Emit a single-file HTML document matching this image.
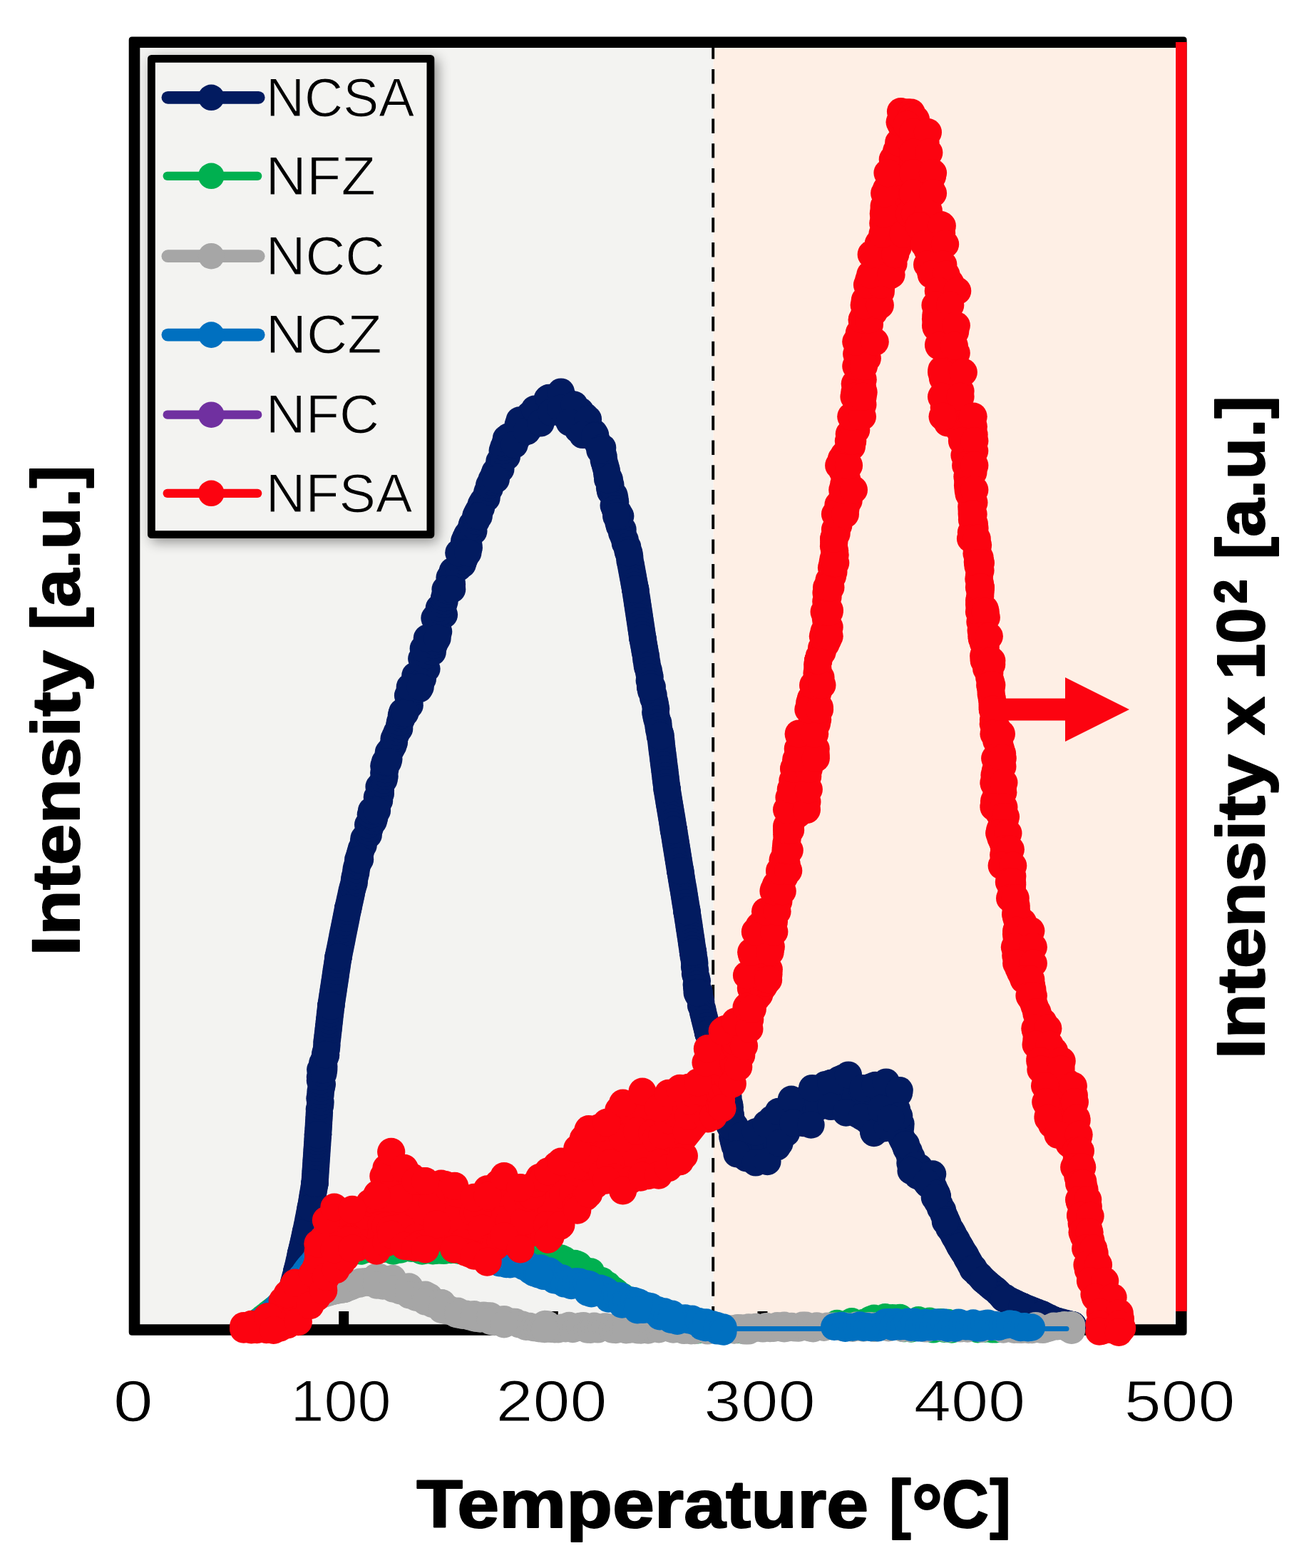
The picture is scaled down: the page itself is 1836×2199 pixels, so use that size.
<!DOCTYPE html>
<html lang="en"><head><meta charset="utf-8"><title>TPD profile</title>
<style>
html,body{margin:0;padding:0;background:#fff;}
body{width:1836px;height:2199px;overflow:hidden;}
svg{display:block;}
text{font-family:"Liberation Sans",sans-serif;fill:#000;}
.r{font-weight:400;stroke-width:1.2px;}
.rl{stroke:#F3F3F1;}
.rt{stroke:#fff;}
.b{font-weight:700;stroke:#000;stroke-width:2px;stroke-linejoin:round;}
</style></head><body>
<svg width="1836" height="2199" viewBox="0 0 1836 2199">
<defs><filter id="sh" x="-20%" y="-20%" width="150%" height="150%"><feGaussianBlur in="SourceAlpha" stdDeviation="9"/><feOffset dx="5" dy="5"/><feComponentTransfer><feFuncA type="linear" slope="0.42"/></feComponentTransfer><feMerge><feMergeNode/><feMergeNode in="SourceGraphic"/></feMerge></filter></defs>
<rect x="0" y="0" width="1836" height="2199" fill="#fff"/>
<rect x="188.5" y="59.2" width="812.0" height="1805.8" fill="#F3F3F1"/>
<rect x="1000.5" y="59.2" width="646.1" height="1805.8" fill="#FEEFE5"/>
<line x1="1000.2" y1="59.2" x2="1000.2" y2="1865" stroke="#000" stroke-width="3.9" stroke-dasharray="20.4 14.3" stroke-dashoffset="-3.2"/>
<path fill="#000" fill-rule="evenodd" d="M185.2 51.4 H1660.1 Q1664.6 51.4 1664.6 55.9 V1868.3 Q1664.6 1872.8 1660.1 1872.8 H185.2 Q180.7 1872.8 180.7 1868.3 V55.9 Q180.7 51.4 185.2 51.4 Z M196.3 67 V1857.2 H1649 V67 Z"/>
<line x1="482.2" y1="1839" x2="482.2" y2="1865" stroke="#000" stroke-width="14"/>
<line x1="775.8" y1="1839" x2="775.8" y2="1865" stroke="#000" stroke-width="14"/>
<line x1="1069.5" y1="1839" x2="1069.5" y2="1865" stroke="#000" stroke-width="14"/>
<line x1="1363.1" y1="1839" x2="1363.1" y2="1865" stroke="#000" stroke-width="14"/>
<line x1="1656.8" y1="1839" x2="1656.8" y2="1865" stroke="#000" stroke-width="14"/>
<line x1="1656.8" y1="59" x2="1656.8" y2="1839" stroke="#FC0310" stroke-width="15.6"/>
<path d="M395.8 1856 L406.7 1819.5 L416.2 1782.9 L421.9 1757.8 L428.7 1728.2 L435.6 1694 L441.5 1659.7 L446 1591.3 L449.3 1500 L456.1 1479.2 L464.3 1410.7 L474.6 1342.3 L488.2 1273.8 L502.3 1205.4 L521.1 1136.9 L540 1068.5 L563.9 1000 L574.9 963.4 L598.9 895 L624.6 826.5 L643.4 775.2 L667.3 723.8 L689.6 672.5 L709.9 615.2 L728.7 589.4 L750 573.7 L769.6 557.9 L786.8 549.6 L805.6 567.8 L824.9 587.9 L835.1 610.2 L845.1 627.9 L854.8 672.5 L870.2 723.8 L882.2 775.2 L891.2 826.5 L901.4 895 L914.7 963.4 L926.7 1031.9 L935.7 1107 L945 1164.1 L954.2 1221.1 L963.5 1278.2 L972.1 1335.2 L980.6 1392.3 L993.4 1449.3 L1015.4 1489.3 L1027.6 1574.5 L1040.5 1592.5 L1059.9 1587.5 L1074.7 1576.1 L1091.9 1558.9 L1109.9 1541.8 L1139.1 1526.1 L1165.4 1519 L1189.9 1507.6 L1210.3 1526.1 L1227.6 1521.9 L1242.9 1517.6 L1261.6 1529.1 L1261.1 1565.1 L1270.9 1604.9 L1284.2 1634.3 L1308.1 1646.5 L1313.7 1673.9 L1327.2 1711.5 L1346.5 1748 L1365.7 1778.7 L1379.3 1795 L1410.1 1820 L1433.5 1832.1 L1462 1843.5 L1480 1852.1 L1504.8 1858.5 L1504.8 1858.5 L1480 1852.1 L1462 1843.5 L1433.5 1832.1 L1408.4 1821.4 L1379.3 1795 L1364.4 1780 L1346.5 1748 L1325.9 1713.1 L1310.9 1679.5 L1299.4 1658.3 L1277.6 1642 L1269.6 1605.8 L1249.4 1568.6 L1236 1554.7 L1244.7 1580.5 L1225.8 1589 L1208.9 1566.2 L1186.6 1560.5 L1165.4 1551.9 L1137.5 1577.6 L1112.5 1574.8 L1093.4 1603.3 L1076.4 1629 L1059.9 1630.4 L1033.5 1618.2 L1023.7 1579.2 L1010.2 1490.4 L993.4 1449.3 L977.7 1392.3 L972 1335.2 L963.4 1278.2 L954.2 1221.1 L944.9 1164.1 L935.7 1107 L925.8 1031.9 L912.1 963.4 L901.4 895 L891.2 826.5 L881.3 775.2 L864.2 723.8 L852.2 672.5 L841.4 631.5 L834.3 611.5 L817.1 609.9 L798.7 592.4 L786.8 572.8 L773.2 578.3 L758.5 593.3 L738.7 605 L721.6 623.6 L695.7 672.5 L671.7 723.8 L656.3 775.2 L634.1 826.5 L613.5 895 L589.6 963.4 L568.3 1000 L544.3 1068.5 L528.9 1136.9 L505 1205.4 L488.2 1273.8 L474.6 1342.3 L464.3 1410.7 L457.1 1479.2 L454.2 1500 L446 1591.3 L441.5 1659.7 L436 1694 L429.1 1728.2 L422.3 1757.8 L416.6 1782.9 L406.7 1819.5 L395.8 1856Z" fill="#021B60" stroke="#021B60" stroke-width="6" stroke-linejoin="round"/>
<g fill="#021B60" stroke="none">
<path d="M395.8 1856 L397.3 1851.2 L398.7 1846.3 L400.1 1841.5 L401.5 1836.7 L403 1831.9 L404.4 1827.1 L405.8 1822.3 L407.2 1817.5 L408.5 1812.6 L409.8 1807.8 L411.1 1802.9 L412.3 1798.1 L413.6 1793.2 L414.9 1788.4 L416.2 1783.5 L417.3 1778.7 L418.5 1773.8 L419.6 1768.9 L420.7 1764 L421.8 1759.1 L422.9 1754.2 L424 1749.3 L425.2 1744.4 L426.3 1739.5 L427.4 1734.7 L428.6 1729.8 L429.6 1724.9 L430.6 1719.9 L431.6 1715 L432.5 1710.1 L433.5 1705.2 L434.5 1700.3 L435.5 1695.4 L436.4 1690.4 L437.2 1685.5 L438 1680.5 L438.8 1675.6 L439.7 1670.6 L440.5 1665.7 L441.3 1660.7 L441.7 1655.7 L442.1 1650.7 L442.4 1645.7 L442.7 1640.7 L443.1 1635.7 L443.4 1630.7 L443.7 1625.7 L444.1 1620.7 L444.4 1615.7 L444.7 1610.7 L445.1 1605.7 L445.4 1600.7 L445.7 1595.7 L446.1 1590.7 L446.4 1585.7 L446.7 1580.7 L447 1575.7 L447.3 1570.7 L447.6 1565.7 L447.9 1560.6 L447.9 1555.6 L449.1 1550.6 L449.5 1545.6 L448.5 1540.6 L449.5 1535.6 L449.6 1530.6 L450.8 1525.6 L451.8 1520.6 L449 1515.6 L449 1510.6 L453.4 1505.6 L451.2 1500.6 L454.3 1495.7 L452.3 1490.8 L454.8 1485.9 L456.6 1481 L456.6 1476.1 L457.9 1471.1 L458.4 1466.1 L458.4 1461.1 L459.2 1456.1 L459.7 1451.2 L460.3 1446.2 L460.9 1441.2 L461.4 1436.2 L462 1431.2 L462.5 1426.2 L463.1 1421.3 L463.7 1416.3 L464.2 1411.3 L464.9 1406.3 L465.7 1401.4 L466.4 1396.4 L467.2 1391.4 L467.9 1386.5 L468.7 1381.5 L469.4 1376.6 L470.2 1371.6 L470.9 1366.6 L471.6 1361.7 L472.4 1356.7 L473.1 1351.8 L473.9 1346.8 L474.6 1341.8 L475.6 1336.9 L476.6 1332 L477.6 1327.1 L478.6 1322.2 L479.6 1317.3 L480.5 1312.3 L481.5 1307.4 L482.5 1302.5 L483.5 1297.6 L484.5 1292.7 L485.5 1287.7 L486.4 1282.8 L487.4 1277.9 L488.4 1273 L489.5 1268.1 L490.6 1263.2 L491.7 1258.3 L492.8 1253.4 L493.7 1248.5 L495.1 1243.6 L496.6 1238.7 L497 1233.9 L497.8 1229 L499.2 1224.1 L499.6 1219.2 L500.8 1214.3 L502.5 1209.4 L503.9 1204.5 L504.3 1199.7 L505.6 1194.9 L506.9 1190.1 L509.6 1185.4 L510 1180.6 L510.5 1175.8 L516.7 1171 L516.4 1166.2 L518.7 1161.4 L516.2 1156.6 L523.7 1151.9 L525.1 1147.1 L519.9 1142.3 L522.9 1137.5 L528.5 1132.6 L529.6 1127.8 L532 1122.9 L528.9 1118 L533.8 1113.2 L533.8 1108.3 L531.6 1103.4 L535.4 1098.6 L538.5 1093.7 L539.5 1088.8 L538.3 1084 L540.2 1079.1 L538.4 1074.2 L540.3 1069.4 L545.3 1064.6 L544.6 1059.9 L544.9 1055.2 L548.8 1050.4 L551.4 1045.7 L552.9 1040.9 L552.6 1036.2 L554.7 1031.5 L556.8 1026.7 L560.1 1022 L560.2 1017.3 L561 1012.5 L563.3 1007.8 L562.9 1003.1 L564.4 998.4 L570.7 993.8 L574.6 989.2 L574.2 984.6 L573.3 980 L572.1 975.4 L579 970.9 L587.9 966.3 L588.4 961.6 L585.4 956.9 L592.8 952.2 L582.4 947.4 L589.8 942.7 L598.4 938 L594.6 933.2 L593.5 928.5 L591.3 923.8 L598.9 919 L606.7 914.3 L593.8 909.6 L608.5 904.8 L610.6 900.1 L612.9 895.4 L612.6 890.6 L615.1 885.8 L611.3 881.1 L613.8 876.3 L612.6 871.6 L609.5 866.8 L622.9 862.1 L620.2 857.3 L615.9 852.6 L622.2 847.8 L623.5 843.1 L623.1 838.3 L624.6 833.6 L629.1 828.8 L632.1 824.1 L633.9 819.5 L633.3 814.8 L630.6 810.1 L633.6 805.5 L634.8 800.8 L643 796.2 L648.7 791.5 L650.1 786.9 L652 782.2 L654.3 777.6 L646.4 772.9 L657.7 768.2 L657.2 763.5 L651.2 758.8 L653.2 754.1 L655.4 749.5 L664.3 744.8 L660.8 740.1 L662.1 735.4 L667.9 730.7 L667.6 726 L668.4 721.4 L670.6 716.8 L674.9 712.3 L674.7 707.7 L677.2 703.1 L682.5 698.6 L682.6 694 L683.6 689.4 L686.8 684.8 L686.2 680.3 L690.2 675.7 L692.5 671.1 L692.7 666.3 L694.4 661.5 L702.3 657.9 L701.4 652.7 L700.4 647.2 L706.5 644 L710.8 640.5 L704.7 632 L706.4 626.9 L708.5 622.1 L718.9 623.1 L713.2 612.5 L724.6 615.6 L727.3 611.6 L728.3 605.6 L726.8 595.4 L739 604.8 L742 600.8 L742.6 591.9 L743 581.8 L752.6 590.1 L753.4 579.8 L759.3 582 L760.6 571.1 L767 576.9 L767.7 559.7 L773 560.8 L779.5 575.6 L783.5 573.3 L787.4 555.3 L789.8 576.4 L794.5 563.1 L794.8 585.3 L798 585.9 L804.3 578.1 L809.4 576.4 L814.1 576.6 L810.6 602.5 L821.3 584.3 L817.9 608.2 L821.8 610.1 L828.2 606.7 L833.4 607 L835.1 613.4 L836.9 618.3 L839 622.6 L841.7 626.4 L844.2 630.4 L845.3 635.5 L846.6 640.3 L846.8 645.8 L848.3 650.5 L849.6 655.4 L850.9 660.2 L851.4 665.2 L853.6 670 L854.2 674.9 L856.3 679.8 L855.1 684.6 L856.2 689.5 L861.4 694.3 L862.4 699.2 L863.1 704 L860.7 708.9 L862.4 713.7 L867.2 718.6 L869.5 723.4 L867 728.2 L867.6 733.1 L868.9 737.9 L873.5 742.7 L872.2 747.5 L874.4 752.4 L876.7 757.2 L876.9 762 L880.1 766.8 L880.3 771.7 L882.4 776.5 L883.2 781.4 L883.5 786.4 L884.7 791.3 L885.6 796.2 L886.5 801.2 L887.4 806.1 L888.3 811 L889.2 816 L890.1 820.9 L891 825.8 L891.8 830.8 L892.5 835.8 L893.3 840.7 L894 845.7 L894.8 850.6 L895.5 855.6 L896.3 860.6 L897 865.5 L897.8 870.5 L898.5 875.4 L899.2 880.4 L900 885.4 L900.7 890.3 L901.5 895.3 L902.3 900.2 L903.2 905.2 L904.1 910.1 L904.9 915 L906 920 L906.4 924.9 L907.4 929.9 L907.9 934.8 L909.6 939.7 L910.5 944.7 L911.6 949.6 L910.8 954.6 L912.3 959.5 L912.3 964.4 L913.3 969.4 L916.5 974.3 L916.2 979.2 L918.3 984.2 L919.2 989.1 L920.1 994 L919.3 999 L920.3 1003.9 L921.3 1008.8 L923.2 1013.7 L923.5 1018.7 L924.2 1023.6 L925.8 1028.5 L926.3 1033.5 L927.3 1038.5 L927.7 1043.4 L928.3 1048.4 L928.9 1053.4 L929.6 1058.4 L930.2 1063.3 L930.8 1068.3 L931.4 1073.3 L932.1 1078.3 L932.7 1083.2 L933.3 1088.2 L933.9 1093.2 L934.5 1098.2 L935.2 1103.1 L935.8 1108.1 L936.6 1113.1 L937.4 1118 L938.2 1123 L939 1127.9 L939.9 1132.9 L940.7 1137.8 L941.5 1142.8 L942.3 1147.7 L943.1 1152.7 L943.9 1157.6 L944.7 1162.6 L945.5 1167.5 L946.3 1172.5 L947.1 1177.4 L947.9 1182.4 L948.7 1187.3 L949.5 1192.3 L950.3 1197.2 L951.1 1202.2 L951.9 1207.1 L952.7 1212.1 L953.5 1217 L954.3 1222 L955.1 1226.9 L955.9 1231.9 L956.7 1236.8 L957.5 1241.8 L958.4 1246.7 L959.2 1251.7 L960 1256.6 L960.8 1261.6 L961.6 1266.5 L962.4 1271.5 L963.2 1276.4 L963.9 1281.4 L964.7 1286.4 L965.4 1291.3 L966.2 1296.3 L966.9 1301.2 L967.7 1306.2 L968.4 1311.2 L969.2 1316.1 L969.9 1321.1 L970.6 1326 L971.4 1331 L972.1 1336 L972.7 1340.9 L973.7 1345.9 L974.3 1350.9 L974.1 1355.9 L975.1 1360.8 L975 1365.8 L976.6 1370.8 L977.8 1375.8 L976.8 1380.8 L977.2 1385.7 L980.4 1390.7 L979.3 1395.6 L982.2 1400.5 L983.2 1405.3 L983.1 1410.2 L985.2 1415.1 L986.1 1419.9 L987.3 1424.8 L988.5 1429.7 L989.7 1434.5 L990.9 1439.4 L992.1 1444.3 L993.4 1449.1 L995.5 1453.7 L997.7 1458.2 L999.8 1462.7 L1002.2 1467.2 L1003.4 1471.9 L1006.6 1476.2 L1010 1480.6 L1012.5 1485 L1014.7 1489.5 L1011.9 1495.2 L1016.2 1499.2 L1013.2 1505.3 L1016.4 1509.5 L1014.9 1515.3 L1015.8 1520.3 L1018.8 1524.2 L1019.6 1529 L1019.5 1534.5 L1021.4 1538.6 L1020.2 1544.9 L1023 1548.3 L1023.8 1553.1 L1021.4 1560.8 L1024.8 1563.3 L1024 1569.8 L1025.5 1573.9 L1027.7 1577.4 L1031 1579.5 L1027.3 1594 L1028.8 1600.6 L1030.5 1607.1 L1039.1 1591.5 L1041.3 1595.2 L1042.7 1611.9 L1046.7 1624.2 L1053.5 1610.5 L1058.4 1620.4 L1063.4 1618.5 L1067.7 1589.1 L1072.7 1607 L1076.2 1586.2 L1079.2 1579 L1082.2 1569.5 L1085.6 1574.2 L1090 1608.4 L1092.2 1577.9 L1095.9 1587.4 L1099.1 1582.6 L1102.9 1588.9 L1104.6 1559.7 L1107.5 1552.1 L1110.7 1549.7 L1115.7 1547.2 L1121.7 1573.6 L1126.3 1575.1 L1131 1540.2 L1136.1 1540.1 L1140.3 1554.1 L1144.5 1553.8 L1148.8 1552 L1153.5 1528 L1157.8 1521.1 L1161.9 1524.9 L1166.3 1519 L1171.2 1538.2 L1177 1514.1 L1182.3 1511.7 L1185.7 1544.7 L1191.8 1519.9 L1194.2 1557.4 L1199.6 1540 L1203.1 1562.7 L1209 1527.4 L1212.7 1548 L1216.5 1571.1 L1222.4 1524 L1225.1 1587.6 L1231 1525.7 L1235.3 1577 L1240.5 1582.3 L1243.6 1572.7 L1252 1535 L1260.9 1533.2 L1250.1 1549.3 L1242.7 1560 L1258 1556 L1248.1 1566 L1260.8 1566.8 L1253 1574.6 L1263.5 1576.1 L1263.1 1581.6 L1260.5 1588.2 L1263.2 1592.6 L1265.2 1597.2 L1267.6 1601.6 L1269.9 1606.1 L1271.3 1611 L1274.7 1614.2 L1275.4 1619.7 L1278.5 1622.9 L1276.5 1631.3 L1278.2 1636 L1284.1 1635.9 L1289.5 1637.1 L1286.6 1648.7 L1291.3 1650.8 L1298.1 1650.2 L1302.5 1652.7 L1301.7 1661.2 L1307.2 1660.4 L1309.3 1664.5 L1311.1 1668.8 L1312.9 1673.2 L1314.9 1677.4 L1314.9 1685.6 L1317.6 1688.8 L1319 1694.3 L1322 1697.2 L1323.3 1702.7 L1325.5 1707 L1327.3 1711.8 L1329.5 1716.4 L1331.1 1721.8 L1334.2 1725.5 L1336.6 1729.9 L1338.8 1734.5 L1341.5 1738.7 L1343.8 1743.2 L1346.3 1747.6 L1348.8 1751.9 L1351.4 1756.2 L1354.2 1760.2 L1356.4 1764.9 L1359 1769.1 L1361.3 1773.7 L1364.3 1777.7 L1366.9 1782 L1370.3 1785.7 L1374.1 1789 L1377.3 1792.8 L1380.9 1796.4 L1384.7 1799.6 L1388.5 1802.9 L1392.3 1806.1 L1396.4 1809.1 L1400.1 1812.6 L1403.6 1816.1 L1406.8 1819.8 L1411.2 1822.3 L1416.3 1824 L1420.8 1826.1 L1425.4 1828.3 L1429.9 1830.4 L1434.5 1832.5 L1439.1 1834.4 L1443.8 1836.2 L1448.4 1838.1 L1453.1 1839.9 L1457.7 1841.8 L1462.4 1843.7 L1466.9 1845.9 L1471.4 1848 L1476 1850.2 L1480.5 1852.2 L1485.4 1853.5 L1490.2 1854.7 L1495.1 1856 L1500 1857.2 L1504.8 1858.5" fill="none" stroke="#021B60" stroke-width="19" stroke-linecap="round" stroke-linejoin="round"/>
<circle cx="395.8" cy="1856" r="19.2"/>
<circle cx="397.3" cy="1851.2" r="19.2"/>
<circle cx="398.7" cy="1846.3" r="19.2"/>
<circle cx="400.1" cy="1841.5" r="19.2"/>
<circle cx="401.5" cy="1836.7" r="19.2"/>
<circle cx="403" cy="1831.9" r="19.2"/>
<circle cx="404.4" cy="1827.1" r="19.2"/>
<circle cx="405.8" cy="1822.3" r="19.2"/>
<circle cx="407.2" cy="1817.5" r="19.2"/>
<circle cx="408.5" cy="1812.6" r="19.2"/>
<circle cx="409.8" cy="1807.8" r="19.2"/>
<circle cx="411.1" cy="1802.9" r="19.2"/>
<circle cx="412.3" cy="1798.1" r="19.2"/>
<circle cx="413.6" cy="1793.2" r="19.2"/>
<circle cx="414.9" cy="1788.4" r="19.2"/>
<circle cx="416.2" cy="1783.5" r="19.2"/>
<circle cx="417.3" cy="1778.7" r="19.2"/>
<circle cx="418.5" cy="1773.8" r="19.2"/>
<circle cx="419.6" cy="1768.9" r="19.2"/>
<circle cx="420.7" cy="1764" r="19.2"/>
<circle cx="421.8" cy="1759.1" r="19.2"/>
<circle cx="422.9" cy="1754.2" r="19.2"/>
<circle cx="424" cy="1749.3" r="19.2"/>
<circle cx="425.2" cy="1744.4" r="19.2"/>
<circle cx="426.3" cy="1739.5" r="19.2"/>
<circle cx="427.4" cy="1734.7" r="19.2"/>
<circle cx="428.6" cy="1729.8" r="19.2"/>
<circle cx="429.6" cy="1724.9" r="19.2"/>
<circle cx="430.6" cy="1719.9" r="19.2"/>
<circle cx="431.6" cy="1715" r="19.2"/>
<circle cx="432.5" cy="1710.1" r="19.2"/>
<circle cx="433.5" cy="1705.2" r="19.2"/>
<circle cx="434.5" cy="1700.3" r="19.2"/>
<circle cx="435.5" cy="1695.4" r="19.2"/>
<circle cx="436.4" cy="1690.4" r="19.2"/>
<circle cx="437.2" cy="1685.5" r="19.2"/>
<circle cx="438" cy="1680.5" r="19.2"/>
<circle cx="438.8" cy="1675.6" r="19.2"/>
<circle cx="439.7" cy="1670.6" r="19.2"/>
<circle cx="440.5" cy="1665.7" r="19.2"/>
<circle cx="441.3" cy="1660.7" r="19.2"/>
<circle cx="441.7" cy="1655.7" r="19.2"/>
<circle cx="442.1" cy="1650.7" r="19.2"/>
<circle cx="442.4" cy="1645.7" r="19.2"/>
<circle cx="442.7" cy="1640.7" r="19.2"/>
<circle cx="443.1" cy="1635.7" r="19.2"/>
<circle cx="443.4" cy="1630.7" r="19.2"/>
<circle cx="443.7" cy="1625.7" r="19.2"/>
<circle cx="444.1" cy="1620.7" r="19.2"/>
<circle cx="444.4" cy="1615.7" r="19.2"/>
<circle cx="444.7" cy="1610.7" r="19.2"/>
<circle cx="445.1" cy="1605.7" r="19.2"/>
<circle cx="445.4" cy="1600.7" r="19.2"/>
<circle cx="445.7" cy="1595.7" r="19.2"/>
<circle cx="446.1" cy="1590.7" r="19.2"/>
<circle cx="446.4" cy="1585.7" r="19.2"/>
<circle cx="446.7" cy="1580.7" r="19.2"/>
<circle cx="447" cy="1575.7" r="19.2"/>
<circle cx="447.3" cy="1570.7" r="19.2"/>
<circle cx="447.6" cy="1565.7" r="19.2"/>
<circle cx="447.9" cy="1560.6" r="19.2"/>
<circle cx="447.9" cy="1555.6" r="19.2"/>
<circle cx="449.1" cy="1550.6" r="19.2"/>
<circle cx="449.5" cy="1545.6" r="19.2"/>
<circle cx="448.5" cy="1540.6" r="19.2"/>
<circle cx="449.5" cy="1535.6" r="19.2"/>
<circle cx="449.6" cy="1530.6" r="19.2"/>
<circle cx="450.8" cy="1525.6" r="19.2"/>
<circle cx="451.8" cy="1520.6" r="19.2"/>
<circle cx="449" cy="1515.6" r="19.2"/>
<circle cx="449" cy="1510.6" r="19.2"/>
<circle cx="453.4" cy="1505.6" r="19.2"/>
<circle cx="451.2" cy="1500.6" r="19.2"/>
<circle cx="454.3" cy="1495.7" r="19.2"/>
<circle cx="452.3" cy="1490.8" r="19.2"/>
<circle cx="454.8" cy="1485.9" r="19.2"/>
<circle cx="456.6" cy="1481" r="19.2"/>
<circle cx="456.6" cy="1476.1" r="19.2"/>
<circle cx="457.9" cy="1471.1" r="19.2"/>
<circle cx="458.4" cy="1466.1" r="19.2"/>
<circle cx="458.4" cy="1461.1" r="19.2"/>
<circle cx="459.2" cy="1456.1" r="19.2"/>
<circle cx="459.7" cy="1451.2" r="19.2"/>
<circle cx="460.3" cy="1446.2" r="19.2"/>
<circle cx="460.9" cy="1441.2" r="19.2"/>
<circle cx="461.4" cy="1436.2" r="19.2"/>
<circle cx="462" cy="1431.2" r="19.2"/>
<circle cx="462.5" cy="1426.2" r="19.2"/>
<circle cx="463.1" cy="1421.3" r="19.2"/>
<circle cx="463.7" cy="1416.3" r="19.2"/>
<circle cx="464.2" cy="1411.3" r="19.2"/>
<circle cx="464.9" cy="1406.3" r="19.2"/>
<circle cx="465.7" cy="1401.4" r="19.2"/>
<circle cx="466.4" cy="1396.4" r="19.2"/>
<circle cx="467.2" cy="1391.4" r="19.2"/>
<circle cx="467.9" cy="1386.5" r="19.2"/>
<circle cx="468.7" cy="1381.5" r="19.2"/>
<circle cx="469.4" cy="1376.6" r="19.2"/>
<circle cx="470.2" cy="1371.6" r="19.2"/>
<circle cx="470.9" cy="1366.6" r="19.2"/>
<circle cx="471.6" cy="1361.7" r="19.2"/>
<circle cx="472.4" cy="1356.7" r="19.2"/>
<circle cx="473.1" cy="1351.8" r="19.2"/>
<circle cx="473.9" cy="1346.8" r="19.2"/>
<circle cx="474.6" cy="1341.8" r="19.2"/>
<circle cx="475.6" cy="1336.9" r="19.2"/>
<circle cx="476.6" cy="1332" r="19.2"/>
<circle cx="477.6" cy="1327.1" r="19.2"/>
<circle cx="478.6" cy="1322.2" r="19.2"/>
<circle cx="479.6" cy="1317.3" r="19.2"/>
<circle cx="480.5" cy="1312.3" r="19.2"/>
<circle cx="481.5" cy="1307.4" r="19.2"/>
<circle cx="482.5" cy="1302.5" r="19.2"/>
<circle cx="483.5" cy="1297.6" r="19.2"/>
<circle cx="484.5" cy="1292.7" r="19.2"/>
<circle cx="485.5" cy="1287.7" r="19.2"/>
<circle cx="486.4" cy="1282.8" r="19.2"/>
<circle cx="487.4" cy="1277.9" r="19.2"/>
<circle cx="488.4" cy="1273" r="19.2"/>
<circle cx="489.5" cy="1268.1" r="19.2"/>
<circle cx="490.6" cy="1263.2" r="19.2"/>
<circle cx="491.7" cy="1258.3" r="19.2"/>
<circle cx="492.8" cy="1253.4" r="19.2"/>
<circle cx="493.7" cy="1248.5" r="19.2"/>
<circle cx="495.1" cy="1243.6" r="19.2"/>
<circle cx="496.6" cy="1238.7" r="19.2"/>
<circle cx="497" cy="1233.9" r="19.2"/>
<circle cx="497.8" cy="1229" r="19.2"/>
<circle cx="499.2" cy="1224.1" r="19.2"/>
<circle cx="499.6" cy="1219.2" r="19.2"/>
<circle cx="500.8" cy="1214.3" r="19.2"/>
<circle cx="502.5" cy="1209.4" r="19.2"/>
<circle cx="503.9" cy="1204.5" r="19.2"/>
<circle cx="504.3" cy="1199.7" r="19.2"/>
<circle cx="505.6" cy="1194.9" r="19.2"/>
<circle cx="506.9" cy="1190.1" r="19.2"/>
<circle cx="509.6" cy="1185.4" r="19.2"/>
<circle cx="510" cy="1180.6" r="19.2"/>
<circle cx="510.5" cy="1175.8" r="19.2"/>
<circle cx="516.7" cy="1171" r="19.2"/>
<circle cx="516.4" cy="1166.2" r="19.2"/>
<circle cx="518.7" cy="1161.4" r="19.2"/>
<circle cx="516.2" cy="1156.6" r="19.2"/>
<circle cx="523.7" cy="1151.9" r="19.2"/>
<circle cx="525.1" cy="1147.1" r="19.2"/>
<circle cx="519.9" cy="1142.3" r="19.2"/>
<circle cx="522.9" cy="1137.5" r="19.2"/>
<circle cx="528.5" cy="1132.6" r="19.2"/>
<circle cx="529.6" cy="1127.8" r="19.2"/>
<circle cx="532" cy="1122.9" r="19.2"/>
<circle cx="528.9" cy="1118" r="19.2"/>
<circle cx="533.8" cy="1113.2" r="19.2"/>
<circle cx="533.8" cy="1108.3" r="19.2"/>
<circle cx="531.6" cy="1103.4" r="19.2"/>
<circle cx="535.4" cy="1098.6" r="19.2"/>
<circle cx="538.5" cy="1093.7" r="19.2"/>
<circle cx="539.5" cy="1088.8" r="19.2"/>
<circle cx="538.3" cy="1084" r="19.2"/>
<circle cx="540.2" cy="1079.1" r="19.2"/>
<circle cx="538.4" cy="1074.2" r="19.2"/>
<circle cx="540.3" cy="1069.4" r="19.2"/>
<circle cx="545.3" cy="1064.6" r="19.2"/>
<circle cx="544.6" cy="1059.9" r="19.2"/>
<circle cx="544.9" cy="1055.2" r="19.2"/>
<circle cx="548.8" cy="1050.4" r="19.2"/>
<circle cx="551.4" cy="1045.7" r="19.2"/>
<circle cx="552.9" cy="1040.9" r="19.2"/>
<circle cx="552.6" cy="1036.2" r="19.2"/>
<circle cx="554.7" cy="1031.5" r="19.2"/>
<circle cx="556.8" cy="1026.7" r="19.2"/>
<circle cx="560.1" cy="1022" r="19.2"/>
<circle cx="560.2" cy="1017.3" r="19.2"/>
<circle cx="561" cy="1012.5" r="19.2"/>
<circle cx="563.3" cy="1007.8" r="19.2"/>
<circle cx="562.9" cy="1003.1" r="19.2"/>
<circle cx="564.4" cy="998.4" r="19.2"/>
<circle cx="570.7" cy="993.8" r="19.2"/>
<circle cx="574.6" cy="989.2" r="19.2"/>
<circle cx="574.2" cy="984.6" r="19.2"/>
<circle cx="573.3" cy="980" r="19.2"/>
<circle cx="572.1" cy="975.4" r="19.2"/>
<circle cx="579" cy="970.9" r="19.2"/>
<circle cx="587.9" cy="966.3" r="19.2"/>
<circle cx="588.4" cy="961.6" r="19.2"/>
<circle cx="585.4" cy="956.9" r="19.2"/>
<circle cx="592.8" cy="952.2" r="19.2"/>
<circle cx="582.4" cy="947.4" r="19.2"/>
<circle cx="589.8" cy="942.7" r="19.2"/>
<circle cx="598.4" cy="938" r="19.2"/>
<circle cx="594.6" cy="933.2" r="19.2"/>
<circle cx="593.5" cy="928.5" r="19.2"/>
<circle cx="591.3" cy="923.8" r="19.2"/>
<circle cx="598.9" cy="919" r="19.2"/>
<circle cx="606.7" cy="914.3" r="19.2"/>
<circle cx="593.8" cy="909.6" r="19.2"/>
<circle cx="608.5" cy="904.8" r="19.2"/>
<circle cx="610.6" cy="900.1" r="19.2"/>
<circle cx="612.9" cy="895.4" r="19.2"/>
<circle cx="612.6" cy="890.6" r="19.2"/>
<circle cx="615.1" cy="885.8" r="19.2"/>
<circle cx="611.3" cy="881.1" r="19.2"/>
<circle cx="613.8" cy="876.3" r="19.2"/>
<circle cx="612.6" cy="871.6" r="19.2"/>
<circle cx="609.5" cy="866.8" r="19.2"/>
<circle cx="622.9" cy="862.1" r="19.2"/>
<circle cx="620.2" cy="857.3" r="19.2"/>
<circle cx="615.9" cy="852.6" r="19.2"/>
<circle cx="622.2" cy="847.8" r="19.2"/>
<circle cx="623.5" cy="843.1" r="19.2"/>
<circle cx="623.1" cy="838.3" r="19.2"/>
<circle cx="624.6" cy="833.6" r="19.2"/>
<circle cx="629.1" cy="828.8" r="19.2"/>
<circle cx="632.1" cy="824.1" r="19.2"/>
<circle cx="633.9" cy="819.5" r="19.2"/>
<circle cx="633.3" cy="814.8" r="19.2"/>
<circle cx="630.6" cy="810.1" r="19.2"/>
<circle cx="633.6" cy="805.5" r="19.2"/>
<circle cx="634.8" cy="800.8" r="19.2"/>
<circle cx="643" cy="796.2" r="19.2"/>
<circle cx="648.7" cy="791.5" r="19.2"/>
<circle cx="650.1" cy="786.9" r="19.2"/>
<circle cx="652" cy="782.2" r="19.2"/>
<circle cx="654.3" cy="777.6" r="19.2"/>
<circle cx="646.4" cy="772.9" r="19.2"/>
<circle cx="657.7" cy="768.2" r="19.2"/>
<circle cx="657.2" cy="763.5" r="19.2"/>
<circle cx="651.2" cy="758.8" r="19.2"/>
<circle cx="653.2" cy="754.1" r="19.2"/>
<circle cx="655.4" cy="749.5" r="19.2"/>
<circle cx="664.3" cy="744.8" r="19.2"/>
<circle cx="660.8" cy="740.1" r="19.2"/>
<circle cx="662.1" cy="735.4" r="19.2"/>
<circle cx="667.9" cy="730.7" r="19.2"/>
<circle cx="667.6" cy="726" r="19.2"/>
<circle cx="668.4" cy="721.4" r="19.2"/>
<circle cx="670.6" cy="716.8" r="19.2"/>
<circle cx="674.9" cy="712.3" r="19.2"/>
<circle cx="674.7" cy="707.7" r="19.2"/>
<circle cx="677.2" cy="703.1" r="19.2"/>
<circle cx="682.5" cy="698.6" r="19.2"/>
<circle cx="682.6" cy="694" r="19.2"/>
<circle cx="683.6" cy="689.4" r="19.2"/>
<circle cx="686.8" cy="684.8" r="19.2"/>
<circle cx="686.2" cy="680.3" r="19.2"/>
<circle cx="690.2" cy="675.7" r="19.2"/>
<circle cx="692.5" cy="671.1" r="19.2"/>
<circle cx="692.7" cy="666.3" r="19.2"/>
<circle cx="694.4" cy="661.5" r="19.2"/>
<circle cx="702.3" cy="657.9" r="19.2"/>
<circle cx="701.4" cy="652.7" r="19.2"/>
<circle cx="700.4" cy="647.2" r="19.2"/>
<circle cx="706.5" cy="644" r="19.2"/>
<circle cx="710.8" cy="640.5" r="19.2"/>
<circle cx="704.7" cy="632" r="19.2"/>
<circle cx="706.4" cy="626.9" r="19.2"/>
<circle cx="708.5" cy="622.1" r="19.2"/>
<circle cx="718.9" cy="623.1" r="19.2"/>
<circle cx="713.2" cy="612.5" r="19.2"/>
<circle cx="724.6" cy="615.6" r="19.2"/>
<circle cx="727.3" cy="611.6" r="19.2"/>
<circle cx="728.3" cy="605.6" r="19.2"/>
<circle cx="726.8" cy="595.4" r="19.2"/>
<circle cx="739" cy="604.8" r="19.2"/>
<circle cx="742" cy="600.8" r="19.2"/>
<circle cx="742.6" cy="591.9" r="19.2"/>
<circle cx="743" cy="581.8" r="19.2"/>
<circle cx="752.6" cy="590.1" r="19.2"/>
<circle cx="753.4" cy="579.8" r="19.2"/>
<circle cx="759.3" cy="582" r="19.2"/>
<circle cx="760.6" cy="571.1" r="19.2"/>
<circle cx="767" cy="576.9" r="19.2"/>
<circle cx="767.7" cy="559.7" r="19.2"/>
<circle cx="773" cy="560.8" r="19.2"/>
<circle cx="779.5" cy="575.6" r="19.2"/>
<circle cx="783.5" cy="573.3" r="19.2"/>
<circle cx="787.4" cy="555.3" r="19.2"/>
<circle cx="789.8" cy="576.4" r="19.2"/>
<circle cx="794.5" cy="563.1" r="19.2"/>
<circle cx="794.8" cy="585.3" r="19.2"/>
<circle cx="798" cy="585.9" r="19.2"/>
<circle cx="804.3" cy="578.1" r="19.2"/>
<circle cx="809.4" cy="576.4" r="19.2"/>
<circle cx="814.1" cy="576.6" r="19.2"/>
<circle cx="810.6" cy="602.5" r="19.2"/>
<circle cx="821.3" cy="584.3" r="19.2"/>
<circle cx="817.9" cy="608.2" r="19.2"/>
<circle cx="821.8" cy="610.1" r="19.2"/>
<circle cx="828.2" cy="606.7" r="19.2"/>
<circle cx="833.4" cy="607" r="19.2"/>
<circle cx="835.1" cy="613.4" r="19.2"/>
<circle cx="836.9" cy="618.3" r="19.2"/>
<circle cx="839" cy="622.6" r="19.2"/>
<circle cx="841.7" cy="626.4" r="19.2"/>
<circle cx="844.2" cy="630.4" r="19.2"/>
<circle cx="845.3" cy="635.5" r="19.2"/>
<circle cx="846.6" cy="640.3" r="19.2"/>
<circle cx="846.8" cy="645.8" r="19.2"/>
<circle cx="848.3" cy="650.5" r="19.2"/>
<circle cx="849.6" cy="655.4" r="19.2"/>
<circle cx="850.9" cy="660.2" r="19.2"/>
<circle cx="851.4" cy="665.2" r="19.2"/>
<circle cx="853.6" cy="670" r="19.2"/>
<circle cx="854.2" cy="674.9" r="19.2"/>
<circle cx="856.3" cy="679.8" r="19.2"/>
<circle cx="855.1" cy="684.6" r="19.2"/>
<circle cx="856.2" cy="689.5" r="19.2"/>
<circle cx="861.4" cy="694.3" r="19.2"/>
<circle cx="862.4" cy="699.2" r="19.2"/>
<circle cx="863.1" cy="704" r="19.2"/>
<circle cx="860.7" cy="708.9" r="19.2"/>
<circle cx="862.4" cy="713.7" r="19.2"/>
<circle cx="867.2" cy="718.6" r="19.2"/>
<circle cx="869.5" cy="723.4" r="19.2"/>
<circle cx="867" cy="728.2" r="19.2"/>
<circle cx="867.6" cy="733.1" r="19.2"/>
<circle cx="868.9" cy="737.9" r="19.2"/>
<circle cx="873.5" cy="742.7" r="19.2"/>
<circle cx="872.2" cy="747.5" r="19.2"/>
<circle cx="874.4" cy="752.4" r="19.2"/>
<circle cx="876.7" cy="757.2" r="19.2"/>
<circle cx="876.9" cy="762" r="19.2"/>
<circle cx="880.1" cy="766.8" r="19.2"/>
<circle cx="880.3" cy="771.7" r="19.2"/>
<circle cx="882.4" cy="776.5" r="19.2"/>
<circle cx="883.2" cy="781.4" r="19.2"/>
<circle cx="883.5" cy="786.4" r="19.2"/>
<circle cx="884.7" cy="791.3" r="19.2"/>
<circle cx="885.6" cy="796.2" r="19.2"/>
<circle cx="886.5" cy="801.2" r="19.2"/>
<circle cx="887.4" cy="806.1" r="19.2"/>
<circle cx="888.3" cy="811" r="19.2"/>
<circle cx="889.2" cy="816" r="19.2"/>
<circle cx="890.1" cy="820.9" r="19.2"/>
<circle cx="891" cy="825.8" r="19.2"/>
<circle cx="891.8" cy="830.8" r="19.2"/>
<circle cx="892.5" cy="835.8" r="19.2"/>
<circle cx="893.3" cy="840.7" r="19.2"/>
<circle cx="894" cy="845.7" r="19.2"/>
<circle cx="894.8" cy="850.6" r="19.2"/>
<circle cx="895.5" cy="855.6" r="19.2"/>
<circle cx="896.3" cy="860.6" r="19.2"/>
<circle cx="897" cy="865.5" r="19.2"/>
<circle cx="897.8" cy="870.5" r="19.2"/>
<circle cx="898.5" cy="875.4" r="19.2"/>
<circle cx="899.2" cy="880.4" r="19.2"/>
<circle cx="900" cy="885.4" r="19.2"/>
<circle cx="900.7" cy="890.3" r="19.2"/>
<circle cx="901.5" cy="895.3" r="19.2"/>
<circle cx="902.3" cy="900.2" r="19.2"/>
<circle cx="903.2" cy="905.2" r="19.2"/>
<circle cx="904.1" cy="910.1" r="19.2"/>
<circle cx="904.9" cy="915" r="19.2"/>
<circle cx="906" cy="920" r="19.2"/>
<circle cx="906.4" cy="924.9" r="19.2"/>
<circle cx="907.4" cy="929.9" r="19.2"/>
<circle cx="907.9" cy="934.8" r="19.2"/>
<circle cx="909.6" cy="939.7" r="19.2"/>
<circle cx="910.5" cy="944.7" r="19.2"/>
<circle cx="911.6" cy="949.6" r="19.2"/>
<circle cx="910.8" cy="954.6" r="19.2"/>
<circle cx="912.3" cy="959.5" r="19.2"/>
<circle cx="912.3" cy="964.4" r="19.2"/>
<circle cx="913.3" cy="969.4" r="19.2"/>
<circle cx="916.5" cy="974.3" r="19.2"/>
<circle cx="916.2" cy="979.2" r="19.2"/>
<circle cx="918.3" cy="984.2" r="19.2"/>
<circle cx="919.2" cy="989.1" r="19.2"/>
<circle cx="920.1" cy="994" r="19.2"/>
<circle cx="919.3" cy="999" r="19.2"/>
<circle cx="920.3" cy="1003.9" r="19.2"/>
<circle cx="921.3" cy="1008.8" r="19.2"/>
<circle cx="923.2" cy="1013.7" r="19.2"/>
<circle cx="923.5" cy="1018.7" r="19.2"/>
<circle cx="924.2" cy="1023.6" r="19.2"/>
<circle cx="925.8" cy="1028.5" r="19.2"/>
<circle cx="926.3" cy="1033.5" r="19.2"/>
<circle cx="927.3" cy="1038.5" r="19.2"/>
<circle cx="927.7" cy="1043.4" r="19.2"/>
<circle cx="928.3" cy="1048.4" r="19.2"/>
<circle cx="928.9" cy="1053.4" r="19.2"/>
<circle cx="929.6" cy="1058.4" r="19.2"/>
<circle cx="930.2" cy="1063.3" r="19.2"/>
<circle cx="930.8" cy="1068.3" r="19.2"/>
<circle cx="931.4" cy="1073.3" r="19.2"/>
<circle cx="932.1" cy="1078.3" r="19.2"/>
<circle cx="932.7" cy="1083.2" r="19.2"/>
<circle cx="933.3" cy="1088.2" r="19.2"/>
<circle cx="933.9" cy="1093.2" r="19.2"/>
<circle cx="934.5" cy="1098.2" r="19.2"/>
<circle cx="935.2" cy="1103.1" r="19.2"/>
<circle cx="935.8" cy="1108.1" r="19.2"/>
<circle cx="936.6" cy="1113.1" r="19.2"/>
<circle cx="937.4" cy="1118" r="19.2"/>
<circle cx="938.2" cy="1123" r="19.2"/>
<circle cx="939" cy="1127.9" r="19.2"/>
<circle cx="939.9" cy="1132.9" r="19.2"/>
<circle cx="940.7" cy="1137.8" r="19.2"/>
<circle cx="941.5" cy="1142.8" r="19.2"/>
<circle cx="942.3" cy="1147.7" r="19.2"/>
<circle cx="943.1" cy="1152.7" r="19.2"/>
<circle cx="943.9" cy="1157.6" r="19.2"/>
<circle cx="944.7" cy="1162.6" r="19.2"/>
<circle cx="945.5" cy="1167.5" r="19.2"/>
<circle cx="946.3" cy="1172.5" r="19.2"/>
<circle cx="947.1" cy="1177.4" r="19.2"/>
<circle cx="947.9" cy="1182.4" r="19.2"/>
<circle cx="948.7" cy="1187.3" r="19.2"/>
<circle cx="949.5" cy="1192.3" r="19.2"/>
<circle cx="950.3" cy="1197.2" r="19.2"/>
<circle cx="951.1" cy="1202.2" r="19.2"/>
<circle cx="951.9" cy="1207.1" r="19.2"/>
<circle cx="952.7" cy="1212.1" r="19.2"/>
<circle cx="953.5" cy="1217" r="19.2"/>
<circle cx="954.3" cy="1222" r="19.2"/>
<circle cx="955.1" cy="1226.9" r="19.2"/>
<circle cx="955.9" cy="1231.9" r="19.2"/>
<circle cx="956.7" cy="1236.8" r="19.2"/>
<circle cx="957.5" cy="1241.8" r="19.2"/>
<circle cx="958.4" cy="1246.7" r="19.2"/>
<circle cx="959.2" cy="1251.7" r="19.2"/>
<circle cx="960" cy="1256.6" r="19.2"/>
<circle cx="960.8" cy="1261.6" r="19.2"/>
<circle cx="961.6" cy="1266.5" r="19.2"/>
<circle cx="962.4" cy="1271.5" r="19.2"/>
<circle cx="963.2" cy="1276.4" r="19.2"/>
<circle cx="963.9" cy="1281.4" r="19.2"/>
<circle cx="964.7" cy="1286.4" r="19.2"/>
<circle cx="965.4" cy="1291.3" r="19.2"/>
<circle cx="966.2" cy="1296.3" r="19.2"/>
<circle cx="966.9" cy="1301.2" r="19.2"/>
<circle cx="967.7" cy="1306.2" r="19.2"/>
<circle cx="968.4" cy="1311.2" r="19.2"/>
<circle cx="969.2" cy="1316.1" r="19.2"/>
<circle cx="969.9" cy="1321.1" r="19.2"/>
<circle cx="970.6" cy="1326" r="19.2"/>
<circle cx="971.4" cy="1331" r="19.2"/>
<circle cx="972.1" cy="1336" r="19.2"/>
<circle cx="972.7" cy="1340.9" r="19.2"/>
<circle cx="973.7" cy="1345.9" r="19.2"/>
<circle cx="974.3" cy="1350.9" r="19.2"/>
<circle cx="974.1" cy="1355.9" r="19.2"/>
<circle cx="975.1" cy="1360.8" r="19.2"/>
<circle cx="975" cy="1365.8" r="19.2"/>
<circle cx="976.6" cy="1370.8" r="19.2"/>
<circle cx="977.8" cy="1375.8" r="19.2"/>
<circle cx="976.8" cy="1380.8" r="19.2"/>
<circle cx="977.2" cy="1385.7" r="19.2"/>
<circle cx="980.4" cy="1390.7" r="19.2"/>
<circle cx="979.3" cy="1395.6" r="19.2"/>
<circle cx="982.2" cy="1400.5" r="19.2"/>
<circle cx="983.2" cy="1405.3" r="19.2"/>
<circle cx="983.1" cy="1410.2" r="19.2"/>
<circle cx="985.2" cy="1415.1" r="19.2"/>
<circle cx="986.1" cy="1419.9" r="19.2"/>
<circle cx="987.3" cy="1424.8" r="19.2"/>
<circle cx="988.5" cy="1429.7" r="19.2"/>
<circle cx="989.7" cy="1434.5" r="19.2"/>
<circle cx="990.9" cy="1439.4" r="19.2"/>
<circle cx="992.1" cy="1444.3" r="19.2"/>
<circle cx="993.4" cy="1449.1" r="19.2"/>
<circle cx="995.5" cy="1453.7" r="19.2"/>
<circle cx="997.7" cy="1458.2" r="19.2"/>
<circle cx="999.8" cy="1462.7" r="19.2"/>
<circle cx="1002.2" cy="1467.2" r="19.2"/>
<circle cx="1003.4" cy="1471.9" r="19.2"/>
<circle cx="1006.6" cy="1476.2" r="19.2"/>
<circle cx="1010" cy="1480.6" r="19.2"/>
<circle cx="1012.5" cy="1485" r="19.2"/>
<circle cx="1014.7" cy="1489.5" r="19.2"/>
<circle cx="1011.9" cy="1495.2" r="19.2"/>
<circle cx="1016.2" cy="1499.2" r="19.2"/>
<circle cx="1013.2" cy="1505.3" r="19.2"/>
<circle cx="1016.4" cy="1509.5" r="19.2"/>
<circle cx="1014.9" cy="1515.3" r="19.2"/>
<circle cx="1015.8" cy="1520.3" r="19.2"/>
<circle cx="1018.8" cy="1524.2" r="19.2"/>
<circle cx="1019.6" cy="1529" r="19.2"/>
<circle cx="1019.5" cy="1534.5" r="19.2"/>
<circle cx="1021.4" cy="1538.6" r="19.2"/>
<circle cx="1020.2" cy="1544.9" r="19.2"/>
<circle cx="1023" cy="1548.3" r="19.2"/>
<circle cx="1023.8" cy="1553.1" r="19.2"/>
<circle cx="1021.4" cy="1560.8" r="19.2"/>
<circle cx="1024.8" cy="1563.3" r="19.2"/>
<circle cx="1024" cy="1569.8" r="19.2"/>
<circle cx="1025.5" cy="1573.9" r="19.2"/>
<circle cx="1027.7" cy="1577.4" r="19.2"/>
<circle cx="1031" cy="1579.5" r="19.2"/>
<circle cx="1027.3" cy="1594" r="19.2"/>
<circle cx="1028.8" cy="1600.6" r="19.2"/>
<circle cx="1030.5" cy="1607.1" r="19.2"/>
<circle cx="1039.1" cy="1591.5" r="19.2"/>
<circle cx="1041.3" cy="1595.2" r="19.2"/>
<circle cx="1042.7" cy="1611.9" r="19.2"/>
<circle cx="1046.7" cy="1624.2" r="19.2"/>
<circle cx="1053.5" cy="1610.5" r="19.2"/>
<circle cx="1058.4" cy="1620.4" r="19.2"/>
<circle cx="1063.4" cy="1618.5" r="19.2"/>
<circle cx="1067.7" cy="1589.1" r="19.2"/>
<circle cx="1072.7" cy="1607" r="19.2"/>
<circle cx="1076.2" cy="1586.2" r="19.2"/>
<circle cx="1079.2" cy="1579" r="19.2"/>
<circle cx="1082.2" cy="1569.5" r="19.2"/>
<circle cx="1085.6" cy="1574.2" r="19.2"/>
<circle cx="1090" cy="1608.4" r="19.2"/>
<circle cx="1092.2" cy="1577.9" r="19.2"/>
<circle cx="1095.9" cy="1587.4" r="19.2"/>
<circle cx="1099.1" cy="1582.6" r="19.2"/>
<circle cx="1102.9" cy="1588.9" r="19.2"/>
<circle cx="1104.6" cy="1559.7" r="19.2"/>
<circle cx="1107.5" cy="1552.1" r="19.2"/>
<circle cx="1110.7" cy="1549.7" r="19.2"/>
<circle cx="1115.7" cy="1547.2" r="19.2"/>
<circle cx="1121.7" cy="1573.6" r="19.2"/>
<circle cx="1126.3" cy="1575.1" r="19.2"/>
<circle cx="1131" cy="1540.2" r="19.2"/>
<circle cx="1136.1" cy="1540.1" r="19.2"/>
<circle cx="1140.3" cy="1554.1" r="19.2"/>
<circle cx="1144.5" cy="1553.8" r="19.2"/>
<circle cx="1148.8" cy="1552" r="19.2"/>
<circle cx="1153.5" cy="1528" r="19.2"/>
<circle cx="1157.8" cy="1521.1" r="19.2"/>
<circle cx="1161.9" cy="1524.9" r="19.2"/>
<circle cx="1166.3" cy="1519" r="19.2"/>
<circle cx="1171.2" cy="1538.2" r="19.2"/>
<circle cx="1177" cy="1514.1" r="19.2"/>
<circle cx="1182.3" cy="1511.7" r="19.2"/>
<circle cx="1185.7" cy="1544.7" r="19.2"/>
<circle cx="1191.8" cy="1519.9" r="19.2"/>
<circle cx="1194.2" cy="1557.4" r="19.2"/>
<circle cx="1199.6" cy="1540" r="19.2"/>
<circle cx="1203.1" cy="1562.7" r="19.2"/>
<circle cx="1209" cy="1527.4" r="19.2"/>
<circle cx="1212.7" cy="1548" r="19.2"/>
<circle cx="1216.5" cy="1571.1" r="19.2"/>
<circle cx="1222.4" cy="1524" r="19.2"/>
<circle cx="1225.1" cy="1587.6" r="19.2"/>
<circle cx="1231" cy="1525.7" r="19.2"/>
<circle cx="1235.3" cy="1577" r="19.2"/>
<circle cx="1240.5" cy="1582.3" r="19.2"/>
<circle cx="1243.6" cy="1572.7" r="19.2"/>
<circle cx="1252" cy="1535" r="19.2"/>
<circle cx="1260.9" cy="1533.2" r="19.2"/>
<circle cx="1250.1" cy="1549.3" r="19.2"/>
<circle cx="1242.7" cy="1560" r="19.2"/>
<circle cx="1258" cy="1556" r="19.2"/>
<circle cx="1248.1" cy="1566" r="19.2"/>
<circle cx="1260.8" cy="1566.8" r="19.2"/>
<circle cx="1253" cy="1574.6" r="19.2"/>
<circle cx="1263.5" cy="1576.1" r="19.2"/>
<circle cx="1263.1" cy="1581.6" r="19.2"/>
<circle cx="1260.5" cy="1588.2" r="19.2"/>
<circle cx="1263.2" cy="1592.6" r="19.2"/>
<circle cx="1265.2" cy="1597.2" r="19.2"/>
<circle cx="1267.6" cy="1601.6" r="19.2"/>
<circle cx="1269.9" cy="1606.1" r="19.2"/>
<circle cx="1271.3" cy="1611" r="19.2"/>
<circle cx="1274.7" cy="1614.2" r="19.2"/>
<circle cx="1275.4" cy="1619.7" r="19.2"/>
<circle cx="1278.5" cy="1622.9" r="19.2"/>
<circle cx="1276.5" cy="1631.3" r="19.2"/>
<circle cx="1278.2" cy="1636" r="19.2"/>
<circle cx="1284.1" cy="1635.9" r="19.2"/>
<circle cx="1289.5" cy="1637.1" r="19.2"/>
<circle cx="1286.6" cy="1648.7" r="19.2"/>
<circle cx="1291.3" cy="1650.8" r="19.2"/>
<circle cx="1298.1" cy="1650.2" r="19.2"/>
<circle cx="1302.5" cy="1652.7" r="19.2"/>
<circle cx="1301.7" cy="1661.2" r="19.2"/>
<circle cx="1307.2" cy="1660.4" r="19.2"/>
<circle cx="1309.3" cy="1664.5" r="19.2"/>
<circle cx="1311.1" cy="1668.8" r="19.2"/>
<circle cx="1312.9" cy="1673.2" r="19.2"/>
<circle cx="1314.9" cy="1677.4" r="19.2"/>
<circle cx="1314.9" cy="1685.6" r="19.2"/>
<circle cx="1317.6" cy="1688.8" r="19.2"/>
<circle cx="1319" cy="1694.3" r="19.2"/>
<circle cx="1322" cy="1697.2" r="19.2"/>
<circle cx="1323.3" cy="1702.7" r="19.2"/>
<circle cx="1325.5" cy="1707" r="19.2"/>
<circle cx="1327.3" cy="1711.8" r="19.2"/>
<circle cx="1329.5" cy="1716.4" r="19.2"/>
<circle cx="1331.1" cy="1721.8" r="19.2"/>
<circle cx="1334.2" cy="1725.5" r="19.2"/>
<circle cx="1336.6" cy="1729.9" r="19.2"/>
<circle cx="1338.8" cy="1734.5" r="19.2"/>
<circle cx="1341.5" cy="1738.7" r="19.2"/>
<circle cx="1343.8" cy="1743.2" r="19.2"/>
<circle cx="1346.3" cy="1747.6" r="19.2"/>
<circle cx="1348.8" cy="1751.9" r="19.2"/>
<circle cx="1351.4" cy="1756.2" r="19.2"/>
<circle cx="1354.2" cy="1760.2" r="19.2"/>
<circle cx="1356.4" cy="1764.9" r="19.2"/>
<circle cx="1359" cy="1769.1" r="19.2"/>
<circle cx="1361.3" cy="1773.7" r="19.2"/>
<circle cx="1364.3" cy="1777.7" r="19.2"/>
<circle cx="1366.9" cy="1782" r="19.2"/>
<circle cx="1370.3" cy="1785.7" r="19.2"/>
<circle cx="1374.1" cy="1789" r="19.2"/>
<circle cx="1377.3" cy="1792.8" r="19.2"/>
<circle cx="1380.9" cy="1796.4" r="19.2"/>
<circle cx="1384.7" cy="1799.6" r="19.2"/>
<circle cx="1388.5" cy="1802.9" r="19.2"/>
<circle cx="1392.3" cy="1806.1" r="19.2"/>
<circle cx="1396.4" cy="1809.1" r="19.2"/>
<circle cx="1400.1" cy="1812.6" r="19.2"/>
<circle cx="1403.6" cy="1816.1" r="19.2"/>
<circle cx="1406.8" cy="1819.8" r="19.2"/>
<circle cx="1411.2" cy="1822.3" r="19.2"/>
<circle cx="1416.3" cy="1824" r="19.2"/>
<circle cx="1420.8" cy="1826.1" r="19.2"/>
<circle cx="1425.4" cy="1828.3" r="19.2"/>
<circle cx="1429.9" cy="1830.4" r="19.2"/>
<circle cx="1434.5" cy="1832.5" r="19.2"/>
<circle cx="1439.1" cy="1834.4" r="19.2"/>
<circle cx="1443.8" cy="1836.2" r="19.2"/>
<circle cx="1448.4" cy="1838.1" r="19.2"/>
<circle cx="1453.1" cy="1839.9" r="19.2"/>
<circle cx="1457.7" cy="1841.8" r="19.2"/>
<circle cx="1462.4" cy="1843.7" r="19.2"/>
<circle cx="1466.9" cy="1845.9" r="19.2"/>
<circle cx="1471.4" cy="1848" r="19.2"/>
<circle cx="1476" cy="1850.2" r="19.2"/>
<circle cx="1480.5" cy="1852.2" r="19.2"/>
<circle cx="1485.4" cy="1853.5" r="19.2"/>
<circle cx="1490.2" cy="1854.7" r="19.2"/>
<circle cx="1495.1" cy="1856" r="19.2"/>
<circle cx="1500" cy="1857.2" r="19.2"/>
<circle cx="1504.8" cy="1858.5" r="19.2"/>
<circle cx="395.8" cy="1856" r="19.2"/>
<circle cx="395.8" cy="1856" r="19.2"/>
<circle cx="406.7" cy="1819.5" r="19.2"/>
<circle cx="406.7" cy="1819.5" r="19.2"/>
<circle cx="416.2" cy="1782.9" r="19.2"/>
<circle cx="416.6" cy="1782.9" r="19.2"/>
<circle cx="421.9" cy="1757.8" r="19.2"/>
<circle cx="422.3" cy="1757.8" r="19.2"/>
<circle cx="428.7" cy="1728.2" r="19.2"/>
<circle cx="429.1" cy="1728.2" r="19.2"/>
<circle cx="435.6" cy="1694" r="19.2"/>
<circle cx="436" cy="1694" r="19.2"/>
<circle cx="441.5" cy="1659.7" r="19.2"/>
<circle cx="441.5" cy="1659.7" r="19.2"/>
<circle cx="446" cy="1591.3" r="19.2"/>
<circle cx="446" cy="1591.3" r="19.2"/>
<circle cx="449.3" cy="1500" r="19.2"/>
<circle cx="454.2" cy="1500" r="19.2"/>
<circle cx="456.1" cy="1479.2" r="19.2"/>
<circle cx="457.1" cy="1479.2" r="19.2"/>
<circle cx="464.3" cy="1410.7" r="19.2"/>
<circle cx="464.3" cy="1410.7" r="19.2"/>
<circle cx="474.6" cy="1342.3" r="19.2"/>
<circle cx="474.6" cy="1342.3" r="19.2"/>
<circle cx="488.2" cy="1273.8" r="19.2"/>
<circle cx="488.2" cy="1273.8" r="19.2"/>
<circle cx="502.3" cy="1205.4" r="19.2"/>
<circle cx="505" cy="1205.4" r="19.2"/>
<circle cx="521.1" cy="1136.9" r="19.2"/>
<circle cx="528.9" cy="1136.9" r="19.2"/>
<circle cx="540" cy="1068.5" r="19.2"/>
<circle cx="544.3" cy="1068.5" r="19.2"/>
<circle cx="563.9" cy="1000" r="19.2"/>
<circle cx="568.3" cy="1000" r="19.2"/>
<circle cx="574.9" cy="963.4" r="19.2"/>
<circle cx="589.6" cy="963.4" r="19.2"/>
<circle cx="598.9" cy="895" r="19.2"/>
<circle cx="613.5" cy="895" r="19.2"/>
<circle cx="624.6" cy="826.5" r="19.2"/>
<circle cx="634.1" cy="826.5" r="19.2"/>
<circle cx="643.4" cy="775.2" r="19.2"/>
<circle cx="656.3" cy="775.2" r="19.2"/>
<circle cx="667.3" cy="723.8" r="19.2"/>
<circle cx="671.7" cy="723.8" r="19.2"/>
<circle cx="689.6" cy="672.5" r="19.2"/>
<circle cx="695.7" cy="672.5" r="19.2"/>
<circle cx="709.9" cy="615.2" r="19.2"/>
<circle cx="721.6" cy="623.6" r="19.2"/>
<circle cx="728.7" cy="589.4" r="19.2"/>
<circle cx="738.7" cy="605" r="19.2"/>
<circle cx="750" cy="573.7" r="19.2"/>
<circle cx="758.5" cy="593.3" r="19.2"/>
<circle cx="769.6" cy="557.9" r="19.2"/>
<circle cx="773.2" cy="578.3" r="19.2"/>
<circle cx="786.8" cy="549.6" r="19.2"/>
<circle cx="786.8" cy="572.8" r="19.2"/>
<circle cx="805.6" cy="567.8" r="19.2"/>
<circle cx="798.7" cy="592.4" r="19.2"/>
<circle cx="824.9" cy="587.9" r="19.2"/>
<circle cx="817.1" cy="609.9" r="19.2"/>
<circle cx="835.1" cy="610.2" r="19.2"/>
<circle cx="834.3" cy="611.5" r="19.2"/>
<circle cx="845.1" cy="627.9" r="19.2"/>
<circle cx="841.4" cy="631.5" r="19.2"/>
<circle cx="854.8" cy="672.5" r="19.2"/>
<circle cx="852.2" cy="672.5" r="19.2"/>
<circle cx="870.2" cy="723.8" r="19.2"/>
<circle cx="864.2" cy="723.8" r="19.2"/>
<circle cx="882.2" cy="775.2" r="19.2"/>
<circle cx="881.3" cy="775.2" r="19.2"/>
<circle cx="891.2" cy="826.5" r="19.2"/>
<circle cx="891.2" cy="826.5" r="19.2"/>
<circle cx="901.4" cy="895" r="19.2"/>
<circle cx="901.4" cy="895" r="19.2"/>
<circle cx="914.7" cy="963.4" r="19.2"/>
<circle cx="912.1" cy="963.4" r="19.2"/>
<circle cx="926.7" cy="1031.9" r="19.2"/>
<circle cx="925.8" cy="1031.9" r="19.2"/>
<circle cx="935.7" cy="1107" r="19.2"/>
<circle cx="935.7" cy="1107" r="19.2"/>
<circle cx="945" cy="1164.1" r="19.2"/>
<circle cx="944.9" cy="1164.1" r="19.2"/>
<circle cx="954.2" cy="1221.1" r="19.2"/>
<circle cx="954.2" cy="1221.1" r="19.2"/>
<circle cx="963.5" cy="1278.2" r="19.2"/>
<circle cx="963.4" cy="1278.2" r="19.2"/>
<circle cx="972.1" cy="1335.2" r="19.2"/>
<circle cx="972" cy="1335.2" r="19.2"/>
<circle cx="980.6" cy="1392.3" r="19.2"/>
<circle cx="977.7" cy="1392.3" r="19.2"/>
<circle cx="993.4" cy="1449.3" r="19.2"/>
<circle cx="993.4" cy="1449.3" r="19.2"/>
<circle cx="1015.4" cy="1489.3" r="19.2"/>
<circle cx="1010.2" cy="1490.4" r="19.2"/>
<circle cx="1027.6" cy="1574.5" r="19.2"/>
<circle cx="1023.7" cy="1579.2" r="19.2"/>
<circle cx="1040.5" cy="1592.5" r="19.2"/>
<circle cx="1033.5" cy="1618.2" r="19.2"/>
<circle cx="1059.9" cy="1587.5" r="19.2"/>
<circle cx="1059.9" cy="1630.4" r="19.2"/>
<circle cx="1074.7" cy="1576.1" r="19.2"/>
<circle cx="1076.4" cy="1629" r="19.2"/>
<circle cx="1091.9" cy="1558.9" r="19.2"/>
<circle cx="1093.4" cy="1603.3" r="19.2"/>
<circle cx="1109.9" cy="1541.8" r="19.2"/>
<circle cx="1112.5" cy="1574.8" r="19.2"/>
<circle cx="1139.1" cy="1526.1" r="19.2"/>
<circle cx="1137.5" cy="1577.6" r="19.2"/>
<circle cx="1165.4" cy="1519" r="19.2"/>
<circle cx="1165.4" cy="1551.9" r="19.2"/>
<circle cx="1189.9" cy="1507.6" r="19.2"/>
<circle cx="1186.6" cy="1560.5" r="19.2"/>
<circle cx="1210.3" cy="1526.1" r="19.2"/>
<circle cx="1208.9" cy="1566.2" r="19.2"/>
<circle cx="1227.6" cy="1521.9" r="19.2"/>
<circle cx="1225.8" cy="1589" r="19.2"/>
<circle cx="1242.9" cy="1517.6" r="19.2"/>
<circle cx="1244.7" cy="1580.5" r="19.2"/>
<circle cx="1261.6" cy="1529.1" r="19.2"/>
<circle cx="1236" cy="1554.7" r="19.2"/>
<circle cx="1261.1" cy="1565.1" r="19.2"/>
<circle cx="1249.4" cy="1568.6" r="19.2"/>
<circle cx="1270.9" cy="1604.9" r="19.2"/>
<circle cx="1269.6" cy="1605.8" r="19.2"/>
<circle cx="1284.2" cy="1634.3" r="19.2"/>
<circle cx="1277.6" cy="1642" r="19.2"/>
<circle cx="1308.1" cy="1646.5" r="19.2"/>
<circle cx="1299.4" cy="1658.3" r="19.2"/>
<circle cx="1313.7" cy="1673.9" r="19.2"/>
<circle cx="1310.9" cy="1679.5" r="19.2"/>
<circle cx="1327.2" cy="1711.5" r="19.2"/>
<circle cx="1325.9" cy="1713.1" r="19.2"/>
<circle cx="1346.5" cy="1748" r="19.2"/>
<circle cx="1346.5" cy="1748" r="19.2"/>
<circle cx="1365.7" cy="1778.7" r="19.2"/>
<circle cx="1364.4" cy="1780" r="19.2"/>
<circle cx="1379.3" cy="1795" r="19.2"/>
<circle cx="1379.3" cy="1795" r="19.2"/>
<circle cx="1410.1" cy="1820" r="19.2"/>
<circle cx="1408.4" cy="1821.4" r="19.2"/>
<circle cx="1433.5" cy="1832.1" r="19.2"/>
<circle cx="1433.5" cy="1832.1" r="19.2"/>
<circle cx="1462" cy="1843.5" r="19.2"/>
<circle cx="1462" cy="1843.5" r="19.2"/>
<circle cx="1480" cy="1852.1" r="19.2"/>
<circle cx="1480" cy="1852.1" r="19.2"/>
<circle cx="1504.8" cy="1858.5" r="19.2"/>
<circle cx="1504.8" cy="1858.5" r="19.2"/>
</g>
<g fill="#00B050" stroke="none">
<path d="M352 1862 L356 1858.9 L360 1855.8 L363.9 1852.7 L367.9 1849.5 L371.9 1846.4 L375.9 1843.3 L379.9 1840.2 L383.9 1837.1 L387.8 1834 L391.8 1830.9 L395.8 1827.7 L399.8 1824.6 L403.8 1821.5 L407 1817.7 L410 1813.6 L412.9 1809.5 L415.8 1805.3 L418.7 1801.2 L421.7 1797.1 L424.6 1793 L427.5 1788.9 L430.5 1784.8 L433.4 1780.6 L436.3 1776.5 L439.3 1772.4 L442.2 1768.3 L445.1 1764.2 L448.3 1760.2 L451.3 1756.1 L453.5 1751.5 L456.2 1747.1 L463.5 1746.9 L467.2 1743.6 L470.6 1740 L469.2 1730.9 L477.5 1732.8 L481.1 1731.8 L484.2 1734.3 L484.2 1731 L490.2 1738.3 L494.1 1741.3 L498.7 1748 L502.4 1752 L506.1 1754.6 L511.1 1752.5 L516.2 1751.7 L521.2 1750.5 L526.3 1749.7 L531.3 1749.7 L536.4 1751.9 L541.5 1750.8 L546.5 1751.2 L551.6 1754.5 L556.6 1752.3 L561.7 1752.6 L566.7 1750.3 L571.8 1749.7 L576.8 1750.8 L581.9 1749.9 L587 1752.2 L592 1754.6 L597.1 1753.4 L602.1 1749.8 L607.2 1754.2 L612.2 1753.7 L617.3 1753.2 L622.3 1753.9 L627.4 1753.1 L632.4 1753.1 L637.5 1749.3 L642.5 1753.5 L647.5 1754.2 L652.5 1750 L657.5 1753.9 L662.5 1753.7 L667.6 1751.8 L672.7 1752.4 L677.7 1752.1 L682.5 1754.7 L687.8 1752.1 L692.6 1754.4 L698.1 1750.9 L702.6 1754.7 L707.5 1754.8 L713.2 1751.8 L718 1753.3 L722.5 1756.1 L727.7 1755.8 L733.2 1754.4 L738.9 1753 L743.7 1754.3 L747.7 1758.1 L754.1 1754.6 L757.2 1760.4 L764 1756.4 L767.2 1761.8 L774 1757.9 L777 1763.3 L782.1 1764.3 L787.4 1764.7 L791.9 1767 L796 1770.2 L800.8 1771.9 L806.3 1772 L811.1 1773.7 L814.8 1777.8 L818.4 1781.9 L823.5 1782.9 L828.8 1783.4 L831 1790.2 L835.1 1793 L838.8 1796.7 L844.4 1796.3 L846.9 1802.5 L852.5 1802.3 L855.3 1807.9 L860.2 1809.1 L864.3 1812.1 L867.2 1817.5 L872.5 1818.1 L875.9 1822.4 L879.5 1826.3 L884.2 1827.7 L888.2 1830.8 L891.6 1835.6 L896 1837.5 L899.7 1841.6 L904.2 1842.6 L908 1846.4 L912.1 1848.7 L915.8 1854.2 L920 1854.2 L923.9 1861.8 L928.9 1857.7 L933.9 1861.9 L939 1859.2 L944 1860.5 L949 1863.5 L954 1861.6 L959.1 1862.4 L964.1 1864.5 L969.1 1864.2 L974.2 1863.8 L979.2 1865.3 L984.3 1863.8 L989.3 1863.8 L994.4 1864.2 L999.4 1864.8 L1004.5 1865 L1009.6 1863.8 L1014.6 1864.1 L1019.7 1863.8 L1024.7 1864.4 L1029.8 1865.1 L1034.8 1865 L1039.9 1865.2 L1044.9 1865.1 L1050 1865.2" fill="none" stroke="#00B050" stroke-width="12.5" stroke-linecap="round" stroke-linejoin="round"/>
<circle cx="352" cy="1862" r="19.2"/>
<circle cx="356" cy="1858.9" r="19.2"/>
<circle cx="360" cy="1855.8" r="19.2"/>
<circle cx="363.9" cy="1852.7" r="19.2"/>
<circle cx="367.9" cy="1849.5" r="19.2"/>
<circle cx="371.9" cy="1846.4" r="19.2"/>
<circle cx="375.9" cy="1843.3" r="19.2"/>
<circle cx="379.9" cy="1840.2" r="19.2"/>
<circle cx="383.9" cy="1837.1" r="19.2"/>
<circle cx="387.8" cy="1834" r="19.2"/>
<circle cx="391.8" cy="1830.9" r="19.2"/>
<circle cx="395.8" cy="1827.7" r="19.2"/>
<circle cx="399.8" cy="1824.6" r="19.2"/>
<circle cx="403.8" cy="1821.5" r="19.2"/>
<circle cx="407" cy="1817.7" r="19.2"/>
<circle cx="410" cy="1813.6" r="19.2"/>
<circle cx="412.9" cy="1809.5" r="19.2"/>
<circle cx="415.8" cy="1805.3" r="19.2"/>
<circle cx="418.7" cy="1801.2" r="19.2"/>
<circle cx="421.7" cy="1797.1" r="19.2"/>
<circle cx="424.6" cy="1793" r="19.2"/>
<circle cx="427.5" cy="1788.9" r="19.2"/>
<circle cx="430.5" cy="1784.8" r="19.2"/>
<circle cx="433.4" cy="1780.6" r="19.2"/>
<circle cx="436.3" cy="1776.5" r="19.2"/>
<circle cx="439.3" cy="1772.4" r="19.2"/>
<circle cx="442.2" cy="1768.3" r="19.2"/>
<circle cx="445.1" cy="1764.2" r="19.2"/>
<circle cx="448.3" cy="1760.2" r="19.2"/>
<circle cx="451.3" cy="1756.1" r="19.2"/>
<circle cx="453.5" cy="1751.5" r="19.2"/>
<circle cx="456.2" cy="1747.1" r="19.2"/>
<circle cx="463.5" cy="1746.9" r="19.2"/>
<circle cx="467.2" cy="1743.6" r="19.2"/>
<circle cx="470.6" cy="1740" r="19.2"/>
<circle cx="469.2" cy="1730.9" r="19.2"/>
<circle cx="477.5" cy="1732.8" r="19.2"/>
<circle cx="481.1" cy="1731.8" r="19.2"/>
<circle cx="484.2" cy="1734.3" r="19.2"/>
<circle cx="484.2" cy="1731" r="19.2"/>
<circle cx="490.2" cy="1738.3" r="19.2"/>
<circle cx="494.1" cy="1741.3" r="19.2"/>
<circle cx="498.7" cy="1748" r="19.2"/>
<circle cx="502.4" cy="1752" r="19.2"/>
<circle cx="506.1" cy="1754.6" r="19.2"/>
<circle cx="511.1" cy="1752.5" r="19.2"/>
<circle cx="516.2" cy="1751.7" r="19.2"/>
<circle cx="521.2" cy="1750.5" r="19.2"/>
<circle cx="526.3" cy="1749.7" r="19.2"/>
<circle cx="531.3" cy="1749.7" r="19.2"/>
<circle cx="536.4" cy="1751.9" r="19.2"/>
<circle cx="541.5" cy="1750.8" r="19.2"/>
<circle cx="546.5" cy="1751.2" r="19.2"/>
<circle cx="551.6" cy="1754.5" r="19.2"/>
<circle cx="556.6" cy="1752.3" r="19.2"/>
<circle cx="561.7" cy="1752.6" r="19.2"/>
<circle cx="566.7" cy="1750.3" r="19.2"/>
<circle cx="571.8" cy="1749.7" r="19.2"/>
<circle cx="576.8" cy="1750.8" r="19.2"/>
<circle cx="581.9" cy="1749.9" r="19.2"/>
<circle cx="587" cy="1752.2" r="19.2"/>
<circle cx="592" cy="1754.6" r="19.2"/>
<circle cx="597.1" cy="1753.4" r="19.2"/>
<circle cx="602.1" cy="1749.8" r="19.2"/>
<circle cx="607.2" cy="1754.2" r="19.2"/>
<circle cx="612.2" cy="1753.7" r="19.2"/>
<circle cx="617.3" cy="1753.2" r="19.2"/>
<circle cx="622.3" cy="1753.9" r="19.2"/>
<circle cx="627.4" cy="1753.1" r="19.2"/>
<circle cx="632.4" cy="1753.1" r="19.2"/>
<circle cx="637.5" cy="1749.3" r="19.2"/>
<circle cx="642.5" cy="1753.5" r="19.2"/>
<circle cx="647.5" cy="1754.2" r="19.2"/>
<circle cx="652.5" cy="1750" r="19.2"/>
<circle cx="657.5" cy="1753.9" r="19.2"/>
<circle cx="662.5" cy="1753.7" r="19.2"/>
<circle cx="667.6" cy="1751.8" r="19.2"/>
<circle cx="672.7" cy="1752.4" r="19.2"/>
<circle cx="677.7" cy="1752.1" r="19.2"/>
<circle cx="682.5" cy="1754.7" r="19.2"/>
<circle cx="687.8" cy="1752.1" r="19.2"/>
<circle cx="692.6" cy="1754.4" r="19.2"/>
<circle cx="698.1" cy="1750.9" r="19.2"/>
<circle cx="702.6" cy="1754.7" r="19.2"/>
<circle cx="707.5" cy="1754.8" r="19.2"/>
<circle cx="713.2" cy="1751.8" r="19.2"/>
<circle cx="718" cy="1753.3" r="19.2"/>
<circle cx="722.5" cy="1756.1" r="19.2"/>
<circle cx="727.7" cy="1755.8" r="19.2"/>
<circle cx="733.2" cy="1754.4" r="19.2"/>
<circle cx="738.9" cy="1753" r="19.2"/>
<circle cx="743.7" cy="1754.3" r="19.2"/>
<circle cx="747.7" cy="1758.1" r="19.2"/>
<circle cx="754.1" cy="1754.6" r="19.2"/>
<circle cx="757.2" cy="1760.4" r="19.2"/>
<circle cx="764" cy="1756.4" r="19.2"/>
<circle cx="767.2" cy="1761.8" r="19.2"/>
<circle cx="774" cy="1757.9" r="19.2"/>
<circle cx="777" cy="1763.3" r="19.2"/>
<circle cx="782.1" cy="1764.3" r="19.2"/>
<circle cx="787.4" cy="1764.7" r="19.2"/>
<circle cx="791.9" cy="1767" r="19.2"/>
<circle cx="796" cy="1770.2" r="19.2"/>
<circle cx="800.8" cy="1771.9" r="19.2"/>
<circle cx="806.3" cy="1772" r="19.2"/>
<circle cx="811.1" cy="1773.7" r="19.2"/>
<circle cx="814.8" cy="1777.8" r="19.2"/>
<circle cx="818.4" cy="1781.9" r="19.2"/>
<circle cx="823.5" cy="1782.9" r="19.2"/>
<circle cx="828.8" cy="1783.4" r="19.2"/>
<circle cx="831" cy="1790.2" r="19.2"/>
<circle cx="835.1" cy="1793" r="19.2"/>
<circle cx="838.8" cy="1796.7" r="19.2"/>
<circle cx="844.4" cy="1796.3" r="19.2"/>
<circle cx="846.9" cy="1802.5" r="19.2"/>
<circle cx="852.5" cy="1802.3" r="19.2"/>
<circle cx="855.3" cy="1807.9" r="19.2"/>
<circle cx="860.2" cy="1809.1" r="19.2"/>
<circle cx="864.3" cy="1812.1" r="19.2"/>
<circle cx="867.2" cy="1817.5" r="19.2"/>
<circle cx="872.5" cy="1818.1" r="19.2"/>
<circle cx="875.9" cy="1822.4" r="19.2"/>
<circle cx="879.5" cy="1826.3" r="19.2"/>
<circle cx="884.2" cy="1827.7" r="19.2"/>
<circle cx="888.2" cy="1830.8" r="19.2"/>
<circle cx="891.6" cy="1835.6" r="19.2"/>
<circle cx="896" cy="1837.5" r="19.2"/>
<circle cx="899.7" cy="1841.6" r="19.2"/>
<circle cx="904.2" cy="1842.6" r="19.2"/>
<circle cx="908" cy="1846.4" r="19.2"/>
<circle cx="912.1" cy="1848.7" r="19.2"/>
<circle cx="915.8" cy="1854.2" r="19.2"/>
<circle cx="920" cy="1854.2" r="19.2"/>
<circle cx="923.9" cy="1861.8" r="19.2"/>
<circle cx="928.9" cy="1857.7" r="19.2"/>
<circle cx="933.9" cy="1861.9" r="19.2"/>
<circle cx="939" cy="1859.2" r="19.2"/>
<circle cx="944" cy="1860.5" r="19.2"/>
<circle cx="949" cy="1863.5" r="19.2"/>
<circle cx="954" cy="1861.6" r="19.2"/>
<circle cx="959.1" cy="1862.4" r="19.2"/>
<circle cx="964.1" cy="1864.5" r="19.2"/>
<circle cx="969.1" cy="1864.2" r="19.2"/>
<circle cx="974.2" cy="1863.8" r="19.2"/>
<circle cx="979.2" cy="1865.3" r="19.2"/>
<circle cx="984.3" cy="1863.8" r="19.2"/>
<circle cx="989.3" cy="1863.8" r="19.2"/>
<circle cx="994.4" cy="1864.2" r="19.2"/>
<circle cx="999.4" cy="1864.8" r="19.2"/>
<circle cx="1004.5" cy="1865" r="19.2"/>
<circle cx="1009.6" cy="1863.8" r="19.2"/>
<circle cx="1014.6" cy="1864.1" r="19.2"/>
<circle cx="1019.7" cy="1863.8" r="19.2"/>
<circle cx="1024.7" cy="1864.4" r="19.2"/>
<circle cx="1029.8" cy="1865.1" r="19.2"/>
<circle cx="1034.8" cy="1865" r="19.2"/>
<circle cx="1039.9" cy="1865.2" r="19.2"/>
<circle cx="1044.9" cy="1865.1" r="19.2"/>
<circle cx="1050" cy="1865.2" r="19.2"/>
</g>
<g fill="#00B050" stroke="none">
<path d="M1174 1855.9 L1179.1 1858.8 L1184.3 1858.2 L1189.5 1856.4 L1194.7 1853.3 L1199.9 1859.1 L1205.1 1859.2 L1210.3 1855.3 L1215.5 1855.1 L1220.7 1850.7 L1225.9 1848.7 L1231.1 1852 L1236.3 1856 L1241.5 1847.3 L1246.7 1859.8 L1251.9 1848.3 L1257.1 1849 L1262.3 1847.9 L1267.4 1863.1 L1272.6 1861.3 L1277.8 1863.6 L1282.9 1859.9 L1288.1 1851.2 L1293.3 1854.7 L1298.6 1858.1 L1303.8 1852.8 L1309 1864.4 L1314.2 1856.6 L1319.4 1854.3 L1324.6 1863.8 L1329.8 1854.9 L1335 1864.6 L1340.2 1859.3 L1345.4 1861 L1350.6 1858.4 L1355.8 1860.3 L1361 1857.1 L1366.2 1856.6 L1371.4 1864.3 L1376.6 1857.8 L1381.8 1863.6 L1387 1857.8 L1392.2 1864.4 L1397.4 1864.2 L1402.6 1863.3 L1407.8 1863.4" fill="none" stroke="#00B050" stroke-width="12.5" stroke-linecap="round" stroke-linejoin="round"/>
<circle cx="1174" cy="1855.9" r="19.2"/>
<circle cx="1179.1" cy="1858.8" r="19.2"/>
<circle cx="1184.3" cy="1858.2" r="19.2"/>
<circle cx="1189.5" cy="1856.4" r="19.2"/>
<circle cx="1194.7" cy="1853.3" r="19.2"/>
<circle cx="1199.9" cy="1859.1" r="19.2"/>
<circle cx="1205.1" cy="1859.2" r="19.2"/>
<circle cx="1210.3" cy="1855.3" r="19.2"/>
<circle cx="1215.5" cy="1855.1" r="19.2"/>
<circle cx="1220.7" cy="1850.7" r="19.2"/>
<circle cx="1225.9" cy="1848.7" r="19.2"/>
<circle cx="1231.1" cy="1852" r="19.2"/>
<circle cx="1236.3" cy="1856" r="19.2"/>
<circle cx="1241.5" cy="1847.3" r="19.2"/>
<circle cx="1246.7" cy="1859.8" r="19.2"/>
<circle cx="1251.9" cy="1848.3" r="19.2"/>
<circle cx="1257.1" cy="1849" r="19.2"/>
<circle cx="1262.3" cy="1847.9" r="19.2"/>
<circle cx="1267.4" cy="1863.1" r="19.2"/>
<circle cx="1272.6" cy="1861.3" r="19.2"/>
<circle cx="1277.8" cy="1863.6" r="19.2"/>
<circle cx="1282.9" cy="1859.9" r="19.2"/>
<circle cx="1288.1" cy="1851.2" r="19.2"/>
<circle cx="1293.3" cy="1854.7" r="19.2"/>
<circle cx="1298.6" cy="1858.1" r="19.2"/>
<circle cx="1303.8" cy="1852.8" r="19.2"/>
<circle cx="1309" cy="1864.4" r="19.2"/>
<circle cx="1314.2" cy="1856.6" r="19.2"/>
<circle cx="1319.4" cy="1854.3" r="19.2"/>
<circle cx="1324.6" cy="1863.8" r="19.2"/>
<circle cx="1329.8" cy="1854.9" r="19.2"/>
<circle cx="1335" cy="1864.6" r="19.2"/>
<circle cx="1340.2" cy="1859.3" r="19.2"/>
<circle cx="1345.4" cy="1861" r="19.2"/>
<circle cx="1350.6" cy="1858.4" r="19.2"/>
<circle cx="1355.8" cy="1860.3" r="19.2"/>
<circle cx="1361" cy="1857.1" r="19.2"/>
<circle cx="1366.2" cy="1856.6" r="19.2"/>
<circle cx="1371.4" cy="1864.3" r="19.2"/>
<circle cx="1376.6" cy="1857.8" r="19.2"/>
<circle cx="1381.8" cy="1863.6" r="19.2"/>
<circle cx="1387" cy="1857.8" r="19.2"/>
<circle cx="1392.2" cy="1864.4" r="19.2"/>
<circle cx="1397.4" cy="1864.2" r="19.2"/>
<circle cx="1402.6" cy="1863.3" r="19.2"/>
<circle cx="1407.8" cy="1863.4" r="19.2"/>
</g>
<g fill="#A6A6A6" stroke="none">
<path d="M407.2 1843.4 L411.4 1840.6 L415.6 1837.8 L419.8 1835 L424 1832.2 L428.2 1829.4 L432.3 1826.6 L436.5 1823.7 L440.6 1820.9 L444.8 1818 L449.4 1816.2 L454.2 1814.7 L459 1813.3 L463.9 1811.8 L468.7 1810.4 L473.7 1809.5 L478.6 1808.7 L483.5 1807.7 L488.2 1805.8 L492.9 1803.9 L497.6 1802 L502.2 1799.9 L507 1799 L512 1797.2 L517 1798.9 L522 1799 L527.1 1791.2 L532 1791.1 L537 1803.5 L542 1794.2 L547 1794.4 L551.9 1807.4 L556.5 1801.9 L561.1 1810.3 L565.7 1806.2 L570.2 1811.3 L574.8 1805.6 L579.4 1815.2 L584 1819.8 L588.6 1817.4 L593.2 1822.4 L597.8 1823.6 L602.3 1818.8 L606.8 1829.1 L611.3 1829.3 L615.8 1827.4 L620.3 1827.7 L625 1838.1 L629.7 1835.8 L634.3 1840 L639 1842.4 L643.8 1843 L648.7 1844.8 L653.6 1842.6 L658.6 1846.4 L663.5 1845 L668.5 1848.8 L673.5 1849.6 L678.4 1844.7 L683.4 1845.4 L688.4 1846.4 L693.3 1854 L698.2 1850.8 L703.1 1854.1 L708 1851.7 L713 1854.5 L718 1853.7 L723 1854 L728 1857.2 L733 1857.7 L738 1860.8 L743 1860 L748 1862.1 L753 1862.5 L758 1863.4 L763 1862.2 L768 1857.5 L773.1 1863.9 L778.1 1864.3 L783.1 1864.2 L788.2 1861.8 L793.2 1863.2 L798.2 1858.9 L803.3 1864.1 L808.3 1862.3 L813.3 1860 L818.4 1859.1 L823.4 1864.5 L828.4 1864.8 L833.5 1859.8 L838.5 1864.4 L843.5 1861.8 L848.6 1860.5 L853.6 1861.4 L858.6 1864.5 L863.7 1865 L868.7 1861.1 L873.7 1864 L878.8 1861.5 L883.8 1864.6 L888.8 1862.4 L893.9 1865.3 L898.9 1865.5 L903.9 1863.5 L909 1865.6 L914 1862.4 L919 1861.5 L924.1 1864.3 L929.1 1861.5 L934.1 1861.9 L939.2 1863.1 L944.2 1864.5 L949.2 1861.7 L954.3 1861.5 L959.3 1865.9 L964.4 1862.5 L969.4 1866.2 L974.4 1866.1 L979.5 1863 L984.5 1863.6 L989.5 1864.1 L994.6 1865 L999.6 1864.7 L1004.6 1864.4 L1009.7 1864.9 L1014.7 1866.4 L1019.7 1864 L1024.8 1863.4 L1029.8 1865.5 L1034.8 1862.1 L1039.9 1862.5 L1044.9 1866.4 L1049.9 1864.1 L1055 1864 L1060 1860.9 L1065 1862.4 L1070 1863.4 L1075.1 1860.1 L1080.1 1863 L1085.1 1862.8 L1090.2 1859.3 L1095.2 1862.2 L1100.2 1860.8 L1105.2 1862.2 L1110.3 1860 L1115.3 1862.4 L1120.3 1862.6 L1125.4 1858.7 L1130.4 1858.7 L1135.5 1862.2 L1140.5 1863.3 L1145.5 1859.4 L1150.6 1860.7 L1155.6 1861.7 L1160.6 1859.8 L1165.7 1860 L1170.7 1859.7 L1175.7 1860.1 L1180.8 1861.7 L1185.8 1859.7 L1190.8 1860.1 L1195.9 1862.7 L1200.9 1858.7 L1205.9 1861.5 L1211 1862.5 L1216 1859.7 L1221 1859.2 L1226.1 1862.9 L1231.1 1859.3 L1236.2 1859.1 L1241.2 1860.5 L1246.2 1862.3 L1251.3 1858.8 L1256.3 1859.8 L1261.3 1859.9 L1266.4 1863 L1271.4 1860.6 L1276.4 1863.1 L1281.5 1859 L1286.5 1859.9 L1291.5 1862 L1296.6 1863.2 L1301.6 1860.7 L1306.6 1859.2 L1311.7 1858.8 L1316.7 1861.3 L1321.7 1859.1 L1326.8 1863.2 L1331.8 1863.4 L1336.8 1859 L1341.9 1859.5 L1346.9 1863.4 L1352 1862.4 L1357 1863.5 L1362 1860 L1367.1 1858.8 L1372.1 1859.6 L1377.1 1863.7 L1382.2 1859.5 L1387.2 1860.1 L1392.2 1860.7 L1397.3 1860.7 L1402.3 1860.6 L1407.3 1864.5 L1412.4 1858.8 L1417.4 1858.4 L1422.4 1864.8 L1427.5 1864.6 L1432.5 1864.9 L1437.5 1861 L1442.6 1865 L1447.6 1865 L1452.7 1859.1 L1457.7 1864.2 L1462.7 1864.9 L1467.8 1863.6 L1472.8 1862.1 L1477.8 1859.7 L1482.9 1860.2 L1487.9 1859.1 L1492.9 1858.3 L1498 1863 L1503 1859.6" fill="none" stroke="#A6A6A6" stroke-width="19" stroke-linecap="round" stroke-linejoin="round"/>
<circle cx="407.2" cy="1843.4" r="19.2"/>
<circle cx="411.4" cy="1840.6" r="19.2"/>
<circle cx="415.6" cy="1837.8" r="19.2"/>
<circle cx="419.8" cy="1835" r="19.2"/>
<circle cx="424" cy="1832.2" r="19.2"/>
<circle cx="428.2" cy="1829.4" r="19.2"/>
<circle cx="432.3" cy="1826.6" r="19.2"/>
<circle cx="436.5" cy="1823.7" r="19.2"/>
<circle cx="440.6" cy="1820.9" r="19.2"/>
<circle cx="444.8" cy="1818" r="19.2"/>
<circle cx="449.4" cy="1816.2" r="19.2"/>
<circle cx="454.2" cy="1814.7" r="19.2"/>
<circle cx="459" cy="1813.3" r="19.2"/>
<circle cx="463.9" cy="1811.8" r="19.2"/>
<circle cx="468.7" cy="1810.4" r="19.2"/>
<circle cx="473.7" cy="1809.5" r="19.2"/>
<circle cx="478.6" cy="1808.7" r="19.2"/>
<circle cx="483.5" cy="1807.7" r="19.2"/>
<circle cx="488.2" cy="1805.8" r="19.2"/>
<circle cx="492.9" cy="1803.9" r="19.2"/>
<circle cx="497.6" cy="1802" r="19.2"/>
<circle cx="502.2" cy="1799.9" r="19.2"/>
<circle cx="507" cy="1799" r="19.2"/>
<circle cx="512" cy="1797.2" r="19.2"/>
<circle cx="517" cy="1798.9" r="19.2"/>
<circle cx="522" cy="1799" r="19.2"/>
<circle cx="527.1" cy="1791.2" r="19.2"/>
<circle cx="532" cy="1791.1" r="19.2"/>
<circle cx="537" cy="1803.5" r="19.2"/>
<circle cx="542" cy="1794.2" r="19.2"/>
<circle cx="547" cy="1794.4" r="19.2"/>
<circle cx="551.9" cy="1807.4" r="19.2"/>
<circle cx="556.5" cy="1801.9" r="19.2"/>
<circle cx="561.1" cy="1810.3" r="19.2"/>
<circle cx="565.7" cy="1806.2" r="19.2"/>
<circle cx="570.2" cy="1811.3" r="19.2"/>
<circle cx="574.8" cy="1805.6" r="19.2"/>
<circle cx="579.4" cy="1815.2" r="19.2"/>
<circle cx="584" cy="1819.8" r="19.2"/>
<circle cx="588.6" cy="1817.4" r="19.2"/>
<circle cx="593.2" cy="1822.4" r="19.2"/>
<circle cx="597.8" cy="1823.6" r="19.2"/>
<circle cx="602.3" cy="1818.8" r="19.2"/>
<circle cx="606.8" cy="1829.1" r="19.2"/>
<circle cx="611.3" cy="1829.3" r="19.2"/>
<circle cx="615.8" cy="1827.4" r="19.2"/>
<circle cx="620.3" cy="1827.7" r="19.2"/>
<circle cx="625" cy="1838.1" r="19.2"/>
<circle cx="629.7" cy="1835.8" r="19.2"/>
<circle cx="634.3" cy="1840" r="19.2"/>
<circle cx="639" cy="1842.4" r="19.2"/>
<circle cx="643.8" cy="1843" r="19.2"/>
<circle cx="648.7" cy="1844.8" r="19.2"/>
<circle cx="653.6" cy="1842.6" r="19.2"/>
<circle cx="658.6" cy="1846.4" r="19.2"/>
<circle cx="663.5" cy="1845" r="19.2"/>
<circle cx="668.5" cy="1848.8" r="19.2"/>
<circle cx="673.5" cy="1849.6" r="19.2"/>
<circle cx="678.4" cy="1844.7" r="19.2"/>
<circle cx="683.4" cy="1845.4" r="19.2"/>
<circle cx="688.4" cy="1846.4" r="19.2"/>
<circle cx="693.3" cy="1854" r="19.2"/>
<circle cx="698.2" cy="1850.8" r="19.2"/>
<circle cx="703.1" cy="1854.1" r="19.2"/>
<circle cx="708" cy="1851.7" r="19.2"/>
<circle cx="713" cy="1854.5" r="19.2"/>
<circle cx="718" cy="1853.7" r="19.2"/>
<circle cx="723" cy="1854" r="19.2"/>
<circle cx="728" cy="1857.2" r="19.2"/>
<circle cx="733" cy="1857.7" r="19.2"/>
<circle cx="738" cy="1860.8" r="19.2"/>
<circle cx="743" cy="1860" r="19.2"/>
<circle cx="748" cy="1862.1" r="19.2"/>
<circle cx="753" cy="1862.5" r="19.2"/>
<circle cx="758" cy="1863.4" r="19.2"/>
<circle cx="763" cy="1862.2" r="19.2"/>
<circle cx="768" cy="1857.5" r="19.2"/>
<circle cx="773.1" cy="1863.9" r="19.2"/>
<circle cx="778.1" cy="1864.3" r="19.2"/>
<circle cx="783.1" cy="1864.2" r="19.2"/>
<circle cx="788.2" cy="1861.8" r="19.2"/>
<circle cx="793.2" cy="1863.2" r="19.2"/>
<circle cx="798.2" cy="1858.9" r="19.2"/>
<circle cx="803.3" cy="1864.1" r="19.2"/>
<circle cx="808.3" cy="1862.3" r="19.2"/>
<circle cx="813.3" cy="1860" r="19.2"/>
<circle cx="818.4" cy="1859.1" r="19.2"/>
<circle cx="823.4" cy="1864.5" r="19.2"/>
<circle cx="828.4" cy="1864.8" r="19.2"/>
<circle cx="833.5" cy="1859.8" r="19.2"/>
<circle cx="838.5" cy="1864.4" r="19.2"/>
<circle cx="843.5" cy="1861.8" r="19.2"/>
<circle cx="848.6" cy="1860.5" r="19.2"/>
<circle cx="853.6" cy="1861.4" r="19.2"/>
<circle cx="858.6" cy="1864.5" r="19.2"/>
<circle cx="863.7" cy="1865" r="19.2"/>
<circle cx="868.7" cy="1861.1" r="19.2"/>
<circle cx="873.7" cy="1864" r="19.2"/>
<circle cx="878.8" cy="1861.5" r="19.2"/>
<circle cx="883.8" cy="1864.6" r="19.2"/>
<circle cx="888.8" cy="1862.4" r="19.2"/>
<circle cx="893.9" cy="1865.3" r="19.2"/>
<circle cx="898.9" cy="1865.5" r="19.2"/>
<circle cx="903.9" cy="1863.5" r="19.2"/>
<circle cx="909" cy="1865.6" r="19.2"/>
<circle cx="914" cy="1862.4" r="19.2"/>
<circle cx="919" cy="1861.5" r="19.2"/>
<circle cx="924.1" cy="1864.3" r="19.2"/>
<circle cx="929.1" cy="1861.5" r="19.2"/>
<circle cx="934.1" cy="1861.9" r="19.2"/>
<circle cx="939.2" cy="1863.1" r="19.2"/>
<circle cx="944.2" cy="1864.5" r="19.2"/>
<circle cx="949.2" cy="1861.7" r="19.2"/>
<circle cx="954.3" cy="1861.5" r="19.2"/>
<circle cx="959.3" cy="1865.9" r="19.2"/>
<circle cx="964.4" cy="1862.5" r="19.2"/>
<circle cx="969.4" cy="1866.2" r="19.2"/>
<circle cx="974.4" cy="1866.1" r="19.2"/>
<circle cx="979.5" cy="1863" r="19.2"/>
<circle cx="984.5" cy="1863.6" r="19.2"/>
<circle cx="989.5" cy="1864.1" r="19.2"/>
<circle cx="994.6" cy="1865" r="19.2"/>
<circle cx="999.6" cy="1864.7" r="19.2"/>
<circle cx="1004.6" cy="1864.4" r="19.2"/>
<circle cx="1009.7" cy="1864.9" r="19.2"/>
<circle cx="1014.7" cy="1866.4" r="19.2"/>
<circle cx="1019.7" cy="1864" r="19.2"/>
<circle cx="1024.8" cy="1863.4" r="19.2"/>
<circle cx="1029.8" cy="1865.5" r="19.2"/>
<circle cx="1034.8" cy="1862.1" r="19.2"/>
<circle cx="1039.9" cy="1862.5" r="19.2"/>
<circle cx="1044.9" cy="1866.4" r="19.2"/>
<circle cx="1049.9" cy="1864.1" r="19.2"/>
<circle cx="1055" cy="1864" r="19.2"/>
<circle cx="1060" cy="1860.9" r="19.2"/>
<circle cx="1065" cy="1862.4" r="19.2"/>
<circle cx="1070" cy="1863.4" r="19.2"/>
<circle cx="1075.1" cy="1860.1" r="19.2"/>
<circle cx="1080.1" cy="1863" r="19.2"/>
<circle cx="1085.1" cy="1862.8" r="19.2"/>
<circle cx="1090.2" cy="1859.3" r="19.2"/>
<circle cx="1095.2" cy="1862.2" r="19.2"/>
<circle cx="1100.2" cy="1860.8" r="19.2"/>
<circle cx="1105.2" cy="1862.2" r="19.2"/>
<circle cx="1110.3" cy="1860" r="19.2"/>
<circle cx="1115.3" cy="1862.4" r="19.2"/>
<circle cx="1120.3" cy="1862.6" r="19.2"/>
<circle cx="1125.4" cy="1858.7" r="19.2"/>
<circle cx="1130.4" cy="1858.7" r="19.2"/>
<circle cx="1135.5" cy="1862.2" r="19.2"/>
<circle cx="1140.5" cy="1863.3" r="19.2"/>
<circle cx="1145.5" cy="1859.4" r="19.2"/>
<circle cx="1150.6" cy="1860.7" r="19.2"/>
<circle cx="1155.6" cy="1861.7" r="19.2"/>
<circle cx="1160.6" cy="1859.8" r="19.2"/>
<circle cx="1165.7" cy="1860" r="19.2"/>
<circle cx="1170.7" cy="1859.7" r="19.2"/>
<circle cx="1175.7" cy="1860.1" r="19.2"/>
<circle cx="1180.8" cy="1861.7" r="19.2"/>
<circle cx="1185.8" cy="1859.7" r="19.2"/>
<circle cx="1190.8" cy="1860.1" r="19.2"/>
<circle cx="1195.9" cy="1862.7" r="19.2"/>
<circle cx="1200.9" cy="1858.7" r="19.2"/>
<circle cx="1205.9" cy="1861.5" r="19.2"/>
<circle cx="1211" cy="1862.5" r="19.2"/>
<circle cx="1216" cy="1859.7" r="19.2"/>
<circle cx="1221" cy="1859.2" r="19.2"/>
<circle cx="1226.1" cy="1862.9" r="19.2"/>
<circle cx="1231.1" cy="1859.3" r="19.2"/>
<circle cx="1236.2" cy="1859.1" r="19.2"/>
<circle cx="1241.2" cy="1860.5" r="19.2"/>
<circle cx="1246.2" cy="1862.3" r="19.2"/>
<circle cx="1251.3" cy="1858.8" r="19.2"/>
<circle cx="1256.3" cy="1859.8" r="19.2"/>
<circle cx="1261.3" cy="1859.9" r="19.2"/>
<circle cx="1266.4" cy="1863" r="19.2"/>
<circle cx="1271.4" cy="1860.6" r="19.2"/>
<circle cx="1276.4" cy="1863.1" r="19.2"/>
<circle cx="1281.5" cy="1859" r="19.2"/>
<circle cx="1286.5" cy="1859.9" r="19.2"/>
<circle cx="1291.5" cy="1862" r="19.2"/>
<circle cx="1296.6" cy="1863.2" r="19.2"/>
<circle cx="1301.6" cy="1860.7" r="19.2"/>
<circle cx="1306.6" cy="1859.2" r="19.2"/>
<circle cx="1311.7" cy="1858.8" r="19.2"/>
<circle cx="1316.7" cy="1861.3" r="19.2"/>
<circle cx="1321.7" cy="1859.1" r="19.2"/>
<circle cx="1326.8" cy="1863.2" r="19.2"/>
<circle cx="1331.8" cy="1863.4" r="19.2"/>
<circle cx="1336.8" cy="1859" r="19.2"/>
<circle cx="1341.9" cy="1859.5" r="19.2"/>
<circle cx="1346.9" cy="1863.4" r="19.2"/>
<circle cx="1352" cy="1862.4" r="19.2"/>
<circle cx="1357" cy="1863.5" r="19.2"/>
<circle cx="1362" cy="1860" r="19.2"/>
<circle cx="1367.1" cy="1858.8" r="19.2"/>
<circle cx="1372.1" cy="1859.6" r="19.2"/>
<circle cx="1377.1" cy="1863.7" r="19.2"/>
<circle cx="1382.2" cy="1859.5" r="19.2"/>
<circle cx="1387.2" cy="1860.1" r="19.2"/>
<circle cx="1392.2" cy="1860.7" r="19.2"/>
<circle cx="1397.3" cy="1860.7" r="19.2"/>
<circle cx="1402.3" cy="1860.6" r="19.2"/>
<circle cx="1407.3" cy="1864.5" r="19.2"/>
<circle cx="1412.4" cy="1858.8" r="19.2"/>
<circle cx="1417.4" cy="1858.4" r="19.2"/>
<circle cx="1422.4" cy="1864.8" r="19.2"/>
<circle cx="1427.5" cy="1864.6" r="19.2"/>
<circle cx="1432.5" cy="1864.9" r="19.2"/>
<circle cx="1437.5" cy="1861" r="19.2"/>
<circle cx="1442.6" cy="1865" r="19.2"/>
<circle cx="1447.6" cy="1865" r="19.2"/>
<circle cx="1452.7" cy="1859.1" r="19.2"/>
<circle cx="1457.7" cy="1864.2" r="19.2"/>
<circle cx="1462.7" cy="1864.9" r="19.2"/>
<circle cx="1467.8" cy="1863.6" r="19.2"/>
<circle cx="1472.8" cy="1862.1" r="19.2"/>
<circle cx="1477.8" cy="1859.7" r="19.2"/>
<circle cx="1482.9" cy="1860.2" r="19.2"/>
<circle cx="1487.9" cy="1859.1" r="19.2"/>
<circle cx="1492.9" cy="1858.3" r="19.2"/>
<circle cx="1498" cy="1863" r="19.2"/>
<circle cx="1503" cy="1859.6" r="19.2"/>
<circle cx="407.2" cy="1843.4" r="19.2"/>
<circle cx="407.2" cy="1843.4" r="19.2"/>
<circle cx="427.8" cy="1829.7" r="19.2"/>
<circle cx="427.8" cy="1829.7" r="19.2"/>
<circle cx="446" cy="1817.2" r="19.2"/>
<circle cx="446" cy="1817.2" r="19.2"/>
<circle cx="468.9" cy="1810.3" r="19.2"/>
<circle cx="468.9" cy="1810.3" r="19.2"/>
<circle cx="482.5" cy="1808" r="19.2"/>
<circle cx="482.5" cy="1808" r="19.2"/>
<circle cx="505.4" cy="1797.6" r="19.2"/>
<circle cx="505.4" cy="1800.3" r="19.2"/>
<circle cx="528.2" cy="1790.7" r="19.2"/>
<circle cx="528.2" cy="1802.5" r="19.2"/>
<circle cx="551" cy="1793" r="19.2"/>
<circle cx="551" cy="1807.1" r="19.2"/>
<circle cx="573.8" cy="1804.4" r="19.2"/>
<circle cx="573.8" cy="1816.2" r="19.2"/>
<circle cx="596.6" cy="1815.8" r="19.2"/>
<circle cx="596.6" cy="1825.4" r="19.2"/>
<circle cx="619.5" cy="1827.2" r="19.2"/>
<circle cx="619.5" cy="1836.8" r="19.2"/>
<circle cx="642.3" cy="1838.7" r="19.2"/>
<circle cx="642.3" cy="1843.6" r="19.2"/>
<circle cx="665.1" cy="1843.2" r="19.2"/>
<circle cx="665.1" cy="1848.2" r="19.2"/>
<circle cx="687.9" cy="1845.5" r="19.2"/>
<circle cx="687.9" cy="1852.7" r="19.2"/>
<circle cx="707" cy="1850.1" r="19.2"/>
<circle cx="707" cy="1857.3" r="19.2"/>
<circle cx="764.1" cy="1856.9" r="19.2"/>
<circle cx="764.1" cy="1864.1" r="19.2"/>
<circle cx="878.2" cy="1861.5" r="19.2"/>
<circle cx="878.2" cy="1865.3" r="19.2"/>
<circle cx="992.3" cy="1861.5" r="19.2"/>
<circle cx="992.3" cy="1866.4" r="19.2"/>
<circle cx="1050" cy="1861.5" r="19.2"/>
<circle cx="1050" cy="1866.4" r="19.2"/>
<circle cx="1100" cy="1858.7" r="19.2"/>
<circle cx="1100" cy="1863.3" r="19.2"/>
<circle cx="1300" cy="1858.7" r="19.2"/>
<circle cx="1300" cy="1863.3" r="19.2"/>
<circle cx="1503" cy="1858.2" r="19.2"/>
<circle cx="1503" cy="1865.8" r="19.2"/>
</g>
<g fill="#0070C0" stroke="none">
<path d="M352 1862 L356.2 1859.2 L360.4 1856.4 L364.6 1853.6 L368.8 1850.8 L373 1848 L377.2 1845.2 L381.1 1842.1 L384.5 1838.3 L387.9 1834.6 L391.3 1830.9 L394.8 1827.2 L398.2 1823.4 L401.6 1819.7 L405 1816 L408 1811.9 L411 1807.9 L414 1803.8 L417 1799.7 L419.7 1795.5 L422.6 1791.4 L425.9 1787.5 L428.7 1783.3 L431.7 1779.3 L435 1775.4 L438.5 1771.7 L441.4 1767.6 L444.4 1763.5 L446.9 1759.1 L449.6 1754.9 L451.1 1750 L452.7 1745.1 L454.3 1740.3 L456.3 1735.7 L461.1 1732.5 L464.1 1728.9 L469.9 1728.7 L475.8 1729 L471.8 1718.1 L479 1720.3 L487.9 1727.4 L493 1729.2 L497.6 1730.5 L502 1731 L506.6 1724.7 L511.7 1729.4 L516.7 1730 L521.8 1728.2 L526.8 1725.1 L531.8 1727.9 L536.9 1724.7 L541.9 1731.7 L547 1731.5 L552 1728.7 L557.1 1726.1 L562.1 1731.7 L567.2 1729 L572.2 1731.6 L577.3 1731.8 L582.3 1729.1 L587.3 1728.4 L592.3 1731.3 L597.4 1729.6 L602.4 1727 L607.4 1728.8 L612.4 1736.1 L617.5 1727.5 L622.5 1727.9 L627.5 1735.6 L632.5 1730.5 L637.5 1735.2 L642.4 1734.8 L644.7 1737.5 L647.1 1748 L649.4 1746.5 L653.6 1750.4 L658.4 1750.8 L663 1755.5 L668 1754.5 L672.7 1756.7 L677.1 1761.4 L682.3 1759.8 L686.7 1763.5 L691 1767.4 L697 1763.5 L701.9 1765 L706.6 1766.9 L710.2 1773.1 L715.4 1773.2 L721.4 1770.6 L726 1772.7 L731.3 1772.6 L735.4 1776.6 L741.3 1774.4 L744.3 1782.1 L748.7 1785 L753.5 1786.6 L758.7 1786.8 L763 1789.9 L770.5 1782.5 L774.8 1785.9 L777.3 1795.2 L782.3 1795.8 L788.6 1792.4 L791.5 1800.4 L797.2 1799 L801.2 1803.1 L808.2 1797.3 L813.3 1797.8 L817.1 1802.8 L823 1800.5 L826.9 1805.1 L829.5 1814.3 L836.6 1807.8 L842.1 1806.8 L846.8 1808.6 L851.3 1811 L853.7 1821.6 L860.1 1816.9 L865.2 1817.5 L870.4 1817.4 L872.5 1829.6 L878.9 1824.7 L884.3 1823.5 L889.3 1824.2 L894 1825.9 L898.6 1828.2 L901.8 1836.9 L908.2 1831.4 L913.1 1832.5 L916.9 1838.7 L922.3 1837.1 L925.5 1846.3 L932.1 1839.4 L936 1845.3 L940.3 1849.5 L946 1846.6 L950 1852.8 L955.6 1849.8 L961 1848.4 L965.6 1851.3 L970.9 1849.8 L975.4 1853.8 L980.5 1853.2 L984.7 1860.6 L989.7 1861.4 L994.8 1859.6 L999.8 1857.4 L1004.6 1859.9 L1009.5 1861.1 L1014.4 1862.1" fill="none" stroke="#0070C0" stroke-width="19" stroke-linecap="round" stroke-linejoin="round"/>
<circle cx="352" cy="1862" r="19.2"/>
<circle cx="356.2" cy="1859.2" r="19.2"/>
<circle cx="360.4" cy="1856.4" r="19.2"/>
<circle cx="364.6" cy="1853.6" r="19.2"/>
<circle cx="368.8" cy="1850.8" r="19.2"/>
<circle cx="373" cy="1848" r="19.2"/>
<circle cx="377.2" cy="1845.2" r="19.2"/>
<circle cx="381.1" cy="1842.1" r="19.2"/>
<circle cx="384.5" cy="1838.3" r="19.2"/>
<circle cx="387.9" cy="1834.6" r="19.2"/>
<circle cx="391.3" cy="1830.9" r="19.2"/>
<circle cx="394.8" cy="1827.2" r="19.2"/>
<circle cx="398.2" cy="1823.4" r="19.2"/>
<circle cx="401.6" cy="1819.7" r="19.2"/>
<circle cx="405" cy="1816" r="19.2"/>
<circle cx="408" cy="1811.9" r="19.2"/>
<circle cx="411" cy="1807.9" r="19.2"/>
<circle cx="414" cy="1803.8" r="19.2"/>
<circle cx="417" cy="1799.7" r="19.2"/>
<circle cx="419.7" cy="1795.5" r="19.2"/>
<circle cx="422.6" cy="1791.4" r="19.2"/>
<circle cx="425.9" cy="1787.5" r="19.2"/>
<circle cx="428.7" cy="1783.3" r="19.2"/>
<circle cx="431.7" cy="1779.3" r="19.2"/>
<circle cx="435" cy="1775.4" r="19.2"/>
<circle cx="438.5" cy="1771.7" r="19.2"/>
<circle cx="441.4" cy="1767.6" r="19.2"/>
<circle cx="444.4" cy="1763.5" r="19.2"/>
<circle cx="446.9" cy="1759.1" r="19.2"/>
<circle cx="449.6" cy="1754.9" r="19.2"/>
<circle cx="451.1" cy="1750" r="19.2"/>
<circle cx="452.7" cy="1745.1" r="19.2"/>
<circle cx="454.3" cy="1740.3" r="19.2"/>
<circle cx="456.3" cy="1735.7" r="19.2"/>
<circle cx="461.1" cy="1732.5" r="19.2"/>
<circle cx="464.1" cy="1728.9" r="19.2"/>
<circle cx="469.9" cy="1728.7" r="19.2"/>
<circle cx="475.8" cy="1729" r="19.2"/>
<circle cx="471.8" cy="1718.1" r="19.2"/>
<circle cx="479" cy="1720.3" r="19.2"/>
<circle cx="487.9" cy="1727.4" r="19.2"/>
<circle cx="493" cy="1729.2" r="19.2"/>
<circle cx="497.6" cy="1730.5" r="19.2"/>
<circle cx="502" cy="1731" r="19.2"/>
<circle cx="506.6" cy="1724.7" r="19.2"/>
<circle cx="511.7" cy="1729.4" r="19.2"/>
<circle cx="516.7" cy="1730" r="19.2"/>
<circle cx="521.8" cy="1728.2" r="19.2"/>
<circle cx="526.8" cy="1725.1" r="19.2"/>
<circle cx="531.8" cy="1727.9" r="19.2"/>
<circle cx="536.9" cy="1724.7" r="19.2"/>
<circle cx="541.9" cy="1731.7" r="19.2"/>
<circle cx="547" cy="1731.5" r="19.2"/>
<circle cx="552" cy="1728.7" r="19.2"/>
<circle cx="557.1" cy="1726.1" r="19.2"/>
<circle cx="562.1" cy="1731.7" r="19.2"/>
<circle cx="567.2" cy="1729" r="19.2"/>
<circle cx="572.2" cy="1731.6" r="19.2"/>
<circle cx="577.3" cy="1731.8" r="19.2"/>
<circle cx="582.3" cy="1729.1" r="19.2"/>
<circle cx="587.3" cy="1728.4" r="19.2"/>
<circle cx="592.3" cy="1731.3" r="19.2"/>
<circle cx="597.4" cy="1729.6" r="19.2"/>
<circle cx="602.4" cy="1727" r="19.2"/>
<circle cx="607.4" cy="1728.8" r="19.2"/>
<circle cx="612.4" cy="1736.1" r="19.2"/>
<circle cx="617.5" cy="1727.5" r="19.2"/>
<circle cx="622.5" cy="1727.9" r="19.2"/>
<circle cx="627.5" cy="1735.6" r="19.2"/>
<circle cx="632.5" cy="1730.5" r="19.2"/>
<circle cx="637.5" cy="1735.2" r="19.2"/>
<circle cx="642.4" cy="1734.8" r="19.2"/>
<circle cx="644.7" cy="1737.5" r="19.2"/>
<circle cx="647.1" cy="1748" r="19.2"/>
<circle cx="649.4" cy="1746.5" r="19.2"/>
<circle cx="653.6" cy="1750.4" r="19.2"/>
<circle cx="658.4" cy="1750.8" r="19.2"/>
<circle cx="663" cy="1755.5" r="19.2"/>
<circle cx="668" cy="1754.5" r="19.2"/>
<circle cx="672.7" cy="1756.7" r="19.2"/>
<circle cx="677.1" cy="1761.4" r="19.2"/>
<circle cx="682.3" cy="1759.8" r="19.2"/>
<circle cx="686.7" cy="1763.5" r="19.2"/>
<circle cx="691" cy="1767.4" r="19.2"/>
<circle cx="697" cy="1763.5" r="19.2"/>
<circle cx="701.9" cy="1765" r="19.2"/>
<circle cx="706.6" cy="1766.9" r="19.2"/>
<circle cx="710.2" cy="1773.1" r="19.2"/>
<circle cx="715.4" cy="1773.2" r="19.2"/>
<circle cx="721.4" cy="1770.6" r="19.2"/>
<circle cx="726" cy="1772.7" r="19.2"/>
<circle cx="731.3" cy="1772.6" r="19.2"/>
<circle cx="735.4" cy="1776.6" r="19.2"/>
<circle cx="741.3" cy="1774.4" r="19.2"/>
<circle cx="744.3" cy="1782.1" r="19.2"/>
<circle cx="748.7" cy="1785" r="19.2"/>
<circle cx="753.5" cy="1786.6" r="19.2"/>
<circle cx="758.7" cy="1786.8" r="19.2"/>
<circle cx="763" cy="1789.9" r="19.2"/>
<circle cx="770.5" cy="1782.5" r="19.2"/>
<circle cx="774.8" cy="1785.9" r="19.2"/>
<circle cx="777.3" cy="1795.2" r="19.2"/>
<circle cx="782.3" cy="1795.8" r="19.2"/>
<circle cx="788.6" cy="1792.4" r="19.2"/>
<circle cx="791.5" cy="1800.4" r="19.2"/>
<circle cx="797.2" cy="1799" r="19.2"/>
<circle cx="801.2" cy="1803.1" r="19.2"/>
<circle cx="808.2" cy="1797.3" r="19.2"/>
<circle cx="813.3" cy="1797.8" r="19.2"/>
<circle cx="817.1" cy="1802.8" r="19.2"/>
<circle cx="823" cy="1800.5" r="19.2"/>
<circle cx="826.9" cy="1805.1" r="19.2"/>
<circle cx="829.5" cy="1814.3" r="19.2"/>
<circle cx="836.6" cy="1807.8" r="19.2"/>
<circle cx="842.1" cy="1806.8" r="19.2"/>
<circle cx="846.8" cy="1808.6" r="19.2"/>
<circle cx="851.3" cy="1811" r="19.2"/>
<circle cx="853.7" cy="1821.6" r="19.2"/>
<circle cx="860.1" cy="1816.9" r="19.2"/>
<circle cx="865.2" cy="1817.5" r="19.2"/>
<circle cx="870.4" cy="1817.4" r="19.2"/>
<circle cx="872.5" cy="1829.6" r="19.2"/>
<circle cx="878.9" cy="1824.7" r="19.2"/>
<circle cx="884.3" cy="1823.5" r="19.2"/>
<circle cx="889.3" cy="1824.2" r="19.2"/>
<circle cx="894" cy="1825.9" r="19.2"/>
<circle cx="898.6" cy="1828.2" r="19.2"/>
<circle cx="901.8" cy="1836.9" r="19.2"/>
<circle cx="908.2" cy="1831.4" r="19.2"/>
<circle cx="913.1" cy="1832.5" r="19.2"/>
<circle cx="916.9" cy="1838.7" r="19.2"/>
<circle cx="922.3" cy="1837.1" r="19.2"/>
<circle cx="925.5" cy="1846.3" r="19.2"/>
<circle cx="932.1" cy="1839.4" r="19.2"/>
<circle cx="936" cy="1845.3" r="19.2"/>
<circle cx="940.3" cy="1849.5" r="19.2"/>
<circle cx="946" cy="1846.6" r="19.2"/>
<circle cx="950" cy="1852.8" r="19.2"/>
<circle cx="955.6" cy="1849.8" r="19.2"/>
<circle cx="961" cy="1848.4" r="19.2"/>
<circle cx="965.6" cy="1851.3" r="19.2"/>
<circle cx="970.9" cy="1849.8" r="19.2"/>
<circle cx="975.4" cy="1853.8" r="19.2"/>
<circle cx="980.5" cy="1853.2" r="19.2"/>
<circle cx="984.7" cy="1860.6" r="19.2"/>
<circle cx="989.7" cy="1861.4" r="19.2"/>
<circle cx="994.8" cy="1859.6" r="19.2"/>
<circle cx="999.8" cy="1857.4" r="19.2"/>
<circle cx="1004.6" cy="1859.9" r="19.2"/>
<circle cx="1009.5" cy="1861.1" r="19.2"/>
<circle cx="1014.4" cy="1862.1" r="19.2"/>
<circle cx="352" cy="1862" r="19.2"/>
<circle cx="352" cy="1862" r="19.2"/>
<circle cx="379.9" cy="1843.4" r="19.2"/>
<circle cx="379.9" cy="1843.4" r="19.2"/>
<circle cx="405" cy="1816" r="19.2"/>
<circle cx="405" cy="1816" r="19.2"/>
<circle cx="420.6" cy="1794.1" r="19.2"/>
<circle cx="421.3" cy="1794.6" r="19.2"/>
<circle cx="448" cy="1757.6" r="19.2"/>
<circle cx="448.7" cy="1758.1" r="19.2"/>
<circle cx="458.8" cy="1727.2" r="19.2"/>
<circle cx="462.9" cy="1729.1" r="19.2"/>
<circle cx="471.7" cy="1715.8" r="19.2"/>
<circle cx="484.2" cy="1731.4" r="19.2"/>
<circle cx="505.4" cy="1724.6" r="19.2"/>
<circle cx="505.4" cy="1731.8" r="19.2"/>
<circle cx="573.8" cy="1724.6" r="19.2"/>
<circle cx="573.8" cy="1731.8" r="19.2"/>
<circle cx="642.3" cy="1729.1" r="19.2"/>
<circle cx="642.3" cy="1740.9" r="19.2"/>
<circle cx="650" cy="1747.4" r="19.2"/>
<circle cx="650" cy="1752.3" r="19.2"/>
<circle cx="702.2" cy="1765" r="19.2"/>
<circle cx="700.5" cy="1771.2" r="19.2"/>
<circle cx="758.6" cy="1778.5" r="19.2"/>
<circle cx="755.9" cy="1787.4" r="19.2"/>
<circle cx="827.3" cy="1801.4" r="19.2"/>
<circle cx="824.1" cy="1812.4" r="19.2"/>
<circle cx="896.6" cy="1826.7" r="19.2"/>
<circle cx="894" cy="1837.3" r="19.2"/>
<circle cx="942.9" cy="1842.8" r="19.2"/>
<circle cx="941.3" cy="1850.8" r="19.2"/>
<circle cx="990.4" cy="1854.5" r="19.2"/>
<circle cx="989.6" cy="1862" r="19.2"/>
<circle cx="1006" cy="1859.2" r="19.2"/>
<circle cx="1006" cy="1866.4" r="19.2"/>
<circle cx="1014.4" cy="1861.5" r="19.2"/>
<circle cx="1014.4" cy="1867.6" r="19.2"/>
</g>
<g fill="#0070C0" stroke="none">
<path d="M1170.2 1860.8 L1175.4 1859.7 L1180.5 1858.9 L1185.6 1862.7 L1190.7 1860.8 L1195.8 1861.5 L1201 1860.2 L1206.1 1858.4 L1211.2 1861.7 L1216.3 1860.1 L1221.4 1862 L1226.6 1860.8 L1231.7 1862.3 L1236.8 1857.7 L1241.9 1854.4 L1247.1 1854.1 L1252.2 1861.1 L1257.3 1854 L1262.4 1860.3 L1267.6 1859.9 L1272.7 1853.7 L1277.8 1861.8 L1282.9 1853.7 L1288.1 1862.4 L1293.2 1862.3 L1298.3 1854.9 L1303.4 1861.3 L1308.6 1861.4 L1313.7 1854.4 L1318.8 1860.7 L1324 1854.5 L1329.1 1862.7 L1334.2 1861 L1339.3 1862.8 L1344.5 1854.6 L1349.6 1856.5 L1354.7 1860.3 L1359.8 1860.2 L1365 1855.5 L1370.1 1862.6 L1375.2 1862.4 L1380.3 1856.7 L1385.5 1855.6 L1390.6 1861 L1395.7 1858 L1400.8 1861 L1406 1859.1 L1411.1 1858.3 L1416.2 1856.5 L1421.3 1857.3 L1426.4 1859.9 L1431.6 1862 L1436.7 1860.3 L1441.8 1862.3 L1446.9 1861.5" fill="none" stroke="#0070C0" stroke-width="19" stroke-linecap="round" stroke-linejoin="round"/>
<circle cx="1170.2" cy="1860.8" r="19.2"/>
<circle cx="1175.4" cy="1859.7" r="19.2"/>
<circle cx="1180.5" cy="1858.9" r="19.2"/>
<circle cx="1185.6" cy="1862.7" r="19.2"/>
<circle cx="1190.7" cy="1860.8" r="19.2"/>
<circle cx="1195.8" cy="1861.5" r="19.2"/>
<circle cx="1201" cy="1860.2" r="19.2"/>
<circle cx="1206.1" cy="1858.4" r="19.2"/>
<circle cx="1211.2" cy="1861.7" r="19.2"/>
<circle cx="1216.3" cy="1860.1" r="19.2"/>
<circle cx="1221.4" cy="1862" r="19.2"/>
<circle cx="1226.6" cy="1860.8" r="19.2"/>
<circle cx="1231.7" cy="1862.3" r="19.2"/>
<circle cx="1236.8" cy="1857.7" r="19.2"/>
<circle cx="1241.9" cy="1854.4" r="19.2"/>
<circle cx="1247.1" cy="1854.1" r="19.2"/>
<circle cx="1252.2" cy="1861.1" r="19.2"/>
<circle cx="1257.3" cy="1854" r="19.2"/>
<circle cx="1262.4" cy="1860.3" r="19.2"/>
<circle cx="1267.6" cy="1859.9" r="19.2"/>
<circle cx="1272.7" cy="1853.7" r="19.2"/>
<circle cx="1277.8" cy="1861.8" r="19.2"/>
<circle cx="1282.9" cy="1853.7" r="19.2"/>
<circle cx="1288.1" cy="1862.4" r="19.2"/>
<circle cx="1293.2" cy="1862.3" r="19.2"/>
<circle cx="1298.3" cy="1854.9" r="19.2"/>
<circle cx="1303.4" cy="1861.3" r="19.2"/>
<circle cx="1308.6" cy="1861.4" r="19.2"/>
<circle cx="1313.7" cy="1854.4" r="19.2"/>
<circle cx="1318.8" cy="1860.7" r="19.2"/>
<circle cx="1324" cy="1854.5" r="19.2"/>
<circle cx="1329.1" cy="1862.7" r="19.2"/>
<circle cx="1334.2" cy="1861" r="19.2"/>
<circle cx="1339.3" cy="1862.8" r="19.2"/>
<circle cx="1344.5" cy="1854.6" r="19.2"/>
<circle cx="1349.6" cy="1856.5" r="19.2"/>
<circle cx="1354.7" cy="1860.3" r="19.2"/>
<circle cx="1359.8" cy="1860.2" r="19.2"/>
<circle cx="1365" cy="1855.5" r="19.2"/>
<circle cx="1370.1" cy="1862.6" r="19.2"/>
<circle cx="1375.2" cy="1862.4" r="19.2"/>
<circle cx="1380.3" cy="1856.7" r="19.2"/>
<circle cx="1385.5" cy="1855.6" r="19.2"/>
<circle cx="1390.6" cy="1861" r="19.2"/>
<circle cx="1395.7" cy="1858" r="19.2"/>
<circle cx="1400.8" cy="1861" r="19.2"/>
<circle cx="1406" cy="1859.1" r="19.2"/>
<circle cx="1411.1" cy="1858.3" r="19.2"/>
<circle cx="1416.2" cy="1856.5" r="19.2"/>
<circle cx="1421.3" cy="1857.3" r="19.2"/>
<circle cx="1426.4" cy="1859.9" r="19.2"/>
<circle cx="1431.6" cy="1862" r="19.2"/>
<circle cx="1436.7" cy="1860.3" r="19.2"/>
<circle cx="1441.8" cy="1862.3" r="19.2"/>
<circle cx="1446.9" cy="1861.5" r="19.2"/>
</g>
<path d="M1014 1863.5 H1170 M1446 1863.5 H1496" stroke="#0070C0" stroke-width="7" fill="none" stroke-linecap="round"/>
<path d="M341.8 1859.6 L352.5 1857.3 L376 1846.7 L403 1814.9 L413.7 1799.2 L438.3 1785.8 L446 1768.4 L445.9 1744.2 L457.4 1711.3 L468.9 1693 L494 1696.4 L528.2 1677 L541.9 1638.3 L548.7 1615.4 L567 1638.3 L582.9 1656.5 L596.6 1656.5 L637.7 1663.4 L665.1 1679.3 L683.3 1667.9 L684.2 1677 L707 1649.7 L729.9 1665.6 L768.7 1642.8 L786.9 1629.1 L809.7 1610.9 L825.7 1583.5 L850.8 1574.4 L873.6 1547 L901 1531 L923.8 1553.8 L937.5 1533.3 L953.5 1526.4 L979 1517.8 L990 1490.1 L992.4 1470.7 L1013.2 1446.1 L1031.4 1432.8 L1047.1 1412.4 L1047.5 1367.7 L1053.7 1335.2 L1059.4 1306.7 L1073.6 1278.2 L1085 1249.7 L1093.6 1221.1 L1102.1 1192.6 L1103.6 1164.1 L1103.6 1135.6 L1109.3 1107 L1113.6 1078.5 L1119.3 1050 L1118.5 1063.4 L1120.2 1029.2 L1133.9 995 L1140.7 960.7 L1147.6 926.5 L1154.4 892.3 L1156.1 858 L1159.6 823.8 L1168.1 789.6 L1169.8 755.4 L1171.5 721.1 L1181.8 686.9 L1176.7 652.7 L1190.4 618.5 L1193.8 584.2 L1198.9 550 L1198 556.4 L1200.8 513.6 L1200.8 479.3 L1209.4 448 L1212.2 428 L1216.5 399.5 L1220.8 385.2 L1222.2 356.7 L1237.9 328.2 L1239.3 299.7 L1240.7 271.1 L1245 242.6 L1260.7 199.8 L1262.1 171.3 L1264.9 160.8 L1263.5 156.5 L1278.2 158.1 L1284.4 167.4 L1280.7 185.6 L1280.7 214.1 L1280.7 242.6 L1280.7 271.1 L1283.5 299.7 L1289.2 316.8 L1296.4 342.4 L1300.6 371 L1306.3 385.2 L1316.3 408 L1312 428 L1312.6 456.5 L1316.9 485.1 L1320.6 522.1 L1320.6 556.4 L1323.5 584.9 L1322.1 584.2 L1349.5 618.5 L1354.7 652.7 L1358.1 686.9 L1363.2 721.1 L1361.5 755.4 L1371.8 789.6 L1373.5 823.8 L1373.5 858 L1376.9 892.3 L1380.3 926.5 L1388.9 960.7 L1392.3 995 L1394 1029.2 L1395.7 1063.4 L1394 1097.6 L1394 1131.9 L1406.3 1145.6 L1401.7 1168.5 L1408.6 1191.3 L1405.2 1214.1 L1415.4 1236.9 L1416.6 1259.7 L1424.6 1282.5 L1425.7 1305.4 L1423.4 1328.2 L1425.7 1351 L1436 1373.8 L1444 1396.6 L1454.2 1419.5 L1451.9 1442.3 L1453.1 1465.1 L1458.8 1487.9 L1459.9 1500 L1465.6 1522.8 L1466.8 1545.6 L1470.2 1568.5 L1483.9 1591.3 L1509 1614.1 L1506.7 1636.9 L1513.6 1659.7 L1513.6 1682.5 L1515.8 1705.4 L1518.1 1728.2 L1522.7 1751 L1525 1773.8 L1529.5 1796.6 L1536.4 1819.5 L1543.2 1840.7 L1547.8 1862.8 L1541.9 1857.3 L1569.3 1857.3 L1569.3 1868.3 L1541.9 1867.2 L1573.6 1862.8 L1570.2 1841.6 L1561.1 1819.5 L1549.7 1796.6 L1540.5 1773.8 L1533.7 1751 L1528 1728.2 L1529.1 1705.4 L1525.7 1682.5 L1518.8 1659.7 L1517.7 1636.9 L1515.4 1614.1 L1513.1 1591.3 L1509.7 1568.5 L1507.4 1545.6 L1505.2 1522.8 L1488 1500 L1489.2 1487.9 L1472.1 1465.1 L1469.8 1442.3 L1455 1419.5 L1449.3 1396.6 L1445.8 1373.8 L1449.3 1351 L1449.3 1328.2 L1445.8 1305.4 L1426.4 1282.5 L1424.2 1259.7 L1419.6 1236.9 L1420.7 1214.1 L1417.3 1191.3 L1413.9 1168.5 L1410.5 1145.6 L1407.9 1131.9 L1407.9 1097.6 L1406.2 1063.4 L1404.4 1029.2 L1392.5 995 L1390.8 960.7 L1390.8 926.5 L1387.3 892.3 L1382.2 858 L1375.4 823.8 L1375.4 789.6 L1370.2 755.4 L1365.1 721.1 L1366.8 686.9 L1366.8 652.7 L1366.8 618.5 L1365.1 584.2 L1364.1 584.9 L1347 556.4 L1351.3 522.1 L1338.4 485.1 L1341.3 456.5 L1332.7 428 L1342.7 408 L1327 385.2 L1322.8 371 L1325.6 342.4 L1321.3 316.8 L1301.4 299.7 L1308.5 271.1 L1308.5 242.6 L1302.8 214.1 L1301.4 185.6 L1272 175.2 L1278.2 164.5 L1264.3 163.3 L1280.1 173.2 L1275.7 171.3 L1278.5 199.8 L1281.4 242.6 L1281.4 271.1 L1275.7 299.7 L1267.1 328.2 L1255.7 356.7 L1250 385.2 L1235.8 399.5 L1234.3 428 L1218.6 448 L1227.2 479.3 L1211.5 513.6 L1210.1 556.4 L1211.1 550 L1209.4 584.2 L1195.7 618.5 L1190.5 652.7 L1197.4 686.9 L1185.4 721.1 L1170 755.4 L1171.7 789.6 L1164.9 823.8 L1163.1 858 L1163.1 892.3 L1147.7 926.5 L1152.9 960.7 L1149.5 995 L1142.6 1029.2 L1144.3 1063.4 L1144.2 1050 L1134.3 1078.5 L1134.3 1107 L1131.4 1135.6 L1108.6 1164.1 L1107.2 1192.6 L1105.7 1221.1 L1097.2 1249.7 L1090 1278.2 L1085.8 1306.7 L1080.1 1335.2 L1077.6 1374 L1055.3 1414.9 L1050.9 1443 L1043.5 1466.8 L1035.7 1496.4 L1027.3 1519.8 L1013 1554.2 L953.5 1628.7 L937.5 1637.8 L923.8 1648.1 L901 1649.3 L873.6 1669.8 L850.8 1655 L825.7 1674.4 L809.7 1697.2 L786.9 1717.7 L768.7 1738.2 L729.9 1751.9 L707 1733.7 L684.2 1769 L683.3 1770.2 L665.1 1761.1 L637.7 1751.9 L596.6 1751.9 L582.9 1749.7 L567 1747.4 L548.7 1731.4 L541.9 1742.8 L528.2 1754.2 L494 1750.8 L468.9 1751.9 L484.8 1763.3 L471.3 1780.6 L457.5 1790.7 L453.7 1809.8 L435 1830.6 L418.3 1853.7 L383.7 1865.3 L352.5 1864.9 L341.8 1864.2Z" fill="#FC0310" stroke="#FC0310" stroke-width="6" stroke-linejoin="round"/>
<g fill="#FC0310" stroke="none">
<path d="M341.8 1862.8 L347.8 1863.6 L353.8 1864 L360.3 1864.6 L366.5 1862.8 L373.7 1864.7 L374.1 1847.7 L382.3 1852.8 L392.4 1862.1 L395 1853.1 L403.3 1857.9 L396.2 1824.4 L406.6 1834.9 L406.1 1819.1 L416.4 1830.3 L420.9 1826.8 L412 1801.7 L418 1801.5 L424.6 1800.4 L444.4 1819.4 L446.6 1811.9 L438.2 1787.9 L453.2 1802.7 L443.3 1777.1 L453.2 1785.8 L446.6 1764.6 L446.1 1755.7 L468.2 1780.7 L449.9 1744.4 L452.5 1738 L478.7 1771 L480.6 1765.5 L462.4 1722.1 L479 1758.6 L469.8 1729.6 L471.2 1738.1 L477.2 1699.9 L483.2 1750.8 L489.2 1739 L495.2 1750.8 L501 1749.9 L506.9 1702 L512.8 1705.1 L518.6 1687.2 L524.5 1683 L529.2 1674.9 L532.1 1683.6 L535 1717.6 L537.9 1649.6 L540.8 1719.7 L543.2 1661 L545.5 1650.4 L547.7 1724 L551 1672.4 L555.1 1649.2 L559.2 1681.3 L563.4 1722.1 L567.6 1639.8 L572.7 1748 L577.7 1650.7 L582.8 1735.9 L588.8 1745.1 L594.8 1656.6 L600.7 1741.8 L606.7 1685.9 L612.7 1716.9 L618.7 1660.2 L624.7 1661.7 L630.7 1669.2 L636.7 1751.5 L642.3 1674.1 L647.7 1743.2 L653.2 1756.1 L658.7 1758.2 L664.2 1700.5 L670.1 1700.6 L676.1 1723.2 L682.1 1757.5 L684.6 1679.2 L688.2 1749.5 L691.7 1748.7 L695.2 1747.8 L698.8 1659.9 L702.3 1740.4 L705.8 1652.8 L710.2 1673.8 L715 1712.1 L719.9 1742.5 L724.7 1684.2 L729.5 1750.4 L734.9 1712.6 L740.3 1679.2 L745.8 1676.8 L751.2 1660 L756.7 1651.3 L762.1 1651.7 L767.5 1717.7 L772.1 1734.3 L776.5 1642.7 L780.9 1634.1 L785.3 1719.5 L789.8 1675.6 L794.4 1654.2 L799 1631 L803.6 1671.9 L808.2 1692.3 L811.9 1644.6 L815.1 1634.9 L818.3 1596.8 L821.5 1678.7 L824.8 1585.3 L829.4 1625.9 L834.7 1661.9 L839.9 1581.9 L845.1 1645.5 L850.4 1654.8 L856.1 1631.2 L861.9 1651.4 L867.7 1557.2 L873.5 1595.9 L878.5 1550.7 L883.5 1655.3 L888.6 1562.3 L893.6 1586.3 L898.6 1651.1 L903.8 1643 L909.2 1648.7 L914.7 1589.1 L920.1 1597.4 L925.1 1631 L929.1 1591.8 L933.1 1559.7 L937.1 1570.6 L942.3 1536.6 L947.7 1561.1 L953.1 1628.9 L959.4 1620.9 L963.3 1586.5 L966 1565.2 L966.5 1543.4 L965.4 1525.3 L971.6 1533.3 L993.1 1568.8 L1000.5 1565.6 L985.3 1531.4 L1009.4 1550 L1011.5 1543.6 L1010.7 1534.4 L1011.7 1527.1 L1018.4 1525 L999.8 1501.6 L1020.7 1511 L998.3 1487.5 L1011.4 1490 L1029.9 1494.4 L1027.9 1486.3 L1007.5 1466.8 L1039.7 1480 L1032.3 1468.3 L1031.4 1460.7 L1016.6 1443.7 L1036.1 1449.2 L1029.6 1438.5 L1046.1 1440.8 L1042.4 1432.1 L1051.7 1429.7 L1050.6 1422.5 L1054 1417.1 L1049.8 1409.5 L1056.5 1405.2 L1060.6 1400 L1064.8 1394.8 L1053.4 1385.8 L1070.8 1383.6 L1074.1 1378.1 L1071.1 1371.1 L1078 1365.9 L1078.3 1359.4 L1065.7 1351.6 L1066.9 1345.6 L1054.7 1339.3 L1078.7 1333.6 L1081.3 1327.7 L1068.6 1321.8 L1078.2 1315.9 L1080.3 1310 L1081.8 1304.2 L1065.1 1298.5 L1085.4 1292.8 L1081.4 1287 L1085.2 1281.3 L1080.7 1275.6 L1087.4 1269.9 L1091.8 1264.2 L1091.1 1258.4 L1094.1 1252.7 L1085.9 1247 L1088.3 1241.2 L1094.2 1235.4 L1099.9 1229.7 L1094.1 1223.9 L1103.3 1218.1 L1103.2 1212.1 L1098.1 1206.2 L1103 1200.3 L1102.3 1194.4 L1102.4 1188.4 L1102.9 1182.4 L1104.1 1176.4 L1103.7 1170.3 L1104 1164.3 L1103.6 1158.7 L1109.7 1153.2 L1109.3 1147.6 L1118.8 1142 L1121 1136.4 L1108.2 1130.5 L1131.9 1124.5 L1107 1118.6 L1117.2 1112.6 L1113.8 1106.7 L1118.9 1100.7 L1111.9 1094.7 L1132.7 1088.7 L1119.5 1082.7 L1114 1076.8 L1129.8 1071 L1116.7 1065.2 L1130.8 1059.3 L1124.9 1053.5 L1134.8 1052.3 L1144.2 1058.4 L1142.2 1062.4 L1128.2 1056.4 L1141.6 1050.4 L1136.6 1044.4 L1126.8 1038.4 L1121.2 1032.4 L1135.5 1026.5 L1136 1020.7 L1145.4 1014.9 L1146.6 1009.2 L1142 1003.4 L1137.2 997.7 L1149.3 991.8 L1135.7 985.8 L1137.3 979.9 L1146.2 973.9 L1148 968 L1141.1 962 L1149 956 L1151 950 L1146 944 L1146.9 938 L1146.7 932 L1147.8 926 L1149.2 920.3 L1153.1 914.5 L1152.6 908.8 L1158.2 903.1 L1160.7 897.4 L1160.1 891.6 L1156.1 885.6 L1163.1 879.6 L1159.2 873.6 L1158.4 867.6 L1157.6 861.6 L1163.3 855.5 L1160.2 849.5 L1158.8 843.5 L1161 837.5 L1159 831.5 L1163.1 825.5 L1162.7 819.6 L1163 813.8 L1167.5 807.9 L1168.9 802 L1166.5 796.2 L1169.9 790.3 L1168.9 784.3 L1171.1 778.3 L1170.6 772.3 L1169.5 766.2 L1169.7 760.2 L1169.9 754.2 L1173.1 748.4 L1171.5 742.6 L1175.8 736.7 L1175.6 730.9 L1180.2 725.1 L1181.3 719.3 L1185.9 713.5 L1176 707.8 L1190.1 702.1 L1182.1 696.4 L1189.2 690.6 L1185.4 684.9 L1183.7 678.9 L1187.9 673 L1185.3 667.1 L1182.1 661.1 L1188.9 655.2 L1186.3 649.4 L1180.4 643.6 L1184.1 637.8 L1188.7 632 L1194.4 626.2 L1195.2 620.4 L1194.5 614.5 L1191.3 608.7 L1200.7 602.9 L1197 597 L1201.4 591.2 L1205.9 585.4 L1205.1 579.4 L1202.2 573.4 L1209.9 567.4 L1201.5 561.4 L1202.3 555.4 L1210.3 550.5 L1199.1 556.2 L1200.8 550.2 L1209.7 544.2 L1199.3 538.2 L1210.2 532.2 L1208.7 526.2 L1204.7 520.2 L1202.8 514.2 L1212.4 508.3 L1216.3 502.4 L1201.7 496.6 L1210.7 490.7 L1214.6 484.8 L1213.9 479 L1208.2 472.9 L1205.3 466.9 L1216.2 460.9 L1219.4 454.9 L1209.2 448.9 L1211.6 443.3 L1225.3 437.9 L1228.9 432.4 L1228.8 426.9 L1213.3 420.9 L1231.3 414.9 L1235.3 408.9 L1235.6 402.9 L1233.7 397.3 L1218.8 392.3 L1246.3 387.2 L1224.3 381.6 L1243.4 375.7 L1253 369.7 L1248.1 363.7 L1223.6 357.8 L1231.1 352.2 L1259.2 346.8 L1232.3 341.4 L1254 335.9 L1247.5 330.5 L1239.9 324.8 L1260.1 318.8 L1238.8 312.9 L1239.9 307 L1250.6 301.1 L1240 295.1 L1240.1 289.1 L1264.1 283.2 L1274 277.2 L1279.9 271.2 L1243.4 265.2 L1257.8 259.2 L1252 253.2 L1268.6 247.2 L1262.8 241.2 L1280.6 235.3 L1259.3 229.3 L1252.3 223.4 L1274.4 217.4 L1257.7 211.5 L1272.8 205.5 L1269.8 199.6 L1277.6 193.6 L1270.7 187.6 L1272 181.5 L1264.2 175.5 L1271.1 170.2 L1267.2 161.9 L1267 164.1 L1267.1 160.4 L1272.9 157.9 L1278.3 160.3 L1279.1 167.2 L1280.1 173.5 L1284.1 177.9 L1288.2 182.4 L1298.1 187.3 L1282.3 193.3 L1298 199.3 L1296.6 205.4 L1281.1 211.4 L1297.8 217.4 L1281.2 223.4 L1281.6 229.3 L1297.7 235.3 L1284.4 241.3 L1307.5 247.3 L1293.7 253.3 L1287.2 259.4 L1305.7 265.4 L1280.8 271.4 L1302.4 277.4 L1282.1 283.4 L1283.7 289.4 L1302.3 295.4 L1298.6 301.1 L1288.3 305.9 L1288.1 310.7 L1319.8 315.5 L1314.1 321.1 L1320.6 327 L1295.1 332.8 L1315.8 338.7 L1304.7 344.6 L1301.1 350.6 L1304.9 356.7 L1315.7 362.7 L1306.4 368.7 L1309.1 374.5 L1305.3 380.2 L1326 385.8 L1324.9 391 L1332.5 396.3 L1323.3 401.5 L1340.5 406.8 L1328.7 412.3 L1329.3 418 L1326.4 423.7 L1329.8 429.4 L1319.9 435.3 L1312.9 441.3 L1312.5 447.2 L1315.3 453.2 L1313.1 459.1 L1339.6 465.2 L1326.6 471.2 L1336.1 477.2 L1316.6 483.2 L1327.5 489.1 L1341.2 495 L1335.9 500.9 L1329.5 506.7 L1332.3 512.6 L1321 518.5 L1322.4 524.4 L1322.4 530.4 L1329.5 536.4 L1329.7 542.4 L1347 548.4 L1322.1 554.4 L1325.3 560.2 L1327.1 565.9 L1324.3 571.6 L1329.7 577.2 L1328.4 582.9 L1343.7 587.2 L1329.1 592.8 L1365.3 598.3 L1346.3 603.8 L1366.1 609.4 L1362.2 614.9 L1362.7 620.6 L1358.1 626.6 L1366.7 632.6 L1353 638.6 L1363.5 644.6 L1356.8 650.6 L1364 656.6 L1364.9 662.6 L1356.9 668.6 L1357.8 674.7 L1357.5 680.7 L1359.1 686.7 L1359.1 692.7 L1362.1 698.7 L1365.9 704.7 L1362.8 710.7 L1363.2 716.7 L1364.1 722.7 L1363.5 728.7 L1366.4 734.7 L1367 740.8 L1362.4 746.8 L1362.7 752.8 L1368.7 758.7 L1371.5 764.6 L1370.7 770.4 L1370 776.3 L1374.2 782.2 L1371.3 788.1 L1372 794 L1375 800 L1373.6 806.1 L1372.9 812.1 L1374.4 818.1 L1375.4 824.1 L1375.1 830.1 L1374.7 836.1 L1373.6 842.1 L1373.6 848 L1381.2 854 L1378 860 L1383.3 866 L1374.9 872 L1376.8 877.9 L1376.1 883.9 L1380.2 889.9 L1377.4 895.8 L1379.4 901.8 L1382.2 907.8 L1381.3 913.8 L1379.7 919.8 L1380.3 925.8 L1390.7 931.8 L1383.7 937.7 L1387.8 943.7 L1387.7 949.7 L1389.3 955.6 L1389 961.6 L1389.9 967.6 L1390.2 973.6 L1391.3 979.6 L1392 985.6 L1392.1 991.6 L1393.1 997.6 L1395.3 1003.5 L1393.5 1009.4 L1393.3 1015.3 L1398.1 1021.2 L1398.6 1027.1 L1400.6 1033 L1397.8 1039 L1402 1045 L1403.7 1051.1 L1405.6 1057.1 L1398 1063.1 L1400.1 1069.1 L1405.9 1075.1 L1396.3 1081.1 L1395 1087.1 L1397.2 1093.2 L1394.3 1099.2 L1406.2 1105.2 L1406.8 1111.2 L1397.1 1117.2 L1394.6 1123.2 L1394.2 1129.3 L1398.3 1134.9 L1401.6 1140.2 L1407.8 1145.5 L1409 1151.4 L1405.1 1157.5 L1402.8 1163.5 L1411.6 1169.5 L1403.9 1175.3 L1406.5 1181.2 L1409.1 1187.1 L1411.2 1193 L1407.7 1199 L1411.4 1205 L1408.9 1211 L1418.6 1217 L1415.7 1222.9 L1419.8 1228.8 L1418.3 1234.7 L1419.7 1240.6 L1419.4 1246.6 L1418.9 1252.6 L1423.3 1258.5 L1422.9 1264.4 L1425.2 1270.3 L1425.2 1276.2 L1426 1282 L1425.8 1287.6 L1434.5 1293 L1430 1298.5 L1426.4 1304 L1425.5 1309.9 L1426.2 1315.9 L1427.9 1321.9 L1443.1 1328 L1428.7 1334 L1424.8 1340 L1446.1 1346 L1439.7 1352 L1428.9 1357.9 L1431.6 1363.9 L1434.7 1369.8 L1439.3 1375.7 L1446.6 1381.6 L1447.8 1387.4 L1446.8 1393.3 L1445.6 1399 L1449 1404.7 L1450.9 1410.4 L1453 1416.1 L1454 1421.8 L1457.7 1427.6 L1463.2 1433.4 L1465.1 1439.2 L1452.5 1445.1 L1462.4 1451.1 L1454 1457.1 L1468.2 1463.1 L1462.6 1468.7 L1478.6 1474.1 L1480.2 1479.4 L1459 1484.8 L1465.9 1490.5 L1487.9 1496.5 L1473.3 1502.2 L1474.5 1507.6 L1477.3 1513 L1497.1 1518.4 L1504.9 1523.9 L1488 1529.9 L1506.4 1535.9 L1492.8 1541.9 L1468.2 1547.9 L1504.9 1553.8 L1483.9 1559.8 L1470.1 1565.8 L1510.1 1571.6 L1475.5 1577.2 L1499.3 1582.8 L1496.6 1588.5 L1512.5 1593.9 L1499.6 1599 L1499.9 1604.2 L1505.7 1609.3 L1509.6 1614.6 L1513 1620.6 L1510.3 1626.6 L1515.8 1632.6 L1508.7 1638.6 L1511.5 1644.5 L1511.9 1650.5 L1518.7 1656.4 L1519.3 1662.3 L1521 1668.3 L1520.1 1674.2 L1517.5 1680.2 L1514.5 1686.1 L1526.3 1692.1 L1521.4 1698.1 L1515.7 1704 L1517.2 1710 L1517.2 1716.1 L1526.3 1722.1 L1527.7 1728.1 L1520.2 1734 L1529.9 1739.8 L1524.2 1745.7 L1531.3 1751.6 L1535.1 1757.5 L1533.2 1763.4 L1537.8 1769.3 L1530.1 1775.1 L1526.4 1780.9 L1536.9 1786.7 L1540.9 1792.4 L1531.7 1798.1 L1538.7 1803.7 L1538.5 1809.3 L1535 1814.9 L1542.2 1820.5 L1546.6 1826.1 L1552.3 1831.8 L1563.3 1837.7 L1552.9 1843 L1571.4 1849.4 L1570.2 1855.1 L1572.9 1861 L1560.2 1863.4 L1550.7 1862.6 L1544.6 1862.5 L1545.2 1866.3 L1551.2 1860.3 L1557.2 1864.1 L1563.2 1865.6 L1569.3 1863.2" fill="none" stroke="#FC0310" stroke-width="24" stroke-linecap="round" stroke-linejoin="round"/>
<circle cx="341.8" cy="1862.8" r="19.6"/>
<circle cx="347.8" cy="1863.6" r="19.6"/>
<circle cx="353.8" cy="1864" r="19.6"/>
<circle cx="360.3" cy="1864.6" r="19.6"/>
<circle cx="366.5" cy="1862.8" r="19.6"/>
<circle cx="373.7" cy="1864.7" r="19.6"/>
<circle cx="374.1" cy="1847.7" r="19.6"/>
<circle cx="382.3" cy="1852.8" r="19.6"/>
<circle cx="392.4" cy="1862.1" r="19.6"/>
<circle cx="395" cy="1853.1" r="19.6"/>
<circle cx="403.3" cy="1857.9" r="19.6"/>
<circle cx="396.2" cy="1824.4" r="19.6"/>
<circle cx="406.6" cy="1834.9" r="19.6"/>
<circle cx="406.1" cy="1819.1" r="19.6"/>
<circle cx="416.4" cy="1830.3" r="19.6"/>
<circle cx="420.9" cy="1826.8" r="19.6"/>
<circle cx="412" cy="1801.7" r="19.6"/>
<circle cx="418" cy="1801.5" r="19.6"/>
<circle cx="424.6" cy="1800.4" r="19.6"/>
<circle cx="444.4" cy="1819.4" r="19.6"/>
<circle cx="446.6" cy="1811.9" r="19.6"/>
<circle cx="438.2" cy="1787.9" r="19.6"/>
<circle cx="453.2" cy="1802.7" r="19.6"/>
<circle cx="443.3" cy="1777.1" r="19.6"/>
<circle cx="453.2" cy="1785.8" r="19.6"/>
<circle cx="446.6" cy="1764.6" r="19.6"/>
<circle cx="446.1" cy="1755.7" r="19.6"/>
<circle cx="468.2" cy="1780.7" r="19.6"/>
<circle cx="449.9" cy="1744.4" r="19.6"/>
<circle cx="452.5" cy="1738" r="19.6"/>
<circle cx="478.7" cy="1771" r="19.6"/>
<circle cx="480.6" cy="1765.5" r="19.6"/>
<circle cx="462.4" cy="1722.1" r="19.6"/>
<circle cx="479" cy="1758.6" r="19.6"/>
<circle cx="469.8" cy="1729.6" r="19.6"/>
<circle cx="471.2" cy="1738.1" r="19.6"/>
<circle cx="477.2" cy="1699.9" r="19.6"/>
<circle cx="483.2" cy="1750.8" r="19.6"/>
<circle cx="489.2" cy="1739" r="19.6"/>
<circle cx="495.2" cy="1750.8" r="19.6"/>
<circle cx="501" cy="1749.9" r="19.6"/>
<circle cx="506.9" cy="1702" r="19.6"/>
<circle cx="512.8" cy="1705.1" r="19.6"/>
<circle cx="518.6" cy="1687.2" r="19.6"/>
<circle cx="524.5" cy="1683" r="19.6"/>
<circle cx="529.2" cy="1674.9" r="19.6"/>
<circle cx="532.1" cy="1683.6" r="19.6"/>
<circle cx="535" cy="1717.6" r="19.6"/>
<circle cx="537.9" cy="1649.6" r="19.6"/>
<circle cx="540.8" cy="1719.7" r="19.6"/>
<circle cx="543.2" cy="1661" r="19.6"/>
<circle cx="545.5" cy="1650.4" r="19.6"/>
<circle cx="547.7" cy="1724" r="19.6"/>
<circle cx="551" cy="1672.4" r="19.6"/>
<circle cx="555.1" cy="1649.2" r="19.6"/>
<circle cx="559.2" cy="1681.3" r="19.6"/>
<circle cx="563.4" cy="1722.1" r="19.6"/>
<circle cx="567.6" cy="1639.8" r="19.6"/>
<circle cx="572.7" cy="1748" r="19.6"/>
<circle cx="577.7" cy="1650.7" r="19.6"/>
<circle cx="582.8" cy="1735.9" r="19.6"/>
<circle cx="588.8" cy="1745.1" r="19.6"/>
<circle cx="594.8" cy="1656.6" r="19.6"/>
<circle cx="600.7" cy="1741.8" r="19.6"/>
<circle cx="606.7" cy="1685.9" r="19.6"/>
<circle cx="612.7" cy="1716.9" r="19.6"/>
<circle cx="618.7" cy="1660.2" r="19.6"/>
<circle cx="624.7" cy="1661.7" r="19.6"/>
<circle cx="630.7" cy="1669.2" r="19.6"/>
<circle cx="636.7" cy="1751.5" r="19.6"/>
<circle cx="642.3" cy="1674.1" r="19.6"/>
<circle cx="647.7" cy="1743.2" r="19.6"/>
<circle cx="653.2" cy="1756.1" r="19.6"/>
<circle cx="658.7" cy="1758.2" r="19.6"/>
<circle cx="664.2" cy="1700.5" r="19.6"/>
<circle cx="670.1" cy="1700.6" r="19.6"/>
<circle cx="676.1" cy="1723.2" r="19.6"/>
<circle cx="682.1" cy="1757.5" r="19.6"/>
<circle cx="684.6" cy="1679.2" r="19.6"/>
<circle cx="688.2" cy="1749.5" r="19.6"/>
<circle cx="691.7" cy="1748.7" r="19.6"/>
<circle cx="695.2" cy="1747.8" r="19.6"/>
<circle cx="698.8" cy="1659.9" r="19.6"/>
<circle cx="702.3" cy="1740.4" r="19.6"/>
<circle cx="705.8" cy="1652.8" r="19.6"/>
<circle cx="710.2" cy="1673.8" r="19.6"/>
<circle cx="715" cy="1712.1" r="19.6"/>
<circle cx="719.9" cy="1742.5" r="19.6"/>
<circle cx="724.7" cy="1684.2" r="19.6"/>
<circle cx="729.5" cy="1750.4" r="19.6"/>
<circle cx="734.9" cy="1712.6" r="19.6"/>
<circle cx="740.3" cy="1679.2" r="19.6"/>
<circle cx="745.8" cy="1676.8" r="19.6"/>
<circle cx="751.2" cy="1660" r="19.6"/>
<circle cx="756.7" cy="1651.3" r="19.6"/>
<circle cx="762.1" cy="1651.7" r="19.6"/>
<circle cx="767.5" cy="1717.7" r="19.6"/>
<circle cx="772.1" cy="1734.3" r="19.6"/>
<circle cx="776.5" cy="1642.7" r="19.6"/>
<circle cx="780.9" cy="1634.1" r="19.6"/>
<circle cx="785.3" cy="1719.5" r="19.6"/>
<circle cx="789.8" cy="1675.6" r="19.6"/>
<circle cx="794.4" cy="1654.2" r="19.6"/>
<circle cx="799" cy="1631" r="19.6"/>
<circle cx="803.6" cy="1671.9" r="19.6"/>
<circle cx="808.2" cy="1692.3" r="19.6"/>
<circle cx="811.9" cy="1644.6" r="19.6"/>
<circle cx="815.1" cy="1634.9" r="19.6"/>
<circle cx="818.3" cy="1596.8" r="19.6"/>
<circle cx="821.5" cy="1678.7" r="19.6"/>
<circle cx="824.8" cy="1585.3" r="19.6"/>
<circle cx="829.4" cy="1625.9" r="19.6"/>
<circle cx="834.7" cy="1661.9" r="19.6"/>
<circle cx="839.9" cy="1581.9" r="19.6"/>
<circle cx="845.1" cy="1645.5" r="19.6"/>
<circle cx="850.4" cy="1654.8" r="19.6"/>
<circle cx="856.1" cy="1631.2" r="19.6"/>
<circle cx="861.9" cy="1651.4" r="19.6"/>
<circle cx="867.7" cy="1557.2" r="19.6"/>
<circle cx="873.5" cy="1595.9" r="19.6"/>
<circle cx="878.5" cy="1550.7" r="19.6"/>
<circle cx="883.5" cy="1655.3" r="19.6"/>
<circle cx="888.6" cy="1562.3" r="19.6"/>
<circle cx="893.6" cy="1586.3" r="19.6"/>
<circle cx="898.6" cy="1651.1" r="19.6"/>
<circle cx="903.8" cy="1643" r="19.6"/>
<circle cx="909.2" cy="1648.7" r="19.6"/>
<circle cx="914.7" cy="1589.1" r="19.6"/>
<circle cx="920.1" cy="1597.4" r="19.6"/>
<circle cx="925.1" cy="1631" r="19.6"/>
<circle cx="929.1" cy="1591.8" r="19.6"/>
<circle cx="933.1" cy="1559.7" r="19.6"/>
<circle cx="937.1" cy="1570.6" r="19.6"/>
<circle cx="942.3" cy="1536.6" r="19.6"/>
<circle cx="947.7" cy="1561.1" r="19.6"/>
<circle cx="953.1" cy="1628.9" r="19.6"/>
<circle cx="959.4" cy="1620.9" r="19.6"/>
<circle cx="963.3" cy="1586.5" r="19.6"/>
<circle cx="966" cy="1565.2" r="19.6"/>
<circle cx="966.5" cy="1543.4" r="19.6"/>
<circle cx="965.4" cy="1525.3" r="19.6"/>
<circle cx="971.6" cy="1533.3" r="19.6"/>
<circle cx="993.1" cy="1568.8" r="19.6"/>
<circle cx="1000.5" cy="1565.6" r="19.6"/>
<circle cx="985.3" cy="1531.4" r="19.6"/>
<circle cx="1009.4" cy="1550" r="19.6"/>
<circle cx="1011.5" cy="1543.6" r="19.6"/>
<circle cx="1010.7" cy="1534.4" r="19.6"/>
<circle cx="1011.7" cy="1527.1" r="19.6"/>
<circle cx="1018.4" cy="1525" r="19.6"/>
<circle cx="999.8" cy="1501.6" r="19.6"/>
<circle cx="1020.7" cy="1511" r="19.6"/>
<circle cx="998.3" cy="1487.5" r="19.6"/>
<circle cx="1011.4" cy="1490" r="19.6"/>
<circle cx="1029.9" cy="1494.4" r="19.6"/>
<circle cx="1027.9" cy="1486.3" r="19.6"/>
<circle cx="1007.5" cy="1466.8" r="19.6"/>
<circle cx="1039.7" cy="1480" r="19.6"/>
<circle cx="1032.3" cy="1468.3" r="19.6"/>
<circle cx="1031.4" cy="1460.7" r="19.6"/>
<circle cx="1016.6" cy="1443.7" r="19.6"/>
<circle cx="1036.1" cy="1449.2" r="19.6"/>
<circle cx="1029.6" cy="1438.5" r="19.6"/>
<circle cx="1046.1" cy="1440.8" r="19.6"/>
<circle cx="1042.4" cy="1432.1" r="19.6"/>
<circle cx="1051.7" cy="1429.7" r="19.6"/>
<circle cx="1050.6" cy="1422.5" r="19.6"/>
<circle cx="1054" cy="1417.1" r="19.6"/>
<circle cx="1049.8" cy="1409.5" r="19.6"/>
<circle cx="1056.5" cy="1405.2" r="19.6"/>
<circle cx="1060.6" cy="1400" r="19.6"/>
<circle cx="1064.8" cy="1394.8" r="19.6"/>
<circle cx="1053.4" cy="1385.8" r="19.6"/>
<circle cx="1070.8" cy="1383.6" r="19.6"/>
<circle cx="1074.1" cy="1378.1" r="19.6"/>
<circle cx="1071.1" cy="1371.1" r="19.6"/>
<circle cx="1078" cy="1365.9" r="19.6"/>
<circle cx="1078.3" cy="1359.4" r="19.6"/>
<circle cx="1065.7" cy="1351.6" r="19.6"/>
<circle cx="1066.9" cy="1345.6" r="19.6"/>
<circle cx="1054.7" cy="1339.3" r="19.6"/>
<circle cx="1078.7" cy="1333.6" r="19.6"/>
<circle cx="1081.3" cy="1327.7" r="19.6"/>
<circle cx="1068.6" cy="1321.8" r="19.6"/>
<circle cx="1078.2" cy="1315.9" r="19.6"/>
<circle cx="1080.3" cy="1310" r="19.6"/>
<circle cx="1081.8" cy="1304.2" r="19.6"/>
<circle cx="1065.1" cy="1298.5" r="19.6"/>
<circle cx="1085.4" cy="1292.8" r="19.6"/>
<circle cx="1081.4" cy="1287" r="19.6"/>
<circle cx="1085.2" cy="1281.3" r="19.6"/>
<circle cx="1080.7" cy="1275.6" r="19.6"/>
<circle cx="1087.4" cy="1269.9" r="19.6"/>
<circle cx="1091.8" cy="1264.2" r="19.6"/>
<circle cx="1091.1" cy="1258.4" r="19.6"/>
<circle cx="1094.1" cy="1252.7" r="19.6"/>
<circle cx="1085.9" cy="1247" r="19.6"/>
<circle cx="1088.3" cy="1241.2" r="19.6"/>
<circle cx="1094.2" cy="1235.4" r="19.6"/>
<circle cx="1099.9" cy="1229.7" r="19.6"/>
<circle cx="1094.1" cy="1223.9" r="19.6"/>
<circle cx="1103.3" cy="1218.1" r="19.6"/>
<circle cx="1103.2" cy="1212.1" r="19.6"/>
<circle cx="1098.1" cy="1206.2" r="19.6"/>
<circle cx="1103" cy="1200.3" r="19.6"/>
<circle cx="1102.3" cy="1194.4" r="19.6"/>
<circle cx="1102.4" cy="1188.4" r="19.6"/>
<circle cx="1102.9" cy="1182.4" r="19.6"/>
<circle cx="1104.1" cy="1176.4" r="19.6"/>
<circle cx="1103.7" cy="1170.3" r="19.6"/>
<circle cx="1104" cy="1164.3" r="19.6"/>
<circle cx="1103.6" cy="1158.7" r="19.6"/>
<circle cx="1109.7" cy="1153.2" r="19.6"/>
<circle cx="1109.3" cy="1147.6" r="19.6"/>
<circle cx="1118.8" cy="1142" r="19.6"/>
<circle cx="1121" cy="1136.4" r="19.6"/>
<circle cx="1108.2" cy="1130.5" r="19.6"/>
<circle cx="1131.9" cy="1124.5" r="19.6"/>
<circle cx="1107" cy="1118.6" r="19.6"/>
<circle cx="1117.2" cy="1112.6" r="19.6"/>
<circle cx="1113.8" cy="1106.7" r="19.6"/>
<circle cx="1118.9" cy="1100.7" r="19.6"/>
<circle cx="1111.9" cy="1094.7" r="19.6"/>
<circle cx="1132.7" cy="1088.7" r="19.6"/>
<circle cx="1119.5" cy="1082.7" r="19.6"/>
<circle cx="1114" cy="1076.8" r="19.6"/>
<circle cx="1129.8" cy="1071" r="19.6"/>
<circle cx="1116.7" cy="1065.2" r="19.6"/>
<circle cx="1130.8" cy="1059.3" r="19.6"/>
<circle cx="1124.9" cy="1053.5" r="19.6"/>
<circle cx="1134.8" cy="1052.3" r="19.6"/>
<circle cx="1144.2" cy="1058.4" r="19.6"/>
<circle cx="1142.2" cy="1062.4" r="19.6"/>
<circle cx="1128.2" cy="1056.4" r="19.6"/>
<circle cx="1141.6" cy="1050.4" r="19.6"/>
<circle cx="1136.6" cy="1044.4" r="19.6"/>
<circle cx="1126.8" cy="1038.4" r="19.6"/>
<circle cx="1121.2" cy="1032.4" r="19.6"/>
<circle cx="1135.5" cy="1026.5" r="19.6"/>
<circle cx="1136" cy="1020.7" r="19.6"/>
<circle cx="1145.4" cy="1014.9" r="19.6"/>
<circle cx="1146.6" cy="1009.2" r="19.6"/>
<circle cx="1142" cy="1003.4" r="19.6"/>
<circle cx="1137.2" cy="997.7" r="19.6"/>
<circle cx="1149.3" cy="991.8" r="19.6"/>
<circle cx="1135.7" cy="985.8" r="19.6"/>
<circle cx="1137.3" cy="979.9" r="19.6"/>
<circle cx="1146.2" cy="973.9" r="19.6"/>
<circle cx="1148" cy="968" r="19.6"/>
<circle cx="1141.1" cy="962" r="19.6"/>
<circle cx="1149" cy="956" r="19.6"/>
<circle cx="1151" cy="950" r="19.6"/>
<circle cx="1146" cy="944" r="19.6"/>
<circle cx="1146.9" cy="938" r="19.6"/>
<circle cx="1146.7" cy="932" r="19.6"/>
<circle cx="1147.8" cy="926" r="19.6"/>
<circle cx="1149.2" cy="920.3" r="19.6"/>
<circle cx="1153.1" cy="914.5" r="19.6"/>
<circle cx="1152.6" cy="908.8" r="19.6"/>
<circle cx="1158.2" cy="903.1" r="19.6"/>
<circle cx="1160.7" cy="897.4" r="19.6"/>
<circle cx="1160.1" cy="891.6" r="19.6"/>
<circle cx="1156.1" cy="885.6" r="19.6"/>
<circle cx="1163.1" cy="879.6" r="19.6"/>
<circle cx="1159.2" cy="873.6" r="19.6"/>
<circle cx="1158.4" cy="867.6" r="19.6"/>
<circle cx="1157.6" cy="861.6" r="19.6"/>
<circle cx="1163.3" cy="855.5" r="19.6"/>
<circle cx="1160.2" cy="849.5" r="19.6"/>
<circle cx="1158.8" cy="843.5" r="19.6"/>
<circle cx="1161" cy="837.5" r="19.6"/>
<circle cx="1159" cy="831.5" r="19.6"/>
<circle cx="1163.1" cy="825.5" r="19.6"/>
<circle cx="1162.7" cy="819.6" r="19.6"/>
<circle cx="1163" cy="813.8" r="19.6"/>
<circle cx="1167.5" cy="807.9" r="19.6"/>
<circle cx="1168.9" cy="802" r="19.6"/>
<circle cx="1166.5" cy="796.2" r="19.6"/>
<circle cx="1169.9" cy="790.3" r="19.6"/>
<circle cx="1168.9" cy="784.3" r="19.6"/>
<circle cx="1171.1" cy="778.3" r="19.6"/>
<circle cx="1170.6" cy="772.3" r="19.6"/>
<circle cx="1169.5" cy="766.2" r="19.6"/>
<circle cx="1169.7" cy="760.2" r="19.6"/>
<circle cx="1169.9" cy="754.2" r="19.6"/>
<circle cx="1173.1" cy="748.4" r="19.6"/>
<circle cx="1171.5" cy="742.6" r="19.6"/>
<circle cx="1175.8" cy="736.7" r="19.6"/>
<circle cx="1175.6" cy="730.9" r="19.6"/>
<circle cx="1180.2" cy="725.1" r="19.6"/>
<circle cx="1181.3" cy="719.3" r="19.6"/>
<circle cx="1185.9" cy="713.5" r="19.6"/>
<circle cx="1176" cy="707.8" r="19.6"/>
<circle cx="1190.1" cy="702.1" r="19.6"/>
<circle cx="1182.1" cy="696.4" r="19.6"/>
<circle cx="1189.2" cy="690.6" r="19.6"/>
<circle cx="1185.4" cy="684.9" r="19.6"/>
<circle cx="1183.7" cy="678.9" r="19.6"/>
<circle cx="1187.9" cy="673" r="19.6"/>
<circle cx="1185.3" cy="667.1" r="19.6"/>
<circle cx="1182.1" cy="661.1" r="19.6"/>
<circle cx="1188.9" cy="655.2" r="19.6"/>
<circle cx="1186.3" cy="649.4" r="19.6"/>
<circle cx="1180.4" cy="643.6" r="19.6"/>
<circle cx="1184.1" cy="637.8" r="19.6"/>
<circle cx="1188.7" cy="632" r="19.6"/>
<circle cx="1194.4" cy="626.2" r="19.6"/>
<circle cx="1195.2" cy="620.4" r="19.6"/>
<circle cx="1194.5" cy="614.5" r="19.6"/>
<circle cx="1191.3" cy="608.7" r="19.6"/>
<circle cx="1200.7" cy="602.9" r="19.6"/>
<circle cx="1197" cy="597" r="19.6"/>
<circle cx="1201.4" cy="591.2" r="19.6"/>
<circle cx="1205.9" cy="585.4" r="19.6"/>
<circle cx="1205.1" cy="579.4" r="19.6"/>
<circle cx="1202.2" cy="573.4" r="19.6"/>
<circle cx="1209.9" cy="567.4" r="19.6"/>
<circle cx="1201.5" cy="561.4" r="19.6"/>
<circle cx="1202.3" cy="555.4" r="19.6"/>
<circle cx="1210.3" cy="550.5" r="19.6"/>
<circle cx="1199.1" cy="556.2" r="19.6"/>
<circle cx="1200.8" cy="550.2" r="19.6"/>
<circle cx="1209.7" cy="544.2" r="19.6"/>
<circle cx="1199.3" cy="538.2" r="19.6"/>
<circle cx="1210.2" cy="532.2" r="19.6"/>
<circle cx="1208.7" cy="526.2" r="19.6"/>
<circle cx="1204.7" cy="520.2" r="19.6"/>
<circle cx="1202.8" cy="514.2" r="19.6"/>
<circle cx="1212.4" cy="508.3" r="19.6"/>
<circle cx="1216.3" cy="502.4" r="19.6"/>
<circle cx="1201.7" cy="496.6" r="19.6"/>
<circle cx="1210.7" cy="490.7" r="19.6"/>
<circle cx="1214.6" cy="484.8" r="19.6"/>
<circle cx="1213.9" cy="479" r="19.6"/>
<circle cx="1208.2" cy="472.9" r="19.6"/>
<circle cx="1205.3" cy="466.9" r="19.6"/>
<circle cx="1216.2" cy="460.9" r="19.6"/>
<circle cx="1219.4" cy="454.9" r="19.6"/>
<circle cx="1209.2" cy="448.9" r="19.6"/>
<circle cx="1211.6" cy="443.3" r="19.6"/>
<circle cx="1225.3" cy="437.9" r="19.6"/>
<circle cx="1228.9" cy="432.4" r="19.6"/>
<circle cx="1228.8" cy="426.9" r="19.6"/>
<circle cx="1213.3" cy="420.9" r="19.6"/>
<circle cx="1231.3" cy="414.9" r="19.6"/>
<circle cx="1235.3" cy="408.9" r="19.6"/>
<circle cx="1235.6" cy="402.9" r="19.6"/>
<circle cx="1233.7" cy="397.3" r="19.6"/>
<circle cx="1218.8" cy="392.3" r="19.6"/>
<circle cx="1246.3" cy="387.2" r="19.6"/>
<circle cx="1224.3" cy="381.6" r="19.6"/>
<circle cx="1243.4" cy="375.7" r="19.6"/>
<circle cx="1253" cy="369.7" r="19.6"/>
<circle cx="1248.1" cy="363.7" r="19.6"/>
<circle cx="1223.6" cy="357.8" r="19.6"/>
<circle cx="1231.1" cy="352.2" r="19.6"/>
<circle cx="1259.2" cy="346.8" r="19.6"/>
<circle cx="1232.3" cy="341.4" r="19.6"/>
<circle cx="1254" cy="335.9" r="19.6"/>
<circle cx="1247.5" cy="330.5" r="19.6"/>
<circle cx="1239.9" cy="324.8" r="19.6"/>
<circle cx="1260.1" cy="318.8" r="19.6"/>
<circle cx="1238.8" cy="312.9" r="19.6"/>
<circle cx="1239.9" cy="307" r="19.6"/>
<circle cx="1250.6" cy="301.1" r="19.6"/>
<circle cx="1240" cy="295.1" r="19.6"/>
<circle cx="1240.1" cy="289.1" r="19.6"/>
<circle cx="1264.1" cy="283.2" r="19.6"/>
<circle cx="1274" cy="277.2" r="19.6"/>
<circle cx="1279.9" cy="271.2" r="19.6"/>
<circle cx="1243.4" cy="265.2" r="19.6"/>
<circle cx="1257.8" cy="259.2" r="19.6"/>
<circle cx="1252" cy="253.2" r="19.6"/>
<circle cx="1268.6" cy="247.2" r="19.6"/>
<circle cx="1262.8" cy="241.2" r="19.6"/>
<circle cx="1280.6" cy="235.3" r="19.6"/>
<circle cx="1259.3" cy="229.3" r="19.6"/>
<circle cx="1252.3" cy="223.4" r="19.6"/>
<circle cx="1274.4" cy="217.4" r="19.6"/>
<circle cx="1257.7" cy="211.5" r="19.6"/>
<circle cx="1272.8" cy="205.5" r="19.6"/>
<circle cx="1269.8" cy="199.6" r="19.6"/>
<circle cx="1277.6" cy="193.6" r="19.6"/>
<circle cx="1270.7" cy="187.6" r="19.6"/>
<circle cx="1272" cy="181.5" r="19.6"/>
<circle cx="1264.2" cy="175.5" r="19.6"/>
<circle cx="1271.1" cy="170.2" r="19.6"/>
<circle cx="1267.2" cy="161.9" r="19.6"/>
<circle cx="1267" cy="164.1" r="19.6"/>
<circle cx="1267.1" cy="160.4" r="19.6"/>
<circle cx="1272.9" cy="157.9" r="19.6"/>
<circle cx="1278.3" cy="160.3" r="19.6"/>
<circle cx="1279.1" cy="167.2" r="19.6"/>
<circle cx="1280.1" cy="173.5" r="19.6"/>
<circle cx="1284.1" cy="177.9" r="19.6"/>
<circle cx="1288.2" cy="182.4" r="19.6"/>
<circle cx="1298.1" cy="187.3" r="19.6"/>
<circle cx="1282.3" cy="193.3" r="19.6"/>
<circle cx="1298" cy="199.3" r="19.6"/>
<circle cx="1296.6" cy="205.4" r="19.6"/>
<circle cx="1281.1" cy="211.4" r="19.6"/>
<circle cx="1297.8" cy="217.4" r="19.6"/>
<circle cx="1281.2" cy="223.4" r="19.6"/>
<circle cx="1281.6" cy="229.3" r="19.6"/>
<circle cx="1297.7" cy="235.3" r="19.6"/>
<circle cx="1284.4" cy="241.3" r="19.6"/>
<circle cx="1307.5" cy="247.3" r="19.6"/>
<circle cx="1293.7" cy="253.3" r="19.6"/>
<circle cx="1287.2" cy="259.4" r="19.6"/>
<circle cx="1305.7" cy="265.4" r="19.6"/>
<circle cx="1280.8" cy="271.4" r="19.6"/>
<circle cx="1302.4" cy="277.4" r="19.6"/>
<circle cx="1282.1" cy="283.4" r="19.6"/>
<circle cx="1283.7" cy="289.4" r="19.6"/>
<circle cx="1302.3" cy="295.4" r="19.6"/>
<circle cx="1298.6" cy="301.1" r="19.6"/>
<circle cx="1288.3" cy="305.9" r="19.6"/>
<circle cx="1288.1" cy="310.7" r="19.6"/>
<circle cx="1319.8" cy="315.5" r="19.6"/>
<circle cx="1314.1" cy="321.1" r="19.6"/>
<circle cx="1320.6" cy="327" r="19.6"/>
<circle cx="1295.1" cy="332.8" r="19.6"/>
<circle cx="1315.8" cy="338.7" r="19.6"/>
<circle cx="1304.7" cy="344.6" r="19.6"/>
<circle cx="1301.1" cy="350.6" r="19.6"/>
<circle cx="1304.9" cy="356.7" r="19.6"/>
<circle cx="1315.7" cy="362.7" r="19.6"/>
<circle cx="1306.4" cy="368.7" r="19.6"/>
<circle cx="1309.1" cy="374.5" r="19.6"/>
<circle cx="1305.3" cy="380.2" r="19.6"/>
<circle cx="1326" cy="385.8" r="19.6"/>
<circle cx="1324.9" cy="391" r="19.6"/>
<circle cx="1332.5" cy="396.3" r="19.6"/>
<circle cx="1323.3" cy="401.5" r="19.6"/>
<circle cx="1340.5" cy="406.8" r="19.6"/>
<circle cx="1328.7" cy="412.3" r="19.6"/>
<circle cx="1329.3" cy="418" r="19.6"/>
<circle cx="1326.4" cy="423.7" r="19.6"/>
<circle cx="1329.8" cy="429.4" r="19.6"/>
<circle cx="1319.9" cy="435.3" r="19.6"/>
<circle cx="1312.9" cy="441.3" r="19.6"/>
<circle cx="1312.5" cy="447.2" r="19.6"/>
<circle cx="1315.3" cy="453.2" r="19.6"/>
<circle cx="1313.1" cy="459.1" r="19.6"/>
<circle cx="1339.6" cy="465.2" r="19.6"/>
<circle cx="1326.6" cy="471.2" r="19.6"/>
<circle cx="1336.1" cy="477.2" r="19.6"/>
<circle cx="1316.6" cy="483.2" r="19.6"/>
<circle cx="1327.5" cy="489.1" r="19.6"/>
<circle cx="1341.2" cy="495" r="19.6"/>
<circle cx="1335.9" cy="500.9" r="19.6"/>
<circle cx="1329.5" cy="506.7" r="19.6"/>
<circle cx="1332.3" cy="512.6" r="19.6"/>
<circle cx="1321" cy="518.5" r="19.6"/>
<circle cx="1322.4" cy="524.4" r="19.6"/>
<circle cx="1322.4" cy="530.4" r="19.6"/>
<circle cx="1329.5" cy="536.4" r="19.6"/>
<circle cx="1329.7" cy="542.4" r="19.6"/>
<circle cx="1347" cy="548.4" r="19.6"/>
<circle cx="1322.1" cy="554.4" r="19.6"/>
<circle cx="1325.3" cy="560.2" r="19.6"/>
<circle cx="1327.1" cy="565.9" r="19.6"/>
<circle cx="1324.3" cy="571.6" r="19.6"/>
<circle cx="1329.7" cy="577.2" r="19.6"/>
<circle cx="1328.4" cy="582.9" r="19.6"/>
<circle cx="1343.7" cy="587.2" r="19.6"/>
<circle cx="1329.1" cy="592.8" r="19.6"/>
<circle cx="1365.3" cy="598.3" r="19.6"/>
<circle cx="1346.3" cy="603.8" r="19.6"/>
<circle cx="1366.1" cy="609.4" r="19.6"/>
<circle cx="1362.2" cy="614.9" r="19.6"/>
<circle cx="1362.7" cy="620.6" r="19.6"/>
<circle cx="1358.1" cy="626.6" r="19.6"/>
<circle cx="1366.7" cy="632.6" r="19.6"/>
<circle cx="1353" cy="638.6" r="19.6"/>
<circle cx="1363.5" cy="644.6" r="19.6"/>
<circle cx="1356.8" cy="650.6" r="19.6"/>
<circle cx="1364" cy="656.6" r="19.6"/>
<circle cx="1364.9" cy="662.6" r="19.6"/>
<circle cx="1356.9" cy="668.6" r="19.6"/>
<circle cx="1357.8" cy="674.7" r="19.6"/>
<circle cx="1357.5" cy="680.7" r="19.6"/>
<circle cx="1359.1" cy="686.7" r="19.6"/>
<circle cx="1359.1" cy="692.7" r="19.6"/>
<circle cx="1362.1" cy="698.7" r="19.6"/>
<circle cx="1365.9" cy="704.7" r="19.6"/>
<circle cx="1362.8" cy="710.7" r="19.6"/>
<circle cx="1363.2" cy="716.7" r="19.6"/>
<circle cx="1364.1" cy="722.7" r="19.6"/>
<circle cx="1363.5" cy="728.7" r="19.6"/>
<circle cx="1366.4" cy="734.7" r="19.6"/>
<circle cx="1367" cy="740.8" r="19.6"/>
<circle cx="1362.4" cy="746.8" r="19.6"/>
<circle cx="1362.7" cy="752.8" r="19.6"/>
<circle cx="1368.7" cy="758.7" r="19.6"/>
<circle cx="1371.5" cy="764.6" r="19.6"/>
<circle cx="1370.7" cy="770.4" r="19.6"/>
<circle cx="1370" cy="776.3" r="19.6"/>
<circle cx="1374.2" cy="782.2" r="19.6"/>
<circle cx="1371.3" cy="788.1" r="19.6"/>
<circle cx="1372" cy="794" r="19.6"/>
<circle cx="1375" cy="800" r="19.6"/>
<circle cx="1373.6" cy="806.1" r="19.6"/>
<circle cx="1372.9" cy="812.1" r="19.6"/>
<circle cx="1374.4" cy="818.1" r="19.6"/>
<circle cx="1375.4" cy="824.1" r="19.6"/>
<circle cx="1375.1" cy="830.1" r="19.6"/>
<circle cx="1374.7" cy="836.1" r="19.6"/>
<circle cx="1373.6" cy="842.1" r="19.6"/>
<circle cx="1373.6" cy="848" r="19.6"/>
<circle cx="1381.2" cy="854" r="19.6"/>
<circle cx="1378" cy="860" r="19.6"/>
<circle cx="1383.3" cy="866" r="19.6"/>
<circle cx="1374.9" cy="872" r="19.6"/>
<circle cx="1376.8" cy="877.9" r="19.6"/>
<circle cx="1376.1" cy="883.9" r="19.6"/>
<circle cx="1380.2" cy="889.9" r="19.6"/>
<circle cx="1377.4" cy="895.8" r="19.6"/>
<circle cx="1379.4" cy="901.8" r="19.6"/>
<circle cx="1382.2" cy="907.8" r="19.6"/>
<circle cx="1381.3" cy="913.8" r="19.6"/>
<circle cx="1379.7" cy="919.8" r="19.6"/>
<circle cx="1380.3" cy="925.8" r="19.6"/>
<circle cx="1390.7" cy="931.8" r="19.6"/>
<circle cx="1383.7" cy="937.7" r="19.6"/>
<circle cx="1387.8" cy="943.7" r="19.6"/>
<circle cx="1387.7" cy="949.7" r="19.6"/>
<circle cx="1389.3" cy="955.6" r="19.6"/>
<circle cx="1389" cy="961.6" r="19.6"/>
<circle cx="1389.9" cy="967.6" r="19.6"/>
<circle cx="1390.2" cy="973.6" r="19.6"/>
<circle cx="1391.3" cy="979.6" r="19.6"/>
<circle cx="1392" cy="985.6" r="19.6"/>
<circle cx="1392.1" cy="991.6" r="19.6"/>
<circle cx="1393.1" cy="997.6" r="19.6"/>
<circle cx="1395.3" cy="1003.5" r="19.6"/>
<circle cx="1393.5" cy="1009.4" r="19.6"/>
<circle cx="1393.3" cy="1015.3" r="19.6"/>
<circle cx="1398.1" cy="1021.2" r="19.6"/>
<circle cx="1398.6" cy="1027.1" r="19.6"/>
<circle cx="1400.6" cy="1033" r="19.6"/>
<circle cx="1397.8" cy="1039" r="19.6"/>
<circle cx="1402" cy="1045" r="19.6"/>
<circle cx="1403.7" cy="1051.1" r="19.6"/>
<circle cx="1405.6" cy="1057.1" r="19.6"/>
<circle cx="1398" cy="1063.1" r="19.6"/>
<circle cx="1400.1" cy="1069.1" r="19.6"/>
<circle cx="1405.9" cy="1075.1" r="19.6"/>
<circle cx="1396.3" cy="1081.1" r="19.6"/>
<circle cx="1395" cy="1087.1" r="19.6"/>
<circle cx="1397.2" cy="1093.2" r="19.6"/>
<circle cx="1394.3" cy="1099.2" r="19.6"/>
<circle cx="1406.2" cy="1105.2" r="19.6"/>
<circle cx="1406.8" cy="1111.2" r="19.6"/>
<circle cx="1397.1" cy="1117.2" r="19.6"/>
<circle cx="1394.6" cy="1123.2" r="19.6"/>
<circle cx="1394.2" cy="1129.3" r="19.6"/>
<circle cx="1398.3" cy="1134.9" r="19.6"/>
<circle cx="1401.6" cy="1140.2" r="19.6"/>
<circle cx="1407.8" cy="1145.5" r="19.6"/>
<circle cx="1409" cy="1151.4" r="19.6"/>
<circle cx="1405.1" cy="1157.5" r="19.6"/>
<circle cx="1402.8" cy="1163.5" r="19.6"/>
<circle cx="1411.6" cy="1169.5" r="19.6"/>
<circle cx="1403.9" cy="1175.3" r="19.6"/>
<circle cx="1406.5" cy="1181.2" r="19.6"/>
<circle cx="1409.1" cy="1187.1" r="19.6"/>
<circle cx="1411.2" cy="1193" r="19.6"/>
<circle cx="1407.7" cy="1199" r="19.6"/>
<circle cx="1411.4" cy="1205" r="19.6"/>
<circle cx="1408.9" cy="1211" r="19.6"/>
<circle cx="1418.6" cy="1217" r="19.6"/>
<circle cx="1415.7" cy="1222.9" r="19.6"/>
<circle cx="1419.8" cy="1228.8" r="19.6"/>
<circle cx="1418.3" cy="1234.7" r="19.6"/>
<circle cx="1419.7" cy="1240.6" r="19.6"/>
<circle cx="1419.4" cy="1246.6" r="19.6"/>
<circle cx="1418.9" cy="1252.6" r="19.6"/>
<circle cx="1423.3" cy="1258.5" r="19.6"/>
<circle cx="1422.9" cy="1264.4" r="19.6"/>
<circle cx="1425.2" cy="1270.3" r="19.6"/>
<circle cx="1425.2" cy="1276.2" r="19.6"/>
<circle cx="1426" cy="1282" r="19.6"/>
<circle cx="1425.8" cy="1287.6" r="19.6"/>
<circle cx="1434.5" cy="1293" r="19.6"/>
<circle cx="1430" cy="1298.5" r="19.6"/>
<circle cx="1426.4" cy="1304" r="19.6"/>
<circle cx="1425.5" cy="1309.9" r="19.6"/>
<circle cx="1426.2" cy="1315.9" r="19.6"/>
<circle cx="1427.9" cy="1321.9" r="19.6"/>
<circle cx="1443.1" cy="1328" r="19.6"/>
<circle cx="1428.7" cy="1334" r="19.6"/>
<circle cx="1424.8" cy="1340" r="19.6"/>
<circle cx="1446.1" cy="1346" r="19.6"/>
<circle cx="1439.7" cy="1352" r="19.6"/>
<circle cx="1428.9" cy="1357.9" r="19.6"/>
<circle cx="1431.6" cy="1363.9" r="19.6"/>
<circle cx="1434.7" cy="1369.8" r="19.6"/>
<circle cx="1439.3" cy="1375.7" r="19.6"/>
<circle cx="1446.6" cy="1381.6" r="19.6"/>
<circle cx="1447.8" cy="1387.4" r="19.6"/>
<circle cx="1446.8" cy="1393.3" r="19.6"/>
<circle cx="1445.6" cy="1399" r="19.6"/>
<circle cx="1449" cy="1404.7" r="19.6"/>
<circle cx="1450.9" cy="1410.4" r="19.6"/>
<circle cx="1453" cy="1416.1" r="19.6"/>
<circle cx="1454" cy="1421.8" r="19.6"/>
<circle cx="1457.7" cy="1427.6" r="19.6"/>
<circle cx="1463.2" cy="1433.4" r="19.6"/>
<circle cx="1465.1" cy="1439.2" r="19.6"/>
<circle cx="1452.5" cy="1445.1" r="19.6"/>
<circle cx="1462.4" cy="1451.1" r="19.6"/>
<circle cx="1454" cy="1457.1" r="19.6"/>
<circle cx="1468.2" cy="1463.1" r="19.6"/>
<circle cx="1462.6" cy="1468.7" r="19.6"/>
<circle cx="1478.6" cy="1474.1" r="19.6"/>
<circle cx="1480.2" cy="1479.4" r="19.6"/>
<circle cx="1459" cy="1484.8" r="19.6"/>
<circle cx="1465.9" cy="1490.5" r="19.6"/>
<circle cx="1487.9" cy="1496.5" r="19.6"/>
<circle cx="1473.3" cy="1502.2" r="19.6"/>
<circle cx="1474.5" cy="1507.6" r="19.6"/>
<circle cx="1477.3" cy="1513" r="19.6"/>
<circle cx="1497.1" cy="1518.4" r="19.6"/>
<circle cx="1504.9" cy="1523.9" r="19.6"/>
<circle cx="1488" cy="1529.9" r="19.6"/>
<circle cx="1506.4" cy="1535.9" r="19.6"/>
<circle cx="1492.8" cy="1541.9" r="19.6"/>
<circle cx="1468.2" cy="1547.9" r="19.6"/>
<circle cx="1504.9" cy="1553.8" r="19.6"/>
<circle cx="1483.9" cy="1559.8" r="19.6"/>
<circle cx="1470.1" cy="1565.8" r="19.6"/>
<circle cx="1510.1" cy="1571.6" r="19.6"/>
<circle cx="1475.5" cy="1577.2" r="19.6"/>
<circle cx="1499.3" cy="1582.8" r="19.6"/>
<circle cx="1496.6" cy="1588.5" r="19.6"/>
<circle cx="1512.5" cy="1593.9" r="19.6"/>
<circle cx="1499.6" cy="1599" r="19.6"/>
<circle cx="1499.9" cy="1604.2" r="19.6"/>
<circle cx="1505.7" cy="1609.3" r="19.6"/>
<circle cx="1509.6" cy="1614.6" r="19.6"/>
<circle cx="1513" cy="1620.6" r="19.6"/>
<circle cx="1510.3" cy="1626.6" r="19.6"/>
<circle cx="1515.8" cy="1632.6" r="19.6"/>
<circle cx="1508.7" cy="1638.6" r="19.6"/>
<circle cx="1511.5" cy="1644.5" r="19.6"/>
<circle cx="1511.9" cy="1650.5" r="19.6"/>
<circle cx="1518.7" cy="1656.4" r="19.6"/>
<circle cx="1519.3" cy="1662.3" r="19.6"/>
<circle cx="1521" cy="1668.3" r="19.6"/>
<circle cx="1520.1" cy="1674.2" r="19.6"/>
<circle cx="1517.5" cy="1680.2" r="19.6"/>
<circle cx="1514.5" cy="1686.1" r="19.6"/>
<circle cx="1526.3" cy="1692.1" r="19.6"/>
<circle cx="1521.4" cy="1698.1" r="19.6"/>
<circle cx="1515.7" cy="1704" r="19.6"/>
<circle cx="1517.2" cy="1710" r="19.6"/>
<circle cx="1517.2" cy="1716.1" r="19.6"/>
<circle cx="1526.3" cy="1722.1" r="19.6"/>
<circle cx="1527.7" cy="1728.1" r="19.6"/>
<circle cx="1520.2" cy="1734" r="19.6"/>
<circle cx="1529.9" cy="1739.8" r="19.6"/>
<circle cx="1524.2" cy="1745.7" r="19.6"/>
<circle cx="1531.3" cy="1751.6" r="19.6"/>
<circle cx="1535.1" cy="1757.5" r="19.6"/>
<circle cx="1533.2" cy="1763.4" r="19.6"/>
<circle cx="1537.8" cy="1769.3" r="19.6"/>
<circle cx="1530.1" cy="1775.1" r="19.6"/>
<circle cx="1526.4" cy="1780.9" r="19.6"/>
<circle cx="1536.9" cy="1786.7" r="19.6"/>
<circle cx="1540.9" cy="1792.4" r="19.6"/>
<circle cx="1531.7" cy="1798.1" r="19.6"/>
<circle cx="1538.7" cy="1803.7" r="19.6"/>
<circle cx="1538.5" cy="1809.3" r="19.6"/>
<circle cx="1535" cy="1814.9" r="19.6"/>
<circle cx="1542.2" cy="1820.5" r="19.6"/>
<circle cx="1546.6" cy="1826.1" r="19.6"/>
<circle cx="1552.3" cy="1831.8" r="19.6"/>
<circle cx="1563.3" cy="1837.7" r="19.6"/>
<circle cx="1552.9" cy="1843" r="19.6"/>
<circle cx="1571.4" cy="1849.4" r="19.6"/>
<circle cx="1570.2" cy="1855.1" r="19.6"/>
<circle cx="1572.9" cy="1861" r="19.6"/>
<circle cx="1560.2" cy="1863.4" r="19.6"/>
<circle cx="1550.7" cy="1862.6" r="19.6"/>
<circle cx="1544.6" cy="1862.5" r="19.6"/>
<circle cx="1545.2" cy="1866.3" r="19.6"/>
<circle cx="1551.2" cy="1860.3" r="19.6"/>
<circle cx="1557.2" cy="1864.1" r="19.6"/>
<circle cx="1563.2" cy="1865.6" r="19.6"/>
<circle cx="1569.3" cy="1863.2" r="19.6"/>
<circle cx="341.8" cy="1859.6" r="19.6"/>
<circle cx="341.8" cy="1864.2" r="19.6"/>
<circle cx="352.5" cy="1857.3" r="19.6"/>
<circle cx="352.5" cy="1864.9" r="19.6"/>
<circle cx="376" cy="1846.7" r="19.6"/>
<circle cx="383.7" cy="1865.3" r="19.6"/>
<circle cx="403" cy="1814.9" r="19.6"/>
<circle cx="418.3" cy="1853.7" r="19.6"/>
<circle cx="413.7" cy="1799.2" r="19.6"/>
<circle cx="435" cy="1830.6" r="19.6"/>
<circle cx="438.3" cy="1785.8" r="19.6"/>
<circle cx="453.7" cy="1809.8" r="19.6"/>
<circle cx="446" cy="1768.4" r="19.6"/>
<circle cx="457.5" cy="1790.7" r="19.6"/>
<circle cx="445.9" cy="1744.2" r="19.6"/>
<circle cx="471.3" cy="1780.6" r="19.6"/>
<circle cx="457.4" cy="1711.3" r="19.6"/>
<circle cx="484.8" cy="1763.3" r="19.6"/>
<circle cx="468.9" cy="1693" r="19.6"/>
<circle cx="468.9" cy="1751.9" r="19.6"/>
<circle cx="494" cy="1696.4" r="19.6"/>
<circle cx="494" cy="1750.8" r="19.6"/>
<circle cx="528.2" cy="1677" r="19.6"/>
<circle cx="528.2" cy="1754.2" r="19.6"/>
<circle cx="541.9" cy="1638.3" r="19.6"/>
<circle cx="541.9" cy="1742.8" r="19.6"/>
<circle cx="548.7" cy="1615.4" r="19.6"/>
<circle cx="548.7" cy="1731.4" r="19.6"/>
<circle cx="567" cy="1638.3" r="19.6"/>
<circle cx="567" cy="1747.4" r="19.6"/>
<circle cx="582.9" cy="1656.5" r="19.6"/>
<circle cx="582.9" cy="1749.7" r="19.6"/>
<circle cx="596.6" cy="1656.5" r="19.6"/>
<circle cx="596.6" cy="1751.9" r="19.6"/>
<circle cx="637.7" cy="1663.4" r="19.6"/>
<circle cx="637.7" cy="1751.9" r="19.6"/>
<circle cx="665.1" cy="1679.3" r="19.6"/>
<circle cx="665.1" cy="1761.1" r="19.6"/>
<circle cx="683.3" cy="1667.9" r="19.6"/>
<circle cx="683.3" cy="1770.2" r="19.6"/>
<circle cx="684.2" cy="1677" r="19.6"/>
<circle cx="684.2" cy="1769" r="19.6"/>
<circle cx="707" cy="1649.7" r="19.6"/>
<circle cx="707" cy="1733.7" r="19.6"/>
<circle cx="729.9" cy="1665.6" r="19.6"/>
<circle cx="729.9" cy="1751.9" r="19.6"/>
<circle cx="768.7" cy="1642.8" r="19.6"/>
<circle cx="768.7" cy="1738.2" r="19.6"/>
<circle cx="786.9" cy="1629.1" r="19.6"/>
<circle cx="786.9" cy="1717.7" r="19.6"/>
<circle cx="809.7" cy="1610.9" r="19.6"/>
<circle cx="809.7" cy="1697.2" r="19.6"/>
<circle cx="825.7" cy="1583.5" r="19.6"/>
<circle cx="825.7" cy="1674.4" r="19.6"/>
<circle cx="850.8" cy="1574.4" r="19.6"/>
<circle cx="850.8" cy="1655" r="19.6"/>
<circle cx="873.6" cy="1547" r="19.6"/>
<circle cx="873.6" cy="1669.8" r="19.6"/>
<circle cx="901" cy="1531" r="19.6"/>
<circle cx="901" cy="1649.3" r="19.6"/>
<circle cx="923.8" cy="1553.8" r="19.6"/>
<circle cx="923.8" cy="1648.1" r="19.6"/>
<circle cx="937.5" cy="1533.3" r="19.6"/>
<circle cx="937.5" cy="1637.8" r="19.6"/>
<circle cx="953.5" cy="1526.4" r="19.6"/>
<circle cx="953.5" cy="1628.7" r="19.6"/>
<circle cx="979" cy="1517.8" r="19.6"/>
<circle cx="1013" cy="1554.2" r="19.6"/>
<circle cx="990" cy="1490.1" r="19.6"/>
<circle cx="1027.3" cy="1519.8" r="19.6"/>
<circle cx="992.4" cy="1470.7" r="19.6"/>
<circle cx="1035.7" cy="1496.4" r="19.6"/>
<circle cx="1013.2" cy="1446.1" r="19.6"/>
<circle cx="1043.5" cy="1466.8" r="19.6"/>
<circle cx="1031.4" cy="1432.8" r="19.6"/>
<circle cx="1050.9" cy="1443" r="19.6"/>
<circle cx="1047.1" cy="1412.4" r="19.6"/>
<circle cx="1055.3" cy="1414.9" r="19.6"/>
<circle cx="1047.5" cy="1367.7" r="19.6"/>
<circle cx="1077.6" cy="1374" r="19.6"/>
<circle cx="1053.7" cy="1335.2" r="19.6"/>
<circle cx="1080.1" cy="1335.2" r="19.6"/>
<circle cx="1059.4" cy="1306.7" r="19.6"/>
<circle cx="1085.8" cy="1306.7" r="19.6"/>
<circle cx="1073.6" cy="1278.2" r="19.6"/>
<circle cx="1090" cy="1278.2" r="19.6"/>
<circle cx="1085" cy="1249.7" r="19.6"/>
<circle cx="1097.2" cy="1249.7" r="19.6"/>
<circle cx="1093.6" cy="1221.1" r="19.6"/>
<circle cx="1105.7" cy="1221.1" r="19.6"/>
<circle cx="1102.1" cy="1192.6" r="19.6"/>
<circle cx="1107.2" cy="1192.6" r="19.6"/>
<circle cx="1103.6" cy="1164.1" r="19.6"/>
<circle cx="1108.6" cy="1164.1" r="19.6"/>
<circle cx="1103.6" cy="1135.6" r="19.6"/>
<circle cx="1131.4" cy="1135.6" r="19.6"/>
<circle cx="1109.3" cy="1107" r="19.6"/>
<circle cx="1134.3" cy="1107" r="19.6"/>
<circle cx="1113.6" cy="1078.5" r="19.6"/>
<circle cx="1134.3" cy="1078.5" r="19.6"/>
<circle cx="1119.3" cy="1050" r="19.6"/>
<circle cx="1144.2" cy="1050" r="19.6"/>
<circle cx="1118.5" cy="1063.4" r="19.6"/>
<circle cx="1144.3" cy="1063.4" r="19.6"/>
<circle cx="1120.2" cy="1029.2" r="19.6"/>
<circle cx="1142.6" cy="1029.2" r="19.6"/>
<circle cx="1133.9" cy="995" r="19.6"/>
<circle cx="1149.5" cy="995" r="19.6"/>
<circle cx="1140.7" cy="960.7" r="19.6"/>
<circle cx="1152.9" cy="960.7" r="19.6"/>
<circle cx="1147.6" cy="926.5" r="19.6"/>
<circle cx="1147.7" cy="926.5" r="19.6"/>
<circle cx="1154.4" cy="892.3" r="19.6"/>
<circle cx="1163.1" cy="892.3" r="19.6"/>
<circle cx="1156.1" cy="858" r="19.6"/>
<circle cx="1163.1" cy="858" r="19.6"/>
<circle cx="1159.6" cy="823.8" r="19.6"/>
<circle cx="1164.9" cy="823.8" r="19.6"/>
<circle cx="1168.1" cy="789.6" r="19.6"/>
<circle cx="1171.7" cy="789.6" r="19.6"/>
<circle cx="1169.8" cy="755.4" r="19.6"/>
<circle cx="1170" cy="755.4" r="19.6"/>
<circle cx="1171.5" cy="721.1" r="19.6"/>
<circle cx="1185.4" cy="721.1" r="19.6"/>
<circle cx="1181.8" cy="686.9" r="19.6"/>
<circle cx="1197.4" cy="686.9" r="19.6"/>
<circle cx="1176.7" cy="652.7" r="19.6"/>
<circle cx="1190.5" cy="652.7" r="19.6"/>
<circle cx="1190.4" cy="618.5" r="19.6"/>
<circle cx="1195.7" cy="618.5" r="19.6"/>
<circle cx="1193.8" cy="584.2" r="19.6"/>
<circle cx="1209.4" cy="584.2" r="19.6"/>
<circle cx="1198.9" cy="550" r="19.6"/>
<circle cx="1211.1" cy="550" r="19.6"/>
<circle cx="1198" cy="556.4" r="19.6"/>
<circle cx="1210.1" cy="556.4" r="19.6"/>
<circle cx="1200.8" cy="513.6" r="19.6"/>
<circle cx="1211.5" cy="513.6" r="19.6"/>
<circle cx="1200.8" cy="479.3" r="19.6"/>
<circle cx="1227.2" cy="479.3" r="19.6"/>
<circle cx="1209.4" cy="448" r="19.6"/>
<circle cx="1218.6" cy="448" r="19.6"/>
<circle cx="1212.2" cy="428" r="19.6"/>
<circle cx="1234.3" cy="428" r="19.6"/>
<circle cx="1216.5" cy="399.5" r="19.6"/>
<circle cx="1235.8" cy="399.5" r="19.6"/>
<circle cx="1220.8" cy="385.2" r="19.6"/>
<circle cx="1250" cy="385.2" r="19.6"/>
<circle cx="1222.2" cy="356.7" r="19.6"/>
<circle cx="1255.7" cy="356.7" r="19.6"/>
<circle cx="1237.9" cy="328.2" r="19.6"/>
<circle cx="1267.1" cy="328.2" r="19.6"/>
<circle cx="1239.3" cy="299.7" r="19.6"/>
<circle cx="1275.7" cy="299.7" r="19.6"/>
<circle cx="1240.7" cy="271.1" r="19.6"/>
<circle cx="1281.4" cy="271.1" r="19.6"/>
<circle cx="1245" cy="242.6" r="19.6"/>
<circle cx="1281.4" cy="242.6" r="19.6"/>
<circle cx="1260.7" cy="199.8" r="19.6"/>
<circle cx="1278.5" cy="199.8" r="19.6"/>
<circle cx="1262.1" cy="171.3" r="19.6"/>
<circle cx="1275.7" cy="171.3" r="19.6"/>
<circle cx="1264.9" cy="160.8" r="19.6"/>
<circle cx="1280.1" cy="173.2" r="19.6"/>
<circle cx="1263.5" cy="156.5" r="19.6"/>
<circle cx="1264.3" cy="163.3" r="19.6"/>
<circle cx="1278.2" cy="158.1" r="19.6"/>
<circle cx="1278.2" cy="164.5" r="19.6"/>
<circle cx="1284.4" cy="167.4" r="19.6"/>
<circle cx="1272" cy="175.2" r="19.6"/>
<circle cx="1280.7" cy="185.6" r="19.6"/>
<circle cx="1301.4" cy="185.6" r="19.6"/>
<circle cx="1280.7" cy="214.1" r="19.6"/>
<circle cx="1302.8" cy="214.1" r="19.6"/>
<circle cx="1280.7" cy="242.6" r="19.6"/>
<circle cx="1308.5" cy="242.6" r="19.6"/>
<circle cx="1280.7" cy="271.1" r="19.6"/>
<circle cx="1308.5" cy="271.1" r="19.6"/>
<circle cx="1283.5" cy="299.7" r="19.6"/>
<circle cx="1301.4" cy="299.7" r="19.6"/>
<circle cx="1289.2" cy="316.8" r="19.6"/>
<circle cx="1321.3" cy="316.8" r="19.6"/>
<circle cx="1296.4" cy="342.4" r="19.6"/>
<circle cx="1325.6" cy="342.4" r="19.6"/>
<circle cx="1300.6" cy="371" r="19.6"/>
<circle cx="1322.8" cy="371" r="19.6"/>
<circle cx="1306.3" cy="385.2" r="19.6"/>
<circle cx="1327" cy="385.2" r="19.6"/>
<circle cx="1316.3" cy="408" r="19.6"/>
<circle cx="1342.7" cy="408" r="19.6"/>
<circle cx="1312" cy="428" r="19.6"/>
<circle cx="1332.7" cy="428" r="19.6"/>
<circle cx="1312.6" cy="456.5" r="19.6"/>
<circle cx="1341.3" cy="456.5" r="19.6"/>
<circle cx="1316.9" cy="485.1" r="19.6"/>
<circle cx="1338.4" cy="485.1" r="19.6"/>
<circle cx="1320.6" cy="522.1" r="19.6"/>
<circle cx="1351.3" cy="522.1" r="19.6"/>
<circle cx="1320.6" cy="556.4" r="19.6"/>
<circle cx="1347" cy="556.4" r="19.6"/>
<circle cx="1323.5" cy="584.9" r="19.6"/>
<circle cx="1364.1" cy="584.9" r="19.6"/>
<circle cx="1322.1" cy="584.2" r="19.6"/>
<circle cx="1365.1" cy="584.2" r="19.6"/>
<circle cx="1349.5" cy="618.5" r="19.6"/>
<circle cx="1366.8" cy="618.5" r="19.6"/>
<circle cx="1354.7" cy="652.7" r="19.6"/>
<circle cx="1366.8" cy="652.7" r="19.6"/>
<circle cx="1358.1" cy="686.9" r="19.6"/>
<circle cx="1366.8" cy="686.9" r="19.6"/>
<circle cx="1363.2" cy="721.1" r="19.6"/>
<circle cx="1365.1" cy="721.1" r="19.6"/>
<circle cx="1361.5" cy="755.4" r="19.6"/>
<circle cx="1370.2" cy="755.4" r="19.6"/>
<circle cx="1371.8" cy="789.6" r="19.6"/>
<circle cx="1375.4" cy="789.6" r="19.6"/>
<circle cx="1373.5" cy="823.8" r="19.6"/>
<circle cx="1375.4" cy="823.8" r="19.6"/>
<circle cx="1373.5" cy="858" r="19.6"/>
<circle cx="1382.2" cy="858" r="19.6"/>
<circle cx="1376.9" cy="892.3" r="19.6"/>
<circle cx="1387.3" cy="892.3" r="19.6"/>
<circle cx="1380.3" cy="926.5" r="19.6"/>
<circle cx="1390.8" cy="926.5" r="19.6"/>
<circle cx="1388.9" cy="960.7" r="19.6"/>
<circle cx="1390.8" cy="960.7" r="19.6"/>
<circle cx="1392.3" cy="995" r="19.6"/>
<circle cx="1392.5" cy="995" r="19.6"/>
<circle cx="1394" cy="1029.2" r="19.6"/>
<circle cx="1404.4" cy="1029.2" r="19.6"/>
<circle cx="1395.7" cy="1063.4" r="19.6"/>
<circle cx="1406.2" cy="1063.4" r="19.6"/>
<circle cx="1394" cy="1097.6" r="19.6"/>
<circle cx="1407.9" cy="1097.6" r="19.6"/>
<circle cx="1394" cy="1131.9" r="19.6"/>
<circle cx="1407.9" cy="1131.9" r="19.6"/>
<circle cx="1406.3" cy="1145.6" r="19.6"/>
<circle cx="1410.5" cy="1145.6" r="19.6"/>
<circle cx="1401.7" cy="1168.5" r="19.6"/>
<circle cx="1413.9" cy="1168.5" r="19.6"/>
<circle cx="1408.6" cy="1191.3" r="19.6"/>
<circle cx="1417.3" cy="1191.3" r="19.6"/>
<circle cx="1405.2" cy="1214.1" r="19.6"/>
<circle cx="1420.7" cy="1214.1" r="19.6"/>
<circle cx="1415.4" cy="1236.9" r="19.6"/>
<circle cx="1419.6" cy="1236.9" r="19.6"/>
<circle cx="1416.6" cy="1259.7" r="19.6"/>
<circle cx="1424.2" cy="1259.7" r="19.6"/>
<circle cx="1424.6" cy="1282.5" r="19.6"/>
<circle cx="1426.4" cy="1282.5" r="19.6"/>
<circle cx="1425.7" cy="1305.4" r="19.6"/>
<circle cx="1445.8" cy="1305.4" r="19.6"/>
<circle cx="1423.4" cy="1328.2" r="19.6"/>
<circle cx="1449.3" cy="1328.2" r="19.6"/>
<circle cx="1425.7" cy="1351" r="19.6"/>
<circle cx="1449.3" cy="1351" r="19.6"/>
<circle cx="1436" cy="1373.8" r="19.6"/>
<circle cx="1445.8" cy="1373.8" r="19.6"/>
<circle cx="1444" cy="1396.6" r="19.6"/>
<circle cx="1449.3" cy="1396.6" r="19.6"/>
<circle cx="1454.2" cy="1419.5" r="19.6"/>
<circle cx="1455" cy="1419.5" r="19.6"/>
<circle cx="1451.9" cy="1442.3" r="19.6"/>
<circle cx="1469.8" cy="1442.3" r="19.6"/>
<circle cx="1453.1" cy="1465.1" r="19.6"/>
<circle cx="1472.1" cy="1465.1" r="19.6"/>
<circle cx="1458.8" cy="1487.9" r="19.6"/>
<circle cx="1489.2" cy="1487.9" r="19.6"/>
<circle cx="1459.9" cy="1500" r="19.6"/>
<circle cx="1488" cy="1500" r="19.6"/>
<circle cx="1465.6" cy="1522.8" r="19.6"/>
<circle cx="1505.2" cy="1522.8" r="19.6"/>
<circle cx="1466.8" cy="1545.6" r="19.6"/>
<circle cx="1507.4" cy="1545.6" r="19.6"/>
<circle cx="1470.2" cy="1568.5" r="19.6"/>
<circle cx="1509.7" cy="1568.5" r="19.6"/>
<circle cx="1483.9" cy="1591.3" r="19.6"/>
<circle cx="1513.1" cy="1591.3" r="19.6"/>
<circle cx="1509" cy="1614.1" r="19.6"/>
<circle cx="1515.4" cy="1614.1" r="19.6"/>
<circle cx="1506.7" cy="1636.9" r="19.6"/>
<circle cx="1517.7" cy="1636.9" r="19.6"/>
<circle cx="1513.6" cy="1659.7" r="19.6"/>
<circle cx="1518.8" cy="1659.7" r="19.6"/>
<circle cx="1513.6" cy="1682.5" r="19.6"/>
<circle cx="1525.7" cy="1682.5" r="19.6"/>
<circle cx="1515.8" cy="1705.4" r="19.6"/>
<circle cx="1529.1" cy="1705.4" r="19.6"/>
<circle cx="1518.1" cy="1728.2" r="19.6"/>
<circle cx="1528" cy="1728.2" r="19.6"/>
<circle cx="1522.7" cy="1751" r="19.6"/>
<circle cx="1533.7" cy="1751" r="19.6"/>
<circle cx="1525" cy="1773.8" r="19.6"/>
<circle cx="1540.5" cy="1773.8" r="19.6"/>
<circle cx="1529.5" cy="1796.6" r="19.6"/>
<circle cx="1549.7" cy="1796.6" r="19.6"/>
<circle cx="1536.4" cy="1819.5" r="19.6"/>
<circle cx="1561.1" cy="1819.5" r="19.6"/>
<circle cx="1543.2" cy="1840.7" r="19.6"/>
<circle cx="1570.2" cy="1841.6" r="19.6"/>
<circle cx="1547.8" cy="1862.8" r="19.6"/>
<circle cx="1573.6" cy="1862.8" r="19.6"/>
<circle cx="1541.9" cy="1857.3" r="19.6"/>
<circle cx="1541.9" cy="1867.2" r="19.6"/>
<circle cx="1569.3" cy="1857.3" r="19.6"/>
<circle cx="1569.3" cy="1868.3" r="19.6"/>
</g>
<path d="M1395 979.5 H1494 V950 L1584 995 L1494 1040 V1010.5 H1395 Z" fill="#FC0310"/>
<g filter="url(#sh)"><rect x="212.4" y="82.3" width="391.5" height="667.4" fill="#F3F3F1" stroke="#000" stroke-width="10.8" stroke-linejoin="round"/></g>
<line x1="235.4" y1="136.8" x2="362.7" y2="136.8" stroke="#021B60" stroke-width="17.8" stroke-linecap="round"/>
<circle cx="296.3" cy="136.8" r="18.3" fill="#021B60"/>
<text x="373" y="162.5" font-size="76.6" textLength="208.2" lengthAdjust="spacingAndGlyphs" class="r rl">NCSA</text>
<line x1="234.7" y1="246.8" x2="361.2" y2="246.8" stroke="#00B050" stroke-width="12.3" stroke-linecap="round"/>
<circle cx="296.3" cy="246.8" r="18.3" fill="#00B050"/>
<text x="372.6" y="272.5" font-size="76.6" textLength="154.3" lengthAdjust="spacingAndGlyphs" class="r rl">NFZ</text>
<line x1="235.4" y1="359.2" x2="362.7" y2="359.2" stroke="#A6A6A6" stroke-width="17.8" stroke-linecap="round"/>
<circle cx="296.3" cy="359.2" r="18.3" fill="#A6A6A6"/>
<text x="372.8" y="384.9" font-size="76.6" textLength="167.1" lengthAdjust="spacingAndGlyphs" class="r rl">NCC</text>
<line x1="235.4" y1="469.6" x2="362.7" y2="469.6" stroke="#0070C0" stroke-width="17.8" stroke-linecap="round"/>
<circle cx="296.3" cy="469.6" r="18.3" fill="#0070C0"/>
<text x="372.7" y="495.3" font-size="76.6" textLength="162.9" lengthAdjust="spacingAndGlyphs" class="r rl">NCZ</text>
<line x1="234.7" y1="581.7" x2="361.2" y2="581.7" stroke="#7030A0" stroke-width="12.3" stroke-linecap="round"/>
<circle cx="296.3" cy="581.7" r="18.3" fill="#7030A0"/>
<text x="372.8" y="607.4" font-size="76.6" textLength="159.3" lengthAdjust="spacingAndGlyphs" class="r rl">NFC</text>
<line x1="234.7" y1="691.8" x2="361.2" y2="691.8" stroke="#FC0310" stroke-width="12.3" stroke-linecap="round"/>
<circle cx="296.3" cy="691.8" r="18.3" fill="#FC0310"/>
<text x="372.8" y="717.5" font-size="76.6" textLength="205.6" lengthAdjust="spacingAndGlyphs" class="r rl">NFSA</text>
<text x="158.8" y="1993.3" font-size="81" textLength="56.1" lengthAdjust="spacingAndGlyphs" class="r rt">0</text>
<text x="407.5" y="1993.3" font-size="81" textLength="141.1" lengthAdjust="spacingAndGlyphs" class="r rt">100</text>
<text x="695.6" y="1993.3" font-size="81" textLength="155.8" lengthAdjust="spacingAndGlyphs" class="r rt">200</text>
<text x="987.2" y="1993.3" font-size="81" textLength="156.5" lengthAdjust="spacingAndGlyphs" class="r rt">300</text>
<text x="1281.7" y="1993.3" font-size="81" textLength="156.6" lengthAdjust="spacingAndGlyphs" class="r rt">400</text>
<text x="1576.7" y="1993.3" font-size="81" textLength="155.8" lengthAdjust="spacingAndGlyphs" class="r rt">500</text>
<text class="b"><tspan x="584.3" y="2141.8" font-size="95" textLength="633.8" lengthAdjust="spacingAndGlyphs">Temperature</tspan> <tspan x="1247" y="2139.6" font-size="92.2" textLength="30.8" lengthAdjust="spacingAndGlyphs">[</tspan><tspan x="1278.6" y="2160.7" font-size="113" textLength="43.9" lengthAdjust="spacingAndGlyphs">°</tspan><tspan x="1320.7" y="2141.8" font-size="95" textLength="66.2" lengthAdjust="spacingAndGlyphs">C</tspan><tspan x="1388.2" y="2139.6" font-size="92.2" textLength="29.6" lengthAdjust="spacingAndGlyphs">]</tspan></text>
<text class="b" transform="rotate(-90)"><tspan x="-1340.8" y="110.5" font-size="95" textLength="428.6" lengthAdjust="spacingAndGlyphs">Intensity</tspan> <tspan x="-883.8" y="110.5" font-size="95" textLength="231.4" lengthAdjust="spacingAndGlyphs">[a.u.]</tspan></text>
<text class="b" transform="rotate(-90)"><tspan x="-1485.3" y="1773.4" font-size="95" textLength="427.3" lengthAdjust="spacingAndGlyphs">Intensity</tspan> <tspan x="-1030.8" y="1773.4" font-size="95" textLength="53.6" lengthAdjust="spacingAndGlyphs">x</tspan> <tspan x="-952.9" y="1773.4" font-size="95" textLength="100.4" lengthAdjust="spacingAndGlyphs">10</tspan><tspan x="-847.1" y="1790.4" font-size="123.6" textLength="34.3" lengthAdjust="spacingAndGlyphs">²</tspan> <tspan x="-784.7" y="1773.4" font-size="95" textLength="229.6" lengthAdjust="spacingAndGlyphs">[a.u.]</tspan></text>
</svg>
</body></html>
